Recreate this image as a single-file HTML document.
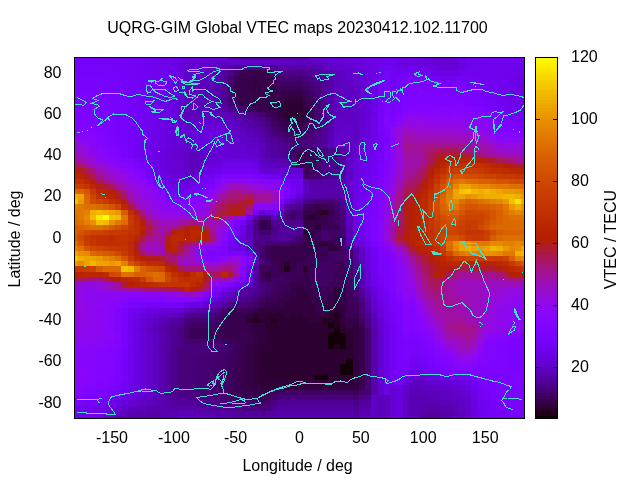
<!DOCTYPE html>
<html lang="en"><head><meta charset="utf-8"><title>UQRG-GIM Global VTEC maps</title>
<style>
html,body{margin:0;padding:0;background:#fff;overflow:hidden}
svg{display:block;position:absolute;left:0;top:0}
text{font-family:"Liberation Sans",Arial,Helvetica,sans-serif;font-size:16px;fill:#000}
.hm rect{shape-rendering:crispEdges}
.cb rect{shape-rendering:crispEdges}
.coast{fill:none;stroke:#40e0d0;stroke-width:1;shape-rendering:crispEdges;stroke-linejoin:miter}
.fr{fill:none;stroke:#000;stroke-width:1;shape-rendering:crispEdges}
</style></head><body>
<svg width="640" height="480" viewBox="0 0 640 480">
<rect width="640" height="480" fill="#fff"/>
<g class="hm">
<rect x="75" y="58" width="40" height="2" fill="#7502f7"/><rect x="115" y="58" width="31" height="2" fill="#7302f3"/><rect x="146" y="58" width="25" height="2" fill="#6e02ea"/><rect x="171" y="58" width="7" height="2" fill="#6b01e3"/><rect x="178" y="58" width="6" height="2" fill="#6901df"/><rect x="184" y="58" width="19" height="2" fill="#6a01e1"/><rect x="203" y="58" width="18" height="2" fill="#6701da"/><rect x="221" y="58" width="7" height="2" fill="#6801de"/><rect x="228" y="58" width="6" height="2" fill="#5c01ba"/><rect x="234" y="58" width="12" height="2" fill="#5700aa"/><rect x="246" y="58" width="32" height="2" fill="#54009f"/><rect x="278" y="58" width="31" height="2" fill="#5700aa"/><rect x="309" y="58" width="19" height="2" fill="#6301cf"/><rect x="328" y="58" width="18" height="2" fill="#6601d6"/><rect x="346" y="58" width="19" height="2" fill="#6801dd"/><rect x="365" y="58" width="25" height="2" fill="#6e02ea"/><rect x="390" y="58" width="6" height="2" fill="#6f02ed"/><rect x="396" y="58" width="7" height="2" fill="#6b01e4"/><rect x="403" y="58" width="6" height="2" fill="#6a01e1"/><rect x="409" y="58" width="6" height="2" fill="#6d02e7"/><rect x="415" y="58" width="13" height="2" fill="#6a01e1"/><rect x="428" y="58" width="25" height="2" fill="#6501d3"/><rect x="453" y="58" width="6" height="2" fill="#6701db"/><rect x="459" y="58" width="6" height="2" fill="#6a01e2"/><rect x="465" y="58" width="19" height="2" fill="#6e02ea"/><rect x="484" y="58" width="40" height="2" fill="#7002ef"/>
<rect x="75" y="60" width="3" height="5" fill="#7502f7"/><rect x="78" y="60" width="25" height="5" fill="#7502f8"/><rect x="103" y="60" width="12" height="5" fill="#7502f7"/><rect x="115" y="60" width="6" height="5" fill="#7402f6"/><rect x="121" y="60" width="7" height="5" fill="#7402f5"/><rect x="128" y="60" width="6" height="5" fill="#7302f4"/><rect x="134" y="60" width="6" height="5" fill="#7202f3"/><rect x="140" y="60" width="6" height="5" fill="#7102f1"/><rect x="146" y="60" width="7" height="5" fill="#7002ef"/><rect x="153" y="60" width="6" height="5" fill="#6f02ed"/><rect x="159" y="60" width="6" height="5" fill="#6e02ea"/><rect x="165" y="60" width="6" height="5" fill="#6d02e8"/><rect x="171" y="60" width="7" height="5" fill="#6c01e6"/><rect x="178" y="60" width="6" height="5" fill="#6801dd"/><rect x="184" y="60" width="12" height="5" fill="#6501d5"/><rect x="196" y="60" width="7" height="5" fill="#6401d2"/><rect x="203" y="60" width="6" height="5" fill="#6401d0"/><rect x="209" y="60" width="6" height="5" fill="#6301cf"/><rect x="215" y="60" width="6" height="5" fill="#6101c8"/><rect x="221" y="60" width="7" height="5" fill="#6001c6"/><rect x="228" y="60" width="6" height="5" fill="#6201cc"/><rect x="234" y="60" width="6" height="5" fill="#6301cf"/><rect x="240" y="60" width="6" height="5" fill="#6301ce"/><rect x="246" y="60" width="7" height="5" fill="#6201cc"/><rect x="253" y="60" width="6" height="5" fill="#6101ca"/><rect x="259" y="60" width="6" height="5" fill="#6101c9"/><rect x="265" y="60" width="6" height="5" fill="#6001c7"/><rect x="271" y="60" width="7" height="5" fill="#6001c5"/><rect x="278" y="60" width="6" height="5" fill="#5f01c4"/><rect x="284" y="60" width="6" height="5" fill="#5f01c2"/><rect x="290" y="60" width="6" height="5" fill="#5e01c0"/><rect x="296" y="60" width="7" height="5" fill="#5d01be"/><rect x="303" y="60" width="18" height="5" fill="#5e01c1"/><rect x="321" y="60" width="7" height="5" fill="#6101ca"/><rect x="328" y="60" width="6" height="5" fill="#6301ce"/><rect x="334" y="60" width="6" height="5" fill="#6401d3"/><rect x="340" y="60" width="6" height="5" fill="#6501d6"/><rect x="346" y="60" width="7" height="5" fill="#6601d8"/><rect x="353" y="60" width="6" height="5" fill="#6701db"/><rect x="359" y="60" width="6" height="5" fill="#6901df"/><rect x="365" y="60" width="6" height="5" fill="#6b01e4"/><rect x="371" y="60" width="13" height="5" fill="#6d02e8"/><rect x="384" y="60" width="12" height="5" fill="#6f02ee"/><rect x="396" y="60" width="7" height="5" fill="#6b01e3"/><rect x="403" y="60" width="6" height="5" fill="#6901e0"/><rect x="409" y="60" width="6" height="5" fill="#6b01e3"/><rect x="415" y="60" width="6" height="5" fill="#6901df"/><rect x="421" y="60" width="7" height="5" fill="#6801db"/><rect x="428" y="60" width="6" height="5" fill="#6601d8"/><rect x="434" y="60" width="6" height="5" fill="#6501d5"/><rect x="440" y="60" width="13" height="5" fill="#6401d3"/><rect x="453" y="60" width="6" height="5" fill="#6501d5"/><rect x="459" y="60" width="6" height="5" fill="#6901e0"/><rect x="465" y="60" width="6" height="5" fill="#6e02eb"/><rect x="471" y="60" width="7" height="5" fill="#6f02ec"/><rect x="478" y="60" width="6" height="5" fill="#6f02ed"/><rect x="484" y="60" width="6" height="5" fill="#7002ee"/><rect x="490" y="60" width="25" height="5" fill="#7002ef"/><rect x="515" y="60" width="6" height="5" fill="#7002ee"/><rect x="521" y="60" width="3" height="5" fill="#7002ef"/>
<rect x="75" y="65" width="3" height="5" fill="#7502f7"/><rect x="78" y="65" width="31" height="5" fill="#7602f8"/><rect x="109" y="65" width="12" height="5" fill="#7502f7"/><rect x="121" y="65" width="7" height="5" fill="#7402f6"/><rect x="128" y="65" width="6" height="5" fill="#7402f5"/><rect x="134" y="65" width="6" height="5" fill="#7302f4"/><rect x="140" y="65" width="6" height="5" fill="#7202f2"/><rect x="146" y="65" width="7" height="5" fill="#7102f0"/><rect x="153" y="65" width="6" height="5" fill="#7002ee"/><rect x="159" y="65" width="6" height="5" fill="#6e02ec"/><rect x="165" y="65" width="6" height="5" fill="#6e02ea"/><rect x="171" y="65" width="7" height="5" fill="#6c01e7"/><rect x="178" y="65" width="6" height="5" fill="#6801dc"/><rect x="184" y="65" width="6" height="5" fill="#6301d0"/><rect x="190" y="65" width="6" height="5" fill="#6301ce"/><rect x="196" y="65" width="7" height="5" fill="#6101ca"/><rect x="203" y="65" width="6" height="5" fill="#6001c6"/><rect x="209" y="65" width="6" height="5" fill="#5f01c3"/><rect x="215" y="65" width="6" height="5" fill="#5d01bc"/><rect x="221" y="65" width="7" height="5" fill="#5900b1"/><rect x="228" y="65" width="6" height="5" fill="#5500a5"/><rect x="234" y="65" width="12" height="5" fill="#4f0092"/><rect x="246" y="65" width="19" height="5" fill="#4c0086"/><rect x="265" y="65" width="6" height="5" fill="#4d008a"/><rect x="271" y="65" width="7" height="5" fill="#510097"/><rect x="278" y="65" width="37" height="5" fill="#5700aa"/><rect x="315" y="65" width="6" height="5" fill="#5a00b4"/><rect x="321" y="65" width="7" height="5" fill="#5d01bd"/><rect x="328" y="65" width="6" height="5" fill="#6001c6"/><rect x="334" y="65" width="6" height="5" fill="#6301cf"/><rect x="340" y="65" width="6" height="5" fill="#6401d1"/><rect x="346" y="65" width="7" height="5" fill="#6501d4"/><rect x="353" y="65" width="6" height="5" fill="#6601d7"/><rect x="359" y="65" width="6" height="5" fill="#6801dc"/><rect x="365" y="65" width="6" height="5" fill="#6901e0"/><rect x="371" y="65" width="7" height="5" fill="#6b01e4"/><rect x="378" y="65" width="6" height="5" fill="#6f02ec"/><rect x="384" y="65" width="6" height="5" fill="#7302f4"/><rect x="390" y="65" width="6" height="5" fill="#7102f0"/><rect x="396" y="65" width="13" height="5" fill="#6d02e9"/><rect x="409" y="65" width="6" height="5" fill="#6f02ed"/><rect x="415" y="65" width="6" height="5" fill="#6d02e8"/><rect x="421" y="65" width="7" height="5" fill="#6b01e4"/><rect x="428" y="65" width="6" height="5" fill="#6901e0"/><rect x="434" y="65" width="6" height="5" fill="#6801dc"/><rect x="440" y="65" width="19" height="5" fill="#6701da"/><rect x="459" y="65" width="6" height="5" fill="#6b01e3"/><rect x="465" y="65" width="6" height="5" fill="#6f02ed"/><rect x="471" y="65" width="38" height="5" fill="#7002ef"/><rect x="509" y="65" width="6" height="5" fill="#6f02ed"/><rect x="515" y="65" width="6" height="5" fill="#6f02ec"/><rect x="521" y="65" width="3" height="5" fill="#6e02ea"/>
<rect x="75" y="70" width="3" height="6" fill="#7703fa"/><rect x="78" y="70" width="31" height="6" fill="#7603f9"/><rect x="109" y="70" width="6" height="6" fill="#7602f8"/><rect x="115" y="70" width="6" height="6" fill="#7502f8"/><rect x="121" y="70" width="7" height="6" fill="#7502f7"/><rect x="128" y="70" width="6" height="6" fill="#7402f6"/><rect x="134" y="70" width="6" height="6" fill="#7302f5"/><rect x="140" y="70" width="6" height="6" fill="#7202f3"/><rect x="146" y="70" width="7" height="6" fill="#7102f1"/><rect x="153" y="70" width="6" height="6" fill="#7002ef"/><rect x="159" y="70" width="6" height="6" fill="#6f02ed"/><rect x="165" y="70" width="6" height="6" fill="#6e02eb"/><rect x="171" y="70" width="7" height="6" fill="#6d02e8"/><rect x="178" y="70" width="6" height="6" fill="#6801dd"/><rect x="184" y="70" width="6" height="6" fill="#6301d0"/><rect x="190" y="70" width="6" height="6" fill="#6101c9"/><rect x="196" y="70" width="7" height="6" fill="#6001c6"/><rect x="203" y="70" width="6" height="6" fill="#5e01c1"/><rect x="209" y="70" width="6" height="6" fill="#5d01bd"/><rect x="215" y="70" width="6" height="6" fill="#5a01b5"/><rect x="221" y="70" width="7" height="6" fill="#5400a1"/><rect x="228" y="70" width="6" height="6" fill="#4b0085"/><rect x="234" y="70" width="6" height="6" fill="#43006c"/><rect x="240" y="70" width="6" height="6" fill="#3b0053"/><rect x="246" y="70" width="19" height="6" fill="#37004b"/><rect x="265" y="70" width="6" height="6" fill="#39004e"/><rect x="271" y="70" width="7" height="6" fill="#470078"/><rect x="278" y="70" width="25" height="6" fill="#4d0089"/><rect x="303" y="70" width="12" height="6" fill="#500094"/><rect x="315" y="70" width="6" height="6" fill="#54009f"/><rect x="321" y="70" width="7" height="6" fill="#5700aa"/><rect x="328" y="70" width="6" height="6" fill="#5a00b4"/><rect x="334" y="70" width="6" height="6" fill="#5d01bd"/><rect x="340" y="70" width="6" height="6" fill="#6001c6"/><rect x="346" y="70" width="7" height="6" fill="#6201cd"/><rect x="353" y="70" width="6" height="6" fill="#6401d3"/><rect x="359" y="70" width="6" height="6" fill="#6701db"/><rect x="365" y="70" width="6" height="6" fill="#6901df"/><rect x="371" y="70" width="7" height="6" fill="#6b01e4"/><rect x="378" y="70" width="6" height="6" fill="#7202f2"/><rect x="384" y="70" width="6" height="6" fill="#7603f9"/><rect x="390" y="70" width="6" height="6" fill="#7202f2"/><rect x="396" y="70" width="13" height="6" fill="#7102f1"/><rect x="409" y="70" width="6" height="6" fill="#7202f3"/><rect x="415" y="70" width="6" height="6" fill="#7102f1"/><rect x="421" y="70" width="7" height="6" fill="#6f02ee"/><rect x="428" y="70" width="6" height="6" fill="#6e02ea"/><rect x="434" y="70" width="6" height="6" fill="#6c01e7"/><rect x="440" y="70" width="19" height="6" fill="#6c01e5"/><rect x="459" y="70" width="6" height="6" fill="#6e02ec"/><rect x="465" y="70" width="6" height="6" fill="#7102f1"/><rect x="471" y="70" width="7" height="6" fill="#7102f0"/><rect x="478" y="70" width="25" height="6" fill="#7002ef"/><rect x="503" y="70" width="6" height="6" fill="#6f02ec"/><rect x="509" y="70" width="6" height="6" fill="#6e02eb"/><rect x="515" y="70" width="6" height="6" fill="#6d02e9"/><rect x="521" y="70" width="3" height="6" fill="#6e02ea"/>
<rect x="75" y="76" width="34" height="5" fill="#7703fa"/><rect x="109" y="76" width="6" height="5" fill="#7603f9"/><rect x="115" y="76" width="6" height="5" fill="#7602f8"/><rect x="121" y="76" width="7" height="5" fill="#7502f8"/><rect x="128" y="76" width="6" height="5" fill="#7502f7"/><rect x="134" y="76" width="6" height="5" fill="#7402f6"/><rect x="140" y="76" width="6" height="5" fill="#7302f4"/><rect x="146" y="76" width="7" height="5" fill="#7202f2"/><rect x="153" y="76" width="6" height="5" fill="#7102f0"/><rect x="159" y="76" width="6" height="5" fill="#7002ee"/><rect x="165" y="76" width="6" height="5" fill="#6f02ec"/><rect x="171" y="76" width="7" height="5" fill="#6d02e8"/><rect x="178" y="76" width="6" height="5" fill="#6801dd"/><rect x="184" y="76" width="6" height="5" fill="#6201cd"/><rect x="190" y="76" width="6" height="5" fill="#6001c5"/><rect x="196" y="76" width="7" height="5" fill="#5e01c1"/><rect x="203" y="76" width="6" height="5" fill="#5d01bd"/><rect x="209" y="76" width="6" height="5" fill="#5c01b9"/><rect x="215" y="76" width="6" height="5" fill="#5900b0"/><rect x="221" y="76" width="7" height="5" fill="#510097"/><rect x="228" y="76" width="6" height="5" fill="#450073"/><rect x="234" y="76" width="6" height="5" fill="#3c0058"/><rect x="240" y="76" width="31" height="5" fill="#37004b"/><rect x="271" y="76" width="7" height="5" fill="#3e005c"/><rect x="278" y="76" width="25" height="5" fill="#450071"/><rect x="303" y="76" width="6" height="5" fill="#49007d"/><rect x="309" y="76" width="6" height="5" fill="#4d0089"/><rect x="315" y="76" width="6" height="5" fill="#500094"/><rect x="321" y="76" width="7" height="5" fill="#54009f"/><rect x="328" y="76" width="6" height="5" fill="#5700aa"/><rect x="334" y="76" width="6" height="5" fill="#5d01bd"/><rect x="340" y="76" width="6" height="5" fill="#5f01c3"/><rect x="346" y="76" width="7" height="5" fill="#6101c9"/><rect x="353" y="76" width="6" height="5" fill="#6301ce"/><rect x="359" y="76" width="6" height="5" fill="#6601d8"/><rect x="365" y="76" width="6" height="5" fill="#6901df"/><rect x="371" y="76" width="7" height="5" fill="#6b01e4"/><rect x="378" y="76" width="6" height="5" fill="#7202f3"/><rect x="384" y="76" width="6" height="5" fill="#7803fb"/><rect x="390" y="76" width="6" height="5" fill="#7302f3"/><rect x="396" y="76" width="7" height="5" fill="#7402f6"/><rect x="403" y="76" width="6" height="5" fill="#7703fa"/><rect x="409" y="76" width="6" height="5" fill="#7803fb"/><rect x="415" y="76" width="6" height="5" fill="#7703fa"/><rect x="421" y="76" width="7" height="5" fill="#7602f8"/><rect x="428" y="76" width="6" height="5" fill="#7502f7"/><rect x="434" y="76" width="6" height="5" fill="#7402f5"/><rect x="440" y="76" width="13" height="5" fill="#7302f4"/><rect x="453" y="76" width="6" height="5" fill="#7202f3"/><rect x="459" y="76" width="6" height="5" fill="#7302f4"/><rect x="465" y="76" width="6" height="5" fill="#7402f5"/><rect x="471" y="76" width="7" height="5" fill="#7302f4"/><rect x="478" y="76" width="6" height="5" fill="#7202f2"/><rect x="484" y="76" width="6" height="5" fill="#7102f0"/><rect x="490" y="76" width="13" height="5" fill="#7002ef"/><rect x="503" y="76" width="6" height="5" fill="#6f02ec"/><rect x="509" y="76" width="6" height="5" fill="#6d02e9"/><rect x="515" y="76" width="6" height="5" fill="#6c01e6"/><rect x="521" y="76" width="3" height="5" fill="#6b01e4"/>
<rect x="75" y="81" width="3" height="5" fill="#7703fa"/><rect x="78" y="81" width="25" height="5" fill="#7803fa"/><rect x="103" y="81" width="12" height="5" fill="#7703fa"/><rect x="115" y="81" width="6" height="5" fill="#7603f9"/><rect x="121" y="81" width="7" height="5" fill="#7602f8"/><rect x="128" y="81" width="6" height="5" fill="#7502f8"/><rect x="134" y="81" width="6" height="5" fill="#7402f6"/><rect x="140" y="81" width="6" height="5" fill="#7302f4"/><rect x="146" y="81" width="7" height="5" fill="#7202f2"/><rect x="153" y="81" width="6" height="5" fill="#7102f0"/><rect x="159" y="81" width="6" height="5" fill="#7002ee"/><rect x="165" y="81" width="6" height="5" fill="#6e02ea"/><rect x="171" y="81" width="7" height="5" fill="#6c01e6"/><rect x="178" y="81" width="6" height="5" fill="#6701d9"/><rect x="184" y="81" width="6" height="5" fill="#6101c8"/><rect x="190" y="81" width="6" height="5" fill="#5f01c2"/><rect x="196" y="81" width="7" height="5" fill="#5e01bf"/><rect x="203" y="81" width="6" height="5" fill="#5c01bb"/><rect x="209" y="81" width="6" height="5" fill="#5b01b6"/><rect x="215" y="81" width="6" height="5" fill="#5800ad"/><rect x="221" y="81" width="7" height="5" fill="#500095"/><rect x="228" y="81" width="6" height="5" fill="#450073"/><rect x="234" y="81" width="19" height="5" fill="#37004b"/><rect x="253" y="81" width="6" height="5" fill="#32003d"/><rect x="259" y="81" width="12" height="5" fill="#37004b"/><rect x="271" y="81" width="7" height="5" fill="#39004f"/><rect x="278" y="81" width="25" height="5" fill="#410064"/><rect x="303" y="81" width="6" height="5" fill="#450071"/><rect x="309" y="81" width="6" height="5" fill="#49007d"/><rect x="315" y="81" width="6" height="5" fill="#4d0089"/><rect x="321" y="81" width="7" height="5" fill="#500094"/><rect x="328" y="81" width="6" height="5" fill="#5700aa"/><rect x="334" y="81" width="6" height="5" fill="#5d01bd"/><rect x="340" y="81" width="6" height="5" fill="#5e01c0"/><rect x="346" y="81" width="7" height="5" fill="#5f01c4"/><rect x="353" y="81" width="6" height="5" fill="#6101ca"/><rect x="359" y="81" width="6" height="5" fill="#6501d4"/><rect x="365" y="81" width="6" height="5" fill="#6801de"/><rect x="371" y="81" width="7" height="5" fill="#6b01e4"/><rect x="378" y="81" width="6" height="5" fill="#7202f3"/><rect x="384" y="81" width="6" height="5" fill="#7a03fd"/><rect x="390" y="81" width="6" height="5" fill="#7302f4"/><rect x="396" y="81" width="7" height="5" fill="#7602f8"/><rect x="403" y="81" width="6" height="5" fill="#7a03fd"/><rect x="409" y="81" width="6" height="5" fill="#7b03fe"/><rect x="415" y="81" width="6" height="5" fill="#7c03fe"/><rect x="421" y="81" width="7" height="5" fill="#7b03fd"/><rect x="428" y="81" width="6" height="5" fill="#7a03fc"/><rect x="434" y="81" width="6" height="5" fill="#7903fc"/><rect x="440" y="81" width="13" height="5" fill="#7803fb"/><rect x="453" y="81" width="6" height="5" fill="#7703fa"/><rect x="459" y="81" width="6" height="5" fill="#7703f9"/><rect x="465" y="81" width="6" height="5" fill="#7603f9"/><rect x="471" y="81" width="7" height="5" fill="#7502f6"/><rect x="478" y="81" width="6" height="5" fill="#7302f4"/><rect x="484" y="81" width="6" height="5" fill="#7202f3"/><rect x="490" y="81" width="6" height="5" fill="#7102f1"/><rect x="496" y="81" width="7" height="5" fill="#7002ef"/><rect x="503" y="81" width="6" height="5" fill="#6f02ec"/><rect x="509" y="81" width="6" height="5" fill="#6d02e9"/><rect x="515" y="81" width="6" height="5" fill="#6c01e6"/><rect x="521" y="81" width="3" height="5" fill="#6b01e4"/>
<rect x="75" y="86" width="3" height="5" fill="#7703fa"/><rect x="78" y="86" width="31" height="5" fill="#7803fb"/><rect x="109" y="86" width="12" height="5" fill="#7703fa"/><rect x="121" y="86" width="7" height="5" fill="#7603f9"/><rect x="128" y="86" width="6" height="5" fill="#7502f8"/><rect x="134" y="86" width="6" height="5" fill="#7402f6"/><rect x="140" y="86" width="6" height="5" fill="#7202f3"/><rect x="146" y="86" width="7" height="5" fill="#7102f1"/><rect x="153" y="86" width="6" height="5" fill="#7002ef"/><rect x="159" y="86" width="6" height="5" fill="#6f02ed"/><rect x="165" y="86" width="6" height="5" fill="#6d02e9"/><rect x="171" y="86" width="7" height="5" fill="#6a01e2"/><rect x="178" y="86" width="6" height="5" fill="#6401d3"/><rect x="184" y="86" width="6" height="5" fill="#5f01c3"/><rect x="190" y="86" width="6" height="5" fill="#5d01be"/><rect x="196" y="86" width="7" height="5" fill="#5d01bc"/><rect x="203" y="86" width="6" height="5" fill="#5c01ba"/><rect x="209" y="86" width="6" height="5" fill="#5b01b6"/><rect x="215" y="86" width="6" height="5" fill="#5800ad"/><rect x="221" y="86" width="7" height="5" fill="#500095"/><rect x="228" y="86" width="6" height="5" fill="#450073"/><rect x="234" y="86" width="19" height="5" fill="#37004b"/><rect x="253" y="86" width="6" height="5" fill="#32003d"/><rect x="259" y="86" width="19" height="5" fill="#37004b"/><rect x="278" y="86" width="25" height="5" fill="#3c0058"/><rect x="303" y="86" width="6" height="5" fill="#410064"/><rect x="309" y="86" width="6" height="5" fill="#450071"/><rect x="315" y="86" width="6" height="5" fill="#49007d"/><rect x="321" y="86" width="7" height="5" fill="#500094"/><rect x="328" y="86" width="6" height="5" fill="#5700aa"/><rect x="334" y="86" width="6" height="5" fill="#5d01bd"/><rect x="340" y="86" width="6" height="5" fill="#5e01c0"/><rect x="346" y="86" width="7" height="5" fill="#5f01c3"/><rect x="353" y="86" width="6" height="5" fill="#6001c6"/><rect x="359" y="86" width="6" height="5" fill="#6401d1"/><rect x="365" y="86" width="6" height="5" fill="#6701db"/><rect x="371" y="86" width="7" height="5" fill="#6b01e3"/><rect x="378" y="86" width="6" height="5" fill="#7302f5"/><rect x="384" y="86" width="6" height="5" fill="#7b03fd"/><rect x="390" y="86" width="6" height="5" fill="#7302f4"/><rect x="396" y="86" width="7" height="5" fill="#7703f9"/><rect x="403" y="86" width="12" height="5" fill="#7b03fd"/><rect x="415" y="86" width="6" height="5" fill="#7d04fe"/><rect x="421" y="86" width="13" height="5" fill="#7c03fe"/><rect x="434" y="86" width="6" height="5" fill="#7b03fe"/><rect x="440" y="86" width="6" height="5" fill="#7b03fd"/><rect x="446" y="86" width="7" height="5" fill="#7a03fd"/><rect x="453" y="86" width="6" height="5" fill="#7a03fc"/><rect x="459" y="86" width="6" height="5" fill="#7903fc"/><rect x="465" y="86" width="6" height="5" fill="#7903fb"/><rect x="471" y="86" width="7" height="5" fill="#7703fa"/><rect x="478" y="86" width="6" height="5" fill="#7502f7"/><rect x="484" y="86" width="6" height="5" fill="#7302f4"/><rect x="490" y="86" width="6" height="5" fill="#7102f1"/><rect x="496" y="86" width="7" height="5" fill="#7002ef"/><rect x="503" y="86" width="6" height="5" fill="#6f02ec"/><rect x="509" y="86" width="6" height="5" fill="#6d02e9"/><rect x="515" y="86" width="6" height="5" fill="#6c01e6"/><rect x="521" y="86" width="3" height="5" fill="#6b01e4"/>
<rect x="75" y="91" width="3" height="5" fill="#7a03fc"/><rect x="78" y="91" width="25" height="5" fill="#7903fc"/><rect x="103" y="91" width="12" height="5" fill="#7803fb"/><rect x="115" y="91" width="6" height="5" fill="#7703fa"/><rect x="121" y="91" width="7" height="5" fill="#7603f9"/><rect x="128" y="91" width="6" height="5" fill="#7502f8"/><rect x="134" y="91" width="6" height="5" fill="#7402f6"/><rect x="140" y="91" width="6" height="5" fill="#7202f3"/><rect x="146" y="91" width="7" height="5" fill="#7102f0"/><rect x="153" y="91" width="6" height="5" fill="#7002ee"/><rect x="159" y="91" width="6" height="5" fill="#6f02ec"/><rect x="165" y="91" width="6" height="5" fill="#6c02e7"/><rect x="171" y="91" width="7" height="5" fill="#6a01e1"/><rect x="178" y="91" width="6" height="5" fill="#6401d1"/><rect x="184" y="91" width="6" height="5" fill="#5e01bf"/><rect x="190" y="91" width="6" height="5" fill="#5c01bc"/><rect x="196" y="91" width="7" height="5" fill="#5c01b9"/><rect x="203" y="91" width="6" height="5" fill="#5b01b7"/><rect x="209" y="91" width="6" height="5" fill="#5a01b5"/><rect x="215" y="91" width="6" height="5" fill="#5800ad"/><rect x="221" y="91" width="7" height="5" fill="#500095"/><rect x="228" y="91" width="6" height="5" fill="#450073"/><rect x="234" y="91" width="69" height="5" fill="#37004b"/><rect x="303" y="91" width="6" height="5" fill="#3c0058"/><rect x="309" y="91" width="6" height="5" fill="#410064"/><rect x="315" y="91" width="6" height="5" fill="#49007d"/><rect x="321" y="91" width="7" height="5" fill="#500094"/><rect x="328" y="91" width="6" height="5" fill="#5700aa"/><rect x="334" y="91" width="6" height="5" fill="#5d01bd"/><rect x="340" y="91" width="6" height="5" fill="#5e01c0"/><rect x="346" y="91" width="7" height="5" fill="#5f01c3"/><rect x="353" y="91" width="6" height="5" fill="#6001c6"/><rect x="359" y="91" width="6" height="5" fill="#6401d1"/><rect x="365" y="91" width="6" height="5" fill="#6701db"/><rect x="371" y="91" width="7" height="5" fill="#6b01e3"/><rect x="378" y="91" width="6" height="5" fill="#7402f5"/><rect x="384" y="91" width="6" height="5" fill="#7c03fe"/><rect x="390" y="91" width="6" height="5" fill="#7402f5"/><rect x="396" y="91" width="7" height="5" fill="#7803fb"/><rect x="403" y="91" width="6" height="5" fill="#7c03fe"/><rect x="409" y="91" width="6" height="5" fill="#7f04ff"/><rect x="415" y="91" width="13" height="5" fill="#7e04ff"/><rect x="428" y="91" width="6" height="5" fill="#7d04ff"/><rect x="434" y="91" width="6" height="5" fill="#7d03fe"/><rect x="440" y="91" width="13" height="5" fill="#7c03fe"/><rect x="453" y="91" width="6" height="5" fill="#7b03fe"/><rect x="459" y="91" width="6" height="5" fill="#7b03fd"/><rect x="465" y="91" width="6" height="5" fill="#7a03fd"/><rect x="471" y="91" width="7" height="5" fill="#7903fc"/><rect x="478" y="91" width="6" height="5" fill="#7703f9"/><rect x="484" y="91" width="6" height="5" fill="#7502f7"/><rect x="490" y="91" width="6" height="5" fill="#7202f3"/><rect x="496" y="91" width="7" height="5" fill="#7002ef"/><rect x="503" y="91" width="6" height="5" fill="#6f02ec"/><rect x="509" y="91" width="6" height="5" fill="#6d02e9"/><rect x="515" y="91" width="6" height="5" fill="#6c01e6"/><rect x="521" y="91" width="3" height="5" fill="#6b01e4"/>
<rect x="75" y="96" width="3" height="5" fill="#7a03fc"/><rect x="78" y="96" width="31" height="5" fill="#7903fc"/><rect x="109" y="96" width="6" height="5" fill="#7803fb"/><rect x="115" y="96" width="6" height="5" fill="#7703fa"/><rect x="121" y="96" width="7" height="5" fill="#7603f9"/><rect x="128" y="96" width="6" height="5" fill="#7502f8"/><rect x="134" y="96" width="6" height="5" fill="#7402f6"/><rect x="140" y="96" width="6" height="5" fill="#7202f3"/><rect x="146" y="96" width="7" height="5" fill="#7102f0"/><rect x="153" y="96" width="6" height="5" fill="#6f02ed"/><rect x="159" y="96" width="6" height="5" fill="#6e02eb"/><rect x="165" y="96" width="6" height="5" fill="#6c01e6"/><rect x="171" y="96" width="7" height="5" fill="#6901e0"/><rect x="178" y="96" width="6" height="5" fill="#6301d0"/><rect x="184" y="96" width="6" height="5" fill="#5d01be"/><rect x="190" y="96" width="6" height="5" fill="#5c01bc"/><rect x="196" y="96" width="7" height="5" fill="#5c01b9"/><rect x="203" y="96" width="6" height="5" fill="#5b01b7"/><rect x="209" y="96" width="6" height="5" fill="#5a01b5"/><rect x="215" y="96" width="6" height="5" fill="#5800ad"/><rect x="221" y="96" width="7" height="5" fill="#500095"/><rect x="228" y="96" width="6" height="5" fill="#450073"/><rect x="234" y="96" width="6" height="5" fill="#3c0058"/><rect x="240" y="96" width="44" height="5" fill="#37004b"/><rect x="284" y="96" width="19" height="5" fill="#32003d"/><rect x="303" y="96" width="6" height="5" fill="#37004b"/><rect x="309" y="96" width="6" height="5" fill="#410064"/><rect x="315" y="96" width="6" height="5" fill="#49007d"/><rect x="321" y="96" width="7" height="5" fill="#500094"/><rect x="328" y="96" width="6" height="5" fill="#5700aa"/><rect x="334" y="96" width="6" height="5" fill="#5d01bd"/><rect x="340" y="96" width="6" height="5" fill="#5e01c0"/><rect x="346" y="96" width="7" height="5" fill="#5f01c3"/><rect x="353" y="96" width="6" height="5" fill="#6001c6"/><rect x="359" y="96" width="6" height="5" fill="#6401d1"/><rect x="365" y="96" width="6" height="5" fill="#6701db"/><rect x="371" y="96" width="7" height="5" fill="#6b01e3"/><rect x="378" y="96" width="6" height="5" fill="#7402f5"/><rect x="384" y="96" width="6" height="5" fill="#7c03fe"/><rect x="390" y="96" width="6" height="5" fill="#7402f6"/><rect x="396" y="96" width="7" height="5" fill="#7803fb"/><rect x="403" y="96" width="6" height="5" fill="#7d04ff"/><rect x="409" y="96" width="6" height="5" fill="#8004ff"/><rect x="415" y="96" width="13" height="5" fill="#7f04ff"/><rect x="428" y="96" width="12" height="5" fill="#7e04ff"/><rect x="440" y="96" width="6" height="5" fill="#7d04ff"/><rect x="446" y="96" width="7" height="5" fill="#7d04fe"/><rect x="453" y="96" width="12" height="5" fill="#7c03fe"/><rect x="465" y="96" width="6" height="5" fill="#7b03fe"/><rect x="471" y="96" width="7" height="5" fill="#7a03fd"/><rect x="478" y="96" width="6" height="5" fill="#7803fa"/><rect x="484" y="96" width="6" height="5" fill="#7502f7"/><rect x="490" y="96" width="6" height="5" fill="#7202f3"/><rect x="496" y="96" width="7" height="5" fill="#7002ef"/><rect x="503" y="96" width="6" height="5" fill="#6f02ec"/><rect x="509" y="96" width="6" height="5" fill="#6d02e9"/><rect x="515" y="96" width="6" height="5" fill="#6c01e6"/><rect x="521" y="96" width="3" height="5" fill="#6b01e4"/>
<rect x="75" y="101" width="28" height="5" fill="#7a03fc"/><rect x="103" y="101" width="6" height="5" fill="#7903fc"/><rect x="109" y="101" width="6" height="5" fill="#7803fb"/><rect x="115" y="101" width="6" height="5" fill="#7703fa"/><rect x="121" y="101" width="7" height="5" fill="#7603f9"/><rect x="128" y="101" width="6" height="5" fill="#7502f8"/><rect x="134" y="101" width="6" height="5" fill="#7402f6"/><rect x="140" y="101" width="6" height="5" fill="#7202f3"/><rect x="146" y="101" width="7" height="5" fill="#7102f0"/><rect x="153" y="101" width="6" height="5" fill="#6f02ed"/><rect x="159" y="101" width="6" height="5" fill="#6d02ea"/><rect x="165" y="101" width="6" height="5" fill="#6b01e5"/><rect x="171" y="101" width="7" height="5" fill="#6901de"/><rect x="178" y="101" width="6" height="5" fill="#6301ce"/><rect x="184" y="101" width="6" height="5" fill="#5d01be"/><rect x="190" y="101" width="6" height="5" fill="#5c01bc"/><rect x="196" y="101" width="7" height="5" fill="#5c01b9"/><rect x="203" y="101" width="6" height="5" fill="#5b01b7"/><rect x="209" y="101" width="6" height="5" fill="#5b01b6"/><rect x="215" y="101" width="6" height="5" fill="#5900b0"/><rect x="221" y="101" width="7" height="5" fill="#510097"/><rect x="228" y="101" width="6" height="5" fill="#450073"/><rect x="234" y="101" width="6" height="5" fill="#3c0058"/><rect x="240" y="101" width="38" height="5" fill="#37004b"/><rect x="278" y="101" width="6" height="5" fill="#32003d"/><rect x="284" y="101" width="19" height="5" fill="#2c0030"/><rect x="303" y="101" width="6" height="5" fill="#37004b"/><rect x="309" y="101" width="6" height="5" fill="#3c0058"/><rect x="315" y="101" width="6" height="5" fill="#450071"/><rect x="321" y="101" width="7" height="5" fill="#4d0089"/><rect x="328" y="101" width="6" height="5" fill="#5700aa"/><rect x="334" y="101" width="6" height="5" fill="#5d01bd"/><rect x="340" y="101" width="6" height="5" fill="#5e01c0"/><rect x="346" y="101" width="7" height="5" fill="#5f01c3"/><rect x="353" y="101" width="6" height="5" fill="#6001c6"/><rect x="359" y="101" width="6" height="5" fill="#6401d1"/><rect x="365" y="101" width="6" height="5" fill="#6701db"/><rect x="371" y="101" width="7" height="5" fill="#6b01e3"/><rect x="378" y="101" width="6" height="5" fill="#7402f5"/><rect x="384" y="101" width="6" height="5" fill="#7c03fe"/><rect x="390" y="101" width="6" height="5" fill="#7502f7"/><rect x="396" y="101" width="7" height="5" fill="#7903fc"/><rect x="403" y="101" width="18" height="5" fill="#7e04ff"/><rect x="421" y="101" width="7" height="5" fill="#7d04ff"/><rect x="428" y="101" width="31" height="5" fill="#7e04ff"/><rect x="459" y="101" width="6" height="5" fill="#7d04ff"/><rect x="465" y="101" width="6" height="5" fill="#7d03fe"/><rect x="471" y="101" width="7" height="5" fill="#7b03fd"/><rect x="478" y="101" width="6" height="5" fill="#7903fc"/><rect x="484" y="101" width="6" height="5" fill="#7603f9"/><rect x="490" y="101" width="6" height="5" fill="#7402f5"/><rect x="496" y="101" width="7" height="5" fill="#7102f1"/><rect x="503" y="101" width="6" height="5" fill="#7002ee"/><rect x="509" y="101" width="6" height="5" fill="#6e02ec"/><rect x="515" y="101" width="6" height="5" fill="#6d02e9"/><rect x="521" y="101" width="3" height="5" fill="#6b01e4"/>
<rect x="75" y="106" width="3" height="6" fill="#7a03fc"/><rect x="78" y="106" width="18" height="6" fill="#7b03fe"/><rect x="96" y="106" width="7" height="6" fill="#7b03fd"/><rect x="103" y="106" width="6" height="6" fill="#7a03fd"/><rect x="109" y="106" width="6" height="6" fill="#7903fc"/><rect x="115" y="106" width="6" height="6" fill="#7803fb"/><rect x="121" y="106" width="7" height="6" fill="#7703fa"/><rect x="128" y="106" width="6" height="6" fill="#7502f8"/><rect x="134" y="106" width="6" height="6" fill="#7402f6"/><rect x="140" y="106" width="6" height="6" fill="#7202f3"/><rect x="146" y="106" width="7" height="6" fill="#7102f0"/><rect x="153" y="106" width="6" height="6" fill="#6f02ed"/><rect x="159" y="106" width="6" height="6" fill="#6d02e8"/><rect x="165" y="106" width="6" height="6" fill="#6b01e5"/><rect x="171" y="106" width="7" height="6" fill="#6901df"/><rect x="178" y="106" width="6" height="6" fill="#6401d1"/><rect x="184" y="106" width="6" height="6" fill="#5d01be"/><rect x="190" y="106" width="6" height="6" fill="#5c01bc"/><rect x="196" y="106" width="19" height="6" fill="#5c01bb"/><rect x="215" y="106" width="6" height="6" fill="#5a01b5"/><rect x="221" y="106" width="7" height="6" fill="#5500a5"/><rect x="228" y="106" width="6" height="6" fill="#4f0092"/><rect x="234" y="106" width="6" height="6" fill="#48007c"/><rect x="240" y="106" width="6" height="6" fill="#440070"/><rect x="246" y="106" width="7" height="6" fill="#400063"/><rect x="253" y="106" width="6" height="6" fill="#3c0056"/><rect x="259" y="106" width="19" height="6" fill="#37004b"/><rect x="278" y="106" width="6" height="6" fill="#32003d"/><rect x="284" y="106" width="19" height="6" fill="#2c0030"/><rect x="303" y="106" width="6" height="6" fill="#32003d"/><rect x="309" y="106" width="6" height="6" fill="#3c0058"/><rect x="315" y="106" width="6" height="6" fill="#450071"/><rect x="321" y="106" width="7" height="6" fill="#4d0089"/><rect x="328" y="106" width="6" height="6" fill="#5700aa"/><rect x="334" y="106" width="6" height="6" fill="#5d01bd"/><rect x="340" y="106" width="6" height="6" fill="#5e01c0"/><rect x="346" y="106" width="7" height="6" fill="#5f01c3"/><rect x="353" y="106" width="6" height="6" fill="#6001c6"/><rect x="359" y="106" width="6" height="6" fill="#6401d1"/><rect x="365" y="106" width="6" height="6" fill="#6701db"/><rect x="371" y="106" width="7" height="6" fill="#6b01e4"/><rect x="378" y="106" width="6" height="6" fill="#7502f7"/><rect x="384" y="106" width="6" height="6" fill="#7d04ff"/><rect x="390" y="106" width="6" height="6" fill="#7703fa"/><rect x="396" y="106" width="7" height="6" fill="#7c03fe"/><rect x="403" y="106" width="6" height="6" fill="#8204ff"/><rect x="409" y="106" width="6" height="6" fill="#8205fe"/><rect x="415" y="106" width="6" height="6" fill="#8204ff"/><rect x="421" y="106" width="7" height="6" fill="#8104ff"/><rect x="428" y="106" width="6" height="6" fill="#8204ff"/><rect x="434" y="106" width="6" height="6" fill="#8205fe"/><rect x="440" y="106" width="6" height="6" fill="#8305fe"/><rect x="446" y="106" width="7" height="6" fill="#8205fe"/><rect x="453" y="106" width="6" height="6" fill="#8204ff"/><rect x="459" y="106" width="12" height="6" fill="#8104ff"/><rect x="471" y="106" width="7" height="6" fill="#7f04ff"/><rect x="478" y="106" width="6" height="6" fill="#7d04ff"/><rect x="484" y="106" width="6" height="6" fill="#7b03fd"/><rect x="490" y="106" width="6" height="6" fill="#7703fa"/><rect x="496" y="106" width="7" height="6" fill="#7402f5"/><rect x="503" y="106" width="6" height="6" fill="#7202f3"/><rect x="509" y="106" width="6" height="6" fill="#7102f1"/><rect x="515" y="106" width="6" height="6" fill="#7002ee"/><rect x="521" y="106" width="3" height="6" fill="#7002ef"/>
<rect x="75" y="112" width="3" height="5" fill="#7a03fc"/><rect x="78" y="112" width="12" height="5" fill="#7d03fe"/><rect x="90" y="112" width="6" height="5" fill="#7c03fe"/><rect x="96" y="112" width="7" height="5" fill="#7b03fe"/><rect x="103" y="112" width="6" height="5" fill="#7a03fd"/><rect x="109" y="112" width="6" height="5" fill="#7903fc"/><rect x="115" y="112" width="6" height="5" fill="#7803fb"/><rect x="121" y="112" width="7" height="5" fill="#7703fa"/><rect x="128" y="112" width="6" height="5" fill="#7502f8"/><rect x="134" y="112" width="6" height="5" fill="#7402f6"/><rect x="140" y="112" width="6" height="5" fill="#7202f3"/><rect x="146" y="112" width="7" height="5" fill="#7102f0"/><rect x="153" y="112" width="6" height="5" fill="#6f02ec"/><rect x="159" y="112" width="6" height="5" fill="#6c02e7"/><rect x="165" y="112" width="6" height="5" fill="#6b01e3"/><rect x="171" y="112" width="7" height="5" fill="#6901de"/><rect x="178" y="112" width="6" height="5" fill="#6301cf"/><rect x="184" y="112" width="6" height="5" fill="#5d01be"/><rect x="190" y="112" width="19" height="5" fill="#5d01bd"/><rect x="209" y="112" width="6" height="5" fill="#5d01be"/><rect x="215" y="112" width="6" height="5" fill="#5c01bb"/><rect x="221" y="112" width="7" height="5" fill="#5b01b6"/><rect x="228" y="112" width="6" height="5" fill="#5900b0"/><rect x="234" y="112" width="6" height="5" fill="#5400a0"/><rect x="240" y="112" width="6" height="5" fill="#500095"/><rect x="246" y="112" width="7" height="5" fill="#4d0089"/><rect x="253" y="112" width="6" height="5" fill="#49007e"/><rect x="259" y="112" width="6" height="5" fill="#450072"/><rect x="265" y="112" width="6" height="5" fill="#3d005a"/><rect x="271" y="112" width="7" height="5" fill="#3b0053"/><rect x="278" y="112" width="6" height="5" fill="#32003d"/><rect x="284" y="112" width="19" height="5" fill="#2c0030"/><rect x="303" y="112" width="6" height="5" fill="#32003d"/><rect x="309" y="112" width="6" height="5" fill="#3c0058"/><rect x="315" y="112" width="6" height="5" fill="#450071"/><rect x="321" y="112" width="7" height="5" fill="#4d0089"/><rect x="328" y="112" width="6" height="5" fill="#5700aa"/><rect x="334" y="112" width="6" height="5" fill="#5d01bd"/><rect x="340" y="112" width="6" height="5" fill="#5e01c0"/><rect x="346" y="112" width="7" height="5" fill="#5f01c3"/><rect x="353" y="112" width="6" height="5" fill="#6001c6"/><rect x="359" y="112" width="6" height="5" fill="#6401d1"/><rect x="365" y="112" width="6" height="5" fill="#6701db"/><rect x="371" y="112" width="7" height="5" fill="#6c01e6"/><rect x="378" y="112" width="6" height="5" fill="#7602f8"/><rect x="384" y="112" width="6" height="5" fill="#7e04ff"/><rect x="390" y="112" width="6" height="5" fill="#7903fc"/><rect x="396" y="112" width="7" height="5" fill="#8004ff"/><rect x="403" y="112" width="6" height="5" fill="#8605fb"/><rect x="409" y="112" width="6" height="5" fill="#8a06f6"/><rect x="415" y="112" width="6" height="5" fill="#8906f7"/><rect x="421" y="112" width="13" height="5" fill="#8906f8"/><rect x="434" y="112" width="6" height="5" fill="#8806f9"/><rect x="440" y="112" width="6" height="5" fill="#8806fa"/><rect x="446" y="112" width="7" height="5" fill="#8706fa"/><rect x="453" y="112" width="6" height="5" fill="#8706fb"/><rect x="459" y="112" width="6" height="5" fill="#8605fb"/><rect x="465" y="112" width="6" height="5" fill="#8605fc"/><rect x="471" y="112" width="7" height="5" fill="#8405fd"/><rect x="478" y="112" width="6" height="5" fill="#8205fe"/><rect x="484" y="112" width="6" height="5" fill="#8004ff"/><rect x="490" y="112" width="6" height="5" fill="#7b03fd"/><rect x="496" y="112" width="7" height="5" fill="#7603f9"/><rect x="503" y="112" width="6" height="5" fill="#7502f7"/><rect x="509" y="112" width="6" height="5" fill="#7302f5"/><rect x="515" y="112" width="6" height="5" fill="#7202f3"/><rect x="521" y="112" width="3" height="5" fill="#7002ef"/>
<rect x="75" y="117" width="3" height="5" fill="#8004ff"/><rect x="78" y="117" width="12" height="5" fill="#7e04ff"/><rect x="90" y="117" width="6" height="5" fill="#7d04fe"/><rect x="96" y="117" width="7" height="5" fill="#7c03fe"/><rect x="103" y="117" width="6" height="5" fill="#7b03fd"/><rect x="109" y="117" width="6" height="5" fill="#7a03fd"/><rect x="115" y="117" width="6" height="5" fill="#7803fb"/><rect x="121" y="117" width="7" height="5" fill="#7703fa"/><rect x="128" y="117" width="6" height="5" fill="#7502f8"/><rect x="134" y="117" width="6" height="5" fill="#7402f6"/><rect x="140" y="117" width="6" height="5" fill="#7202f3"/><rect x="146" y="117" width="7" height="5" fill="#7002ef"/><rect x="153" y="117" width="6" height="5" fill="#6e02eb"/><rect x="159" y="117" width="6" height="5" fill="#6c01e6"/><rect x="165" y="117" width="6" height="5" fill="#6a01e2"/><rect x="171" y="117" width="7" height="5" fill="#6801dd"/><rect x="178" y="117" width="6" height="5" fill="#6301d0"/><rect x="184" y="117" width="6" height="5" fill="#5e01c2"/><rect x="190" y="117" width="6" height="5" fill="#5f01c5"/><rect x="196" y="117" width="7" height="5" fill="#6001c6"/><rect x="203" y="117" width="6" height="5" fill="#6101c8"/><rect x="209" y="117" width="6" height="5" fill="#6101ca"/><rect x="215" y="117" width="6" height="5" fill="#6001c7"/><rect x="221" y="117" width="7" height="5" fill="#5f01c4"/><rect x="228" y="117" width="6" height="5" fill="#5f01c2"/><rect x="234" y="117" width="6" height="5" fill="#5a00b4"/><rect x="240" y="117" width="6" height="5" fill="#5700aa"/><rect x="246" y="117" width="7" height="5" fill="#54009f"/><rect x="253" y="117" width="6" height="5" fill="#500094"/><rect x="259" y="117" width="6" height="5" fill="#4d0089"/><rect x="265" y="117" width="6" height="5" fill="#450071"/><rect x="271" y="117" width="7" height="5" fill="#3c0058"/><rect x="278" y="117" width="6" height="5" fill="#37004b"/><rect x="284" y="117" width="6" height="5" fill="#32003d"/><rect x="290" y="117" width="6" height="5" fill="#2c0030"/><rect x="296" y="117" width="7" height="5" fill="#32003d"/><rect x="303" y="117" width="6" height="5" fill="#37004b"/><rect x="309" y="117" width="6" height="5" fill="#3c0058"/><rect x="315" y="117" width="6" height="5" fill="#450071"/><rect x="321" y="117" width="7" height="5" fill="#4d0089"/><rect x="328" y="117" width="6" height="5" fill="#5700aa"/><rect x="334" y="117" width="6" height="5" fill="#6001c6"/><rect x="340" y="117" width="13" height="5" fill="#5f01c3"/><rect x="353" y="117" width="6" height="5" fill="#6001c6"/><rect x="359" y="117" width="6" height="5" fill="#6401d1"/><rect x="365" y="117" width="6" height="5" fill="#6801dd"/><rect x="371" y="117" width="7" height="5" fill="#6c02e7"/><rect x="378" y="117" width="6" height="5" fill="#7603f9"/><rect x="384" y="117" width="6" height="5" fill="#8004ff"/><rect x="390" y="117" width="6" height="5" fill="#7e04ff"/><rect x="396" y="117" width="7" height="5" fill="#8605fc"/><rect x="403" y="117" width="6" height="5" fill="#8e08ec"/><rect x="409" y="117" width="6" height="5" fill="#9109e5"/><rect x="415" y="117" width="6" height="5" fill="#8f08eb"/><rect x="421" y="117" width="7" height="5" fill="#8e08ed"/><rect x="428" y="117" width="6" height="5" fill="#8e08ee"/><rect x="434" y="117" width="6" height="5" fill="#8d07ef"/><rect x="440" y="117" width="6" height="5" fill="#8d07f0"/><rect x="446" y="117" width="7" height="5" fill="#8c07f1"/><rect x="453" y="117" width="6" height="5" fill="#8c07f2"/><rect x="459" y="117" width="6" height="5" fill="#8c07f3"/><rect x="465" y="117" width="6" height="5" fill="#8b07f4"/><rect x="471" y="117" width="7" height="5" fill="#8a06f6"/><rect x="478" y="117" width="6" height="5" fill="#8806f9"/><rect x="484" y="117" width="6" height="5" fill="#8505fd"/><rect x="490" y="117" width="6" height="5" fill="#7f04ff"/><rect x="496" y="117" width="7" height="5" fill="#7903fc"/><rect x="503" y="117" width="6" height="5" fill="#7703fa"/><rect x="509" y="117" width="6" height="5" fill="#7602f8"/><rect x="515" y="117" width="6" height="5" fill="#7402f6"/><rect x="521" y="117" width="3" height="5" fill="#7502f7"/>
<rect x="75" y="122" width="3" height="5" fill="#8004ff"/><rect x="78" y="122" width="6" height="5" fill="#7f04ff"/><rect x="84" y="122" width="6" height="5" fill="#7e04ff"/><rect x="90" y="122" width="6" height="5" fill="#7d04ff"/><rect x="96" y="122" width="7" height="5" fill="#7c03fe"/><rect x="103" y="122" width="6" height="5" fill="#7b03fe"/><rect x="109" y="122" width="6" height="5" fill="#7a03fd"/><rect x="115" y="122" width="6" height="5" fill="#7803fb"/><rect x="121" y="122" width="7" height="5" fill="#7703fa"/><rect x="128" y="122" width="6" height="5" fill="#7502f8"/><rect x="134" y="122" width="6" height="5" fill="#7402f5"/><rect x="140" y="122" width="6" height="5" fill="#7202f2"/><rect x="146" y="122" width="7" height="5" fill="#7002ee"/><rect x="153" y="122" width="6" height="5" fill="#6d02e9"/><rect x="159" y="122" width="6" height="5" fill="#6b01e4"/><rect x="165" y="122" width="6" height="5" fill="#6901e0"/><rect x="171" y="122" width="7" height="5" fill="#6701da"/><rect x="178" y="122" width="6" height="5" fill="#6401d0"/><rect x="184" y="122" width="6" height="5" fill="#6201cb"/><rect x="190" y="122" width="6" height="5" fill="#6401d1"/><rect x="196" y="122" width="7" height="5" fill="#6401d3"/><rect x="203" y="122" width="6" height="5" fill="#6501d5"/><rect x="209" y="122" width="6" height="5" fill="#6601d7"/><rect x="215" y="122" width="6" height="5" fill="#6501d4"/><rect x="221" y="122" width="7" height="5" fill="#6301d0"/><rect x="228" y="122" width="6" height="5" fill="#6201cd"/><rect x="234" y="122" width="6" height="5" fill="#6001c6"/><rect x="240" y="122" width="6" height="5" fill="#5a00b4"/><rect x="246" y="122" width="7" height="5" fill="#5700aa"/><rect x="253" y="122" width="6" height="5" fill="#54009f"/><rect x="259" y="122" width="6" height="5" fill="#500094"/><rect x="265" y="122" width="6" height="5" fill="#49007d"/><rect x="271" y="122" width="7" height="5" fill="#410064"/><rect x="278" y="122" width="6" height="5" fill="#3c0058"/><rect x="284" y="122" width="19" height="5" fill="#37004b"/><rect x="303" y="122" width="6" height="5" fill="#3c0058"/><rect x="309" y="122" width="6" height="5" fill="#410064"/><rect x="315" y="122" width="6" height="5" fill="#450071"/><rect x="321" y="122" width="7" height="5" fill="#4d0089"/><rect x="328" y="122" width="6" height="5" fill="#5700aa"/><rect x="334" y="122" width="25" height="5" fill="#6001c6"/><rect x="359" y="122" width="6" height="5" fill="#6401d3"/><rect x="365" y="122" width="6" height="5" fill="#6901df"/><rect x="371" y="122" width="7" height="5" fill="#6d02e9"/><rect x="378" y="122" width="6" height="5" fill="#7703f9"/><rect x="384" y="122" width="6" height="5" fill="#8104ff"/><rect x="390" y="122" width="6" height="5" fill="#8204fe"/><rect x="396" y="122" width="7" height="5" fill="#8b07f3"/><rect x="403" y="122" width="6" height="5" fill="#950ad7"/><rect x="409" y="122" width="6" height="5" fill="#9008e9"/><rect x="415" y="122" width="6" height="5" fill="#9209e1"/><rect x="421" y="122" width="7" height="5" fill="#9109e4"/><rect x="428" y="122" width="6" height="5" fill="#9108e6"/><rect x="434" y="122" width="6" height="5" fill="#9008e6"/><rect x="440" y="122" width="6" height="5" fill="#9008e7"/><rect x="446" y="122" width="7" height="5" fill="#9008e9"/><rect x="453" y="122" width="6" height="5" fill="#8f08ea"/><rect x="459" y="122" width="6" height="5" fill="#8f08eb"/><rect x="465" y="122" width="6" height="5" fill="#8e08ec"/><rect x="471" y="122" width="7" height="5" fill="#8d07f0"/><rect x="478" y="122" width="6" height="5" fill="#8b07f4"/><rect x="484" y="122" width="6" height="5" fill="#8806f9"/><rect x="490" y="122" width="6" height="5" fill="#8204ff"/><rect x="496" y="122" width="7" height="5" fill="#7c03fe"/><rect x="503" y="122" width="6" height="5" fill="#7a03fd"/><rect x="509" y="122" width="6" height="5" fill="#7903fc"/><rect x="515" y="122" width="6" height="5" fill="#7703fa"/><rect x="521" y="122" width="3" height="5" fill="#7502f7"/>
<rect x="75" y="127" width="3" height="5" fill="#8004ff"/><rect x="78" y="127" width="6" height="5" fill="#8204ff"/><rect x="84" y="127" width="6" height="5" fill="#8104ff"/><rect x="90" y="127" width="6" height="5" fill="#8004ff"/><rect x="96" y="127" width="7" height="5" fill="#7f04ff"/><rect x="103" y="127" width="6" height="5" fill="#7c03fe"/><rect x="109" y="127" width="6" height="5" fill="#7a03fd"/><rect x="115" y="127" width="6" height="5" fill="#7803fb"/><rect x="121" y="127" width="7" height="5" fill="#7703fa"/><rect x="128" y="127" width="6" height="5" fill="#7502f8"/><rect x="134" y="127" width="6" height="5" fill="#7302f5"/><rect x="140" y="127" width="6" height="5" fill="#7102f1"/><rect x="146" y="127" width="7" height="5" fill="#6f02ed"/><rect x="153" y="127" width="6" height="5" fill="#6d02e9"/><rect x="159" y="127" width="6" height="5" fill="#6b01e4"/><rect x="165" y="127" width="6" height="5" fill="#6901de"/><rect x="171" y="127" width="7" height="5" fill="#6701d9"/><rect x="178" y="127" width="12" height="5" fill="#6401d3"/><rect x="190" y="127" width="6" height="5" fill="#6701d9"/><rect x="196" y="127" width="7" height="5" fill="#6801dc"/><rect x="203" y="127" width="6" height="5" fill="#6901df"/><rect x="209" y="127" width="6" height="5" fill="#6a01e1"/><rect x="215" y="127" width="6" height="5" fill="#6901df"/><rect x="221" y="127" width="7" height="5" fill="#6601d7"/><rect x="228" y="127" width="6" height="5" fill="#6301cf"/><rect x="234" y="127" width="6" height="5" fill="#6001c6"/><rect x="240" y="127" width="6" height="5" fill="#5d01bd"/><rect x="246" y="127" width="7" height="5" fill="#5a00b4"/><rect x="253" y="127" width="6" height="5" fill="#5700aa"/><rect x="259" y="127" width="6" height="5" fill="#54009f"/><rect x="265" y="127" width="6" height="5" fill="#4d0089"/><rect x="271" y="127" width="7" height="5" fill="#450071"/><rect x="278" y="127" width="6" height="5" fill="#410064"/><rect x="284" y="127" width="19" height="5" fill="#3c0058"/><rect x="303" y="127" width="6" height="5" fill="#410064"/><rect x="309" y="127" width="6" height="5" fill="#450071"/><rect x="315" y="127" width="6" height="5" fill="#49007d"/><rect x="321" y="127" width="7" height="5" fill="#500094"/><rect x="328" y="127" width="6" height="5" fill="#5700aa"/><rect x="334" y="127" width="6" height="5" fill="#6001c6"/><rect x="340" y="127" width="13" height="5" fill="#6101c9"/><rect x="353" y="127" width="6" height="5" fill="#6001c6"/><rect x="359" y="127" width="6" height="5" fill="#6401d3"/><rect x="365" y="127" width="6" height="5" fill="#6901df"/><rect x="371" y="127" width="7" height="5" fill="#6d02e9"/><rect x="378" y="127" width="6" height="5" fill="#7703fa"/><rect x="384" y="127" width="6" height="5" fill="#7f04ff"/><rect x="390" y="127" width="6" height="5" fill="#8c07f2"/><rect x="396" y="127" width="7" height="5" fill="#9209e1"/><rect x="403" y="127" width="6" height="5" fill="#990cc5"/><rect x="409" y="127" width="6" height="5" fill="#960ad4"/><rect x="415" y="127" width="6" height="5" fill="#950ad8"/><rect x="421" y="127" width="19" height="5" fill="#940adb"/><rect x="440" y="127" width="6" height="5" fill="#930adc"/><rect x="446" y="127" width="7" height="5" fill="#9309de"/><rect x="453" y="127" width="6" height="5" fill="#9209e0"/><rect x="459" y="127" width="6" height="5" fill="#9209e2"/><rect x="465" y="127" width="6" height="5" fill="#9109e4"/><rect x="471" y="127" width="7" height="5" fill="#9008e8"/><rect x="478" y="127" width="6" height="5" fill="#8e08ed"/><rect x="484" y="127" width="6" height="5" fill="#8b07f4"/><rect x="490" y="127" width="6" height="5" fill="#8505fc"/><rect x="496" y="127" width="7" height="5" fill="#7f04ff"/><rect x="503" y="127" width="6" height="5" fill="#7d04ff"/><rect x="509" y="127" width="6" height="5" fill="#7c03fe"/><rect x="515" y="127" width="6" height="5" fill="#7b03fd"/><rect x="521" y="127" width="3" height="5" fill="#7c03fe"/>
<rect x="75" y="132" width="3" height="5" fill="#8004ff"/><rect x="78" y="132" width="6" height="5" fill="#8605fc"/><rect x="84" y="132" width="6" height="5" fill="#8505fd"/><rect x="90" y="132" width="6" height="5" fill="#8405fd"/><rect x="96" y="132" width="7" height="5" fill="#8204ff"/><rect x="103" y="132" width="6" height="5" fill="#7d04ff"/><rect x="109" y="132" width="6" height="5" fill="#7b03fd"/><rect x="115" y="132" width="6" height="5" fill="#7803fb"/><rect x="121" y="132" width="7" height="5" fill="#7703fa"/><rect x="128" y="132" width="6" height="5" fill="#7502f8"/><rect x="134" y="132" width="6" height="5" fill="#7302f5"/><rect x="140" y="132" width="6" height="5" fill="#7102f1"/><rect x="146" y="132" width="7" height="5" fill="#6f02ed"/><rect x="153" y="132" width="6" height="5" fill="#6d02e9"/><rect x="159" y="132" width="6" height="5" fill="#6b01e4"/><rect x="165" y="132" width="6" height="5" fill="#6901de"/><rect x="171" y="132" width="7" height="5" fill="#6701d9"/><rect x="178" y="132" width="12" height="5" fill="#6401d3"/><rect x="190" y="132" width="6" height="5" fill="#6601d9"/><rect x="196" y="132" width="7" height="5" fill="#6801dc"/><rect x="203" y="132" width="6" height="5" fill="#6901df"/><rect x="209" y="132" width="6" height="5" fill="#6a01e2"/><rect x="215" y="132" width="6" height="5" fill="#6a01e1"/><rect x="221" y="132" width="7" height="5" fill="#6601d8"/><rect x="228" y="132" width="12" height="5" fill="#6301cf"/><rect x="240" y="132" width="6" height="5" fill="#6001c6"/><rect x="246" y="132" width="7" height="5" fill="#5d01bd"/><rect x="253" y="132" width="6" height="5" fill="#5a00b4"/><rect x="259" y="132" width="6" height="5" fill="#5700aa"/><rect x="265" y="132" width="6" height="5" fill="#500094"/><rect x="271" y="132" width="7" height="5" fill="#49007d"/><rect x="278" y="132" width="6" height="5" fill="#450071"/><rect x="284" y="132" width="19" height="5" fill="#410064"/><rect x="303" y="132" width="6" height="5" fill="#450071"/><rect x="309" y="132" width="6" height="5" fill="#49007d"/><rect x="315" y="132" width="6" height="5" fill="#4d0089"/><rect x="321" y="132" width="7" height="5" fill="#500094"/><rect x="328" y="132" width="6" height="5" fill="#5a00b4"/><rect x="334" y="132" width="6" height="5" fill="#6301cf"/><rect x="340" y="132" width="6" height="5" fill="#6201cc"/><rect x="346" y="132" width="7" height="5" fill="#6101c9"/><rect x="353" y="132" width="6" height="5" fill="#6001c6"/><rect x="359" y="132" width="6" height="5" fill="#6401d3"/><rect x="365" y="132" width="6" height="5" fill="#6901df"/><rect x="371" y="132" width="7" height="5" fill="#6d02e9"/><rect x="378" y="132" width="6" height="5" fill="#7502f7"/><rect x="384" y="132" width="6" height="5" fill="#7d04ff"/><rect x="390" y="132" width="6" height="5" fill="#8906f8"/><rect x="396" y="132" width="7" height="5" fill="#950ad5"/><rect x="403" y="132" width="6" height="5" fill="#9c0db6"/><rect x="409" y="132" width="6" height="5" fill="#9b0dbb"/><rect x="415" y="132" width="6" height="5" fill="#990cc5"/><rect x="421" y="132" width="25" height="5" fill="#980cc8"/><rect x="446" y="132" width="7" height="5" fill="#980bcb"/><rect x="453" y="132" width="6" height="5" fill="#970bce"/><rect x="459" y="132" width="6" height="5" fill="#960bd0"/><rect x="465" y="132" width="6" height="5" fill="#960bd3"/><rect x="471" y="132" width="7" height="5" fill="#940ad8"/><rect x="478" y="132" width="6" height="5" fill="#9309de"/><rect x="484" y="132" width="6" height="5" fill="#9008e8"/><rect x="490" y="132" width="6" height="5" fill="#8a06f6"/><rect x="496" y="132" width="7" height="5" fill="#8505fd"/><rect x="503" y="132" width="6" height="5" fill="#8305fe"/><rect x="509" y="132" width="6" height="5" fill="#8205fe"/><rect x="515" y="132" width="6" height="5" fill="#8104ff"/><rect x="521" y="132" width="3" height="5" fill="#7c03fe"/>
<rect x="75" y="137" width="3" height="6" fill="#960bd0"/><rect x="78" y="137" width="6" height="6" fill="#8b07f4"/><rect x="84" y="137" width="6" height="6" fill="#8906f8"/><rect x="90" y="137" width="6" height="6" fill="#8806f9"/><rect x="96" y="137" width="7" height="6" fill="#8305fe"/><rect x="103" y="137" width="6" height="6" fill="#7f04ff"/><rect x="109" y="137" width="6" height="6" fill="#7c03fe"/><rect x="115" y="137" width="6" height="6" fill="#7a03fc"/><rect x="121" y="137" width="7" height="6" fill="#7703fa"/><rect x="128" y="137" width="6" height="6" fill="#7502f8"/><rect x="134" y="137" width="6" height="6" fill="#7302f5"/><rect x="140" y="137" width="6" height="6" fill="#7102f1"/><rect x="146" y="137" width="7" height="6" fill="#6f02ed"/><rect x="153" y="137" width="6" height="6" fill="#6d02e9"/><rect x="159" y="137" width="6" height="6" fill="#6b01e4"/><rect x="165" y="137" width="6" height="6" fill="#6901de"/><rect x="171" y="137" width="7" height="6" fill="#6701d9"/><rect x="178" y="137" width="6" height="6" fill="#6401d3"/><rect x="184" y="137" width="6" height="6" fill="#6401d2"/><rect x="190" y="137" width="6" height="6" fill="#6601d7"/><rect x="196" y="137" width="7" height="6" fill="#6801db"/><rect x="203" y="137" width="6" height="6" fill="#6901df"/><rect x="209" y="137" width="6" height="6" fill="#6a01e2"/><rect x="215" y="137" width="6" height="6" fill="#6a01e1"/><rect x="221" y="137" width="7" height="6" fill="#6601d8"/><rect x="228" y="137" width="12" height="6" fill="#6301cf"/><rect x="240" y="137" width="13" height="6" fill="#6001c6"/><rect x="253" y="137" width="6" height="6" fill="#5d01bd"/><rect x="259" y="137" width="6" height="6" fill="#5a00b4"/><rect x="265" y="137" width="6" height="6" fill="#54009f"/><rect x="271" y="137" width="7" height="6" fill="#500094"/><rect x="278" y="137" width="6" height="6" fill="#4d0089"/><rect x="284" y="137" width="6" height="6" fill="#49007d"/><rect x="290" y="137" width="13" height="6" fill="#450071"/><rect x="303" y="137" width="12" height="6" fill="#49007d"/><rect x="315" y="137" width="6" height="6" fill="#4d0089"/><rect x="321" y="137" width="7" height="6" fill="#54009f"/><rect x="328" y="137" width="6" height="6" fill="#5a00b4"/><rect x="334" y="137" width="6" height="6" fill="#6301cf"/><rect x="340" y="137" width="6" height="6" fill="#6201cc"/><rect x="346" y="137" width="7" height="6" fill="#6101c9"/><rect x="353" y="137" width="6" height="6" fill="#6001c6"/><rect x="359" y="137" width="6" height="6" fill="#6401d3"/><rect x="365" y="137" width="6" height="6" fill="#6901df"/><rect x="371" y="137" width="7" height="6" fill="#6d02e9"/><rect x="378" y="137" width="6" height="6" fill="#7302f3"/><rect x="384" y="137" width="6" height="6" fill="#7b03fd"/><rect x="390" y="137" width="6" height="6" fill="#8505fc"/><rect x="396" y="137" width="7" height="6" fill="#960ad4"/><rect x="403" y="137" width="6" height="6" fill="#9f0fa2"/><rect x="409" y="137" width="6" height="6" fill="#9e0fa9"/><rect x="415" y="137" width="6" height="6" fill="#9d0eaf"/><rect x="421" y="137" width="32" height="6" fill="#9e0eac"/><rect x="453" y="137" width="6" height="6" fill="#9d0eaf"/><rect x="459" y="137" width="6" height="6" fill="#9d0eb2"/><rect x="465" y="137" width="6" height="6" fill="#9b0dbc"/><rect x="471" y="137" width="7" height="6" fill="#9a0cc1"/><rect x="478" y="137" width="6" height="6" fill="#990cc4"/><rect x="484" y="137" width="6" height="6" fill="#960bd2"/><rect x="490" y="137" width="6" height="6" fill="#9109e4"/><rect x="496" y="137" width="7" height="6" fill="#8c07f1"/><rect x="503" y="137" width="6" height="6" fill="#8c07f3"/><rect x="509" y="137" width="6" height="6" fill="#8b07f5"/><rect x="515" y="137" width="6" height="6" fill="#8a06f6"/><rect x="521" y="137" width="3" height="6" fill="#9309df"/>
<rect x="75" y="143" width="3" height="5" fill="#960bd0"/><rect x="78" y="143" width="6" height="5" fill="#9109e5"/><rect x="84" y="143" width="6" height="5" fill="#8d07f0"/><rect x="90" y="143" width="6" height="5" fill="#8a06f6"/><rect x="96" y="143" width="7" height="5" fill="#8505fd"/><rect x="103" y="143" width="6" height="5" fill="#8104ff"/><rect x="109" y="143" width="6" height="5" fill="#7e04ff"/><rect x="115" y="143" width="6" height="5" fill="#7b03fe"/><rect x="121" y="143" width="7" height="5" fill="#7903fc"/><rect x="128" y="143" width="6" height="5" fill="#7602f8"/><rect x="134" y="143" width="6" height="5" fill="#7302f5"/><rect x="140" y="143" width="6" height="5" fill="#7102f1"/><rect x="146" y="143" width="7" height="5" fill="#6f02ed"/><rect x="153" y="143" width="6" height="5" fill="#6d02e9"/><rect x="159" y="143" width="6" height="5" fill="#6b01e4"/><rect x="165" y="143" width="6" height="5" fill="#6901de"/><rect x="171" y="143" width="7" height="5" fill="#6701d9"/><rect x="178" y="143" width="6" height="5" fill="#6401d3"/><rect x="184" y="143" width="6" height="5" fill="#6301cf"/><rect x="190" y="143" width="6" height="5" fill="#6501d4"/><rect x="196" y="143" width="7" height="5" fill="#6701db"/><rect x="203" y="143" width="6" height="5" fill="#6901de"/><rect x="209" y="143" width="6" height="5" fill="#6a01e2"/><rect x="215" y="143" width="6" height="5" fill="#6a01e1"/><rect x="221" y="143" width="7" height="5" fill="#6601d8"/><rect x="228" y="143" width="18" height="5" fill="#6301cf"/><rect x="246" y="143" width="13" height="5" fill="#6001c6"/><rect x="259" y="143" width="6" height="5" fill="#5d01bd"/><rect x="265" y="143" width="6" height="5" fill="#5700aa"/><rect x="271" y="143" width="7" height="5" fill="#54009f"/><rect x="278" y="143" width="6" height="5" fill="#500094"/><rect x="284" y="143" width="6" height="5" fill="#4d0089"/><rect x="290" y="143" width="19" height="5" fill="#49007d"/><rect x="309" y="143" width="6" height="5" fill="#4d0089"/><rect x="315" y="143" width="6" height="5" fill="#500094"/><rect x="321" y="143" width="7" height="5" fill="#54009f"/><rect x="328" y="143" width="6" height="5" fill="#5d01bd"/><rect x="334" y="143" width="6" height="5" fill="#6601d6"/><rect x="340" y="143" width="6" height="5" fill="#6001c6"/><rect x="346" y="143" width="7" height="5" fill="#5f01c3"/><rect x="353" y="143" width="6" height="5" fill="#6301ce"/><rect x="359" y="143" width="6" height="5" fill="#6701da"/><rect x="365" y="143" width="6" height="5" fill="#6b01e4"/><rect x="371" y="143" width="7" height="5" fill="#6e02eb"/><rect x="378" y="143" width="6" height="5" fill="#7402f5"/><rect x="384" y="143" width="6" height="5" fill="#7c03fe"/><rect x="390" y="143" width="6" height="5" fill="#8605fb"/><rect x="396" y="143" width="7" height="5" fill="#950ad4"/><rect x="403" y="143" width="6" height="5" fill="#a2118f"/><rect x="409" y="143" width="6" height="5" fill="#a11098"/><rect x="415" y="143" width="6" height="5" fill="#a00fa0"/><rect x="421" y="143" width="44" height="5" fill="#a2118e"/><rect x="465" y="143" width="13" height="5" fill="#9f0fa4"/><rect x="478" y="143" width="6" height="5" fill="#9d0eae"/><rect x="484" y="143" width="6" height="5" fill="#9c0db6"/><rect x="490" y="143" width="6" height="5" fill="#990cc7"/><rect x="496" y="143" width="7" height="5" fill="#9309dd"/><rect x="503" y="143" width="21" height="5" fill="#9309df"/>
<rect x="75" y="148" width="9" height="5" fill="#960bd0"/><rect x="84" y="148" width="6" height="5" fill="#9109e5"/><rect x="90" y="148" width="6" height="5" fill="#8b07f4"/><rect x="96" y="148" width="7" height="5" fill="#8706fb"/><rect x="103" y="148" width="6" height="5" fill="#8205fe"/><rect x="109" y="148" width="6" height="5" fill="#8004ff"/><rect x="115" y="148" width="6" height="5" fill="#7e04ff"/><rect x="121" y="148" width="7" height="5" fill="#7a03fd"/><rect x="128" y="148" width="6" height="5" fill="#7502f7"/><rect x="134" y="148" width="6" height="5" fill="#7202f3"/><rect x="140" y="148" width="6" height="5" fill="#7102f0"/><rect x="146" y="148" width="7" height="5" fill="#6f02ec"/><rect x="153" y="148" width="6" height="5" fill="#6d02e7"/><rect x="159" y="148" width="6" height="5" fill="#6a01e2"/><rect x="165" y="148" width="6" height="5" fill="#6701db"/><rect x="171" y="148" width="7" height="5" fill="#6501d5"/><rect x="178" y="148" width="6" height="5" fill="#6401d1"/><rect x="184" y="148" width="6" height="5" fill="#6101c8"/><rect x="190" y="148" width="6" height="5" fill="#6001c7"/><rect x="196" y="148" width="7" height="5" fill="#6201cd"/><rect x="203" y="148" width="6" height="5" fill="#6401d3"/><rect x="209" y="148" width="6" height="5" fill="#6601d7"/><rect x="215" y="148" width="6" height="5" fill="#6701d9"/><rect x="221" y="148" width="7" height="5" fill="#6601d7"/><rect x="228" y="148" width="6" height="5" fill="#6401d2"/><rect x="234" y="148" width="12" height="5" fill="#6401d1"/><rect x="246" y="148" width="7" height="5" fill="#6201cb"/><rect x="253" y="148" width="6" height="5" fill="#6101c9"/><rect x="259" y="148" width="6" height="5" fill="#5c01bb"/><rect x="265" y="148" width="6" height="5" fill="#5700a9"/><rect x="271" y="148" width="7" height="5" fill="#5400a1"/><rect x="278" y="148" width="6" height="5" fill="#510098"/><rect x="284" y="148" width="6" height="5" fill="#4f008f"/><rect x="290" y="148" width="6" height="5" fill="#43006b"/><rect x="296" y="148" width="19" height="5" fill="#3f005f"/><rect x="315" y="148" width="6" height="5" fill="#450070"/><rect x="321" y="148" width="7" height="5" fill="#48007b"/><rect x="328" y="148" width="12" height="5" fill="#4d0089"/><rect x="340" y="148" width="6" height="5" fill="#54009f"/><rect x="346" y="148" width="7" height="5" fill="#5d01bd"/><rect x="353" y="148" width="6" height="5" fill="#6601d6"/><rect x="359" y="148" width="6" height="5" fill="#6901df"/><rect x="365" y="148" width="6" height="5" fill="#6c01e6"/><rect x="371" y="148" width="7" height="5" fill="#6f02ed"/><rect x="378" y="148" width="6" height="5" fill="#7502f7"/><rect x="384" y="148" width="6" height="5" fill="#7d04ff"/><rect x="390" y="148" width="6" height="5" fill="#8706fb"/><rect x="396" y="148" width="7" height="5" fill="#950ad7"/><rect x="403" y="148" width="6" height="5" fill="#a11096"/><rect x="409" y="148" width="6" height="5" fill="#a0109e"/><rect x="415" y="148" width="6" height="5" fill="#a0109c"/><rect x="421" y="148" width="7" height="5" fill="#a3118a"/><rect x="428" y="148" width="6" height="5" fill="#a71472"/><rect x="434" y="148" width="25" height="5" fill="#aa1658"/><rect x="459" y="148" width="6" height="5" fill="#a71472"/><rect x="465" y="148" width="6" height="5" fill="#a3118a"/><rect x="471" y="148" width="7" height="5" fill="#a11095"/><rect x="478" y="148" width="6" height="5" fill="#a00fa0"/><rect x="484" y="148" width="6" height="5" fill="#9f0fa5"/><rect x="490" y="148" width="6" height="5" fill="#9b0dbb"/><rect x="496" y="148" width="7" height="5" fill="#990cc7"/><rect x="503" y="148" width="21" height="5" fill="#960bd0"/>
<rect x="75" y="153" width="9" height="5" fill="#9a0cbf"/><rect x="84" y="153" width="6" height="5" fill="#940ad8"/><rect x="90" y="153" width="6" height="5" fill="#8f08eb"/><rect x="96" y="153" width="7" height="5" fill="#8b07f4"/><rect x="103" y="153" width="6" height="5" fill="#8706fb"/><rect x="109" y="153" width="6" height="5" fill="#8205fe"/><rect x="115" y="153" width="6" height="5" fill="#7e04ff"/><rect x="121" y="153" width="7" height="5" fill="#7a03fd"/><rect x="128" y="153" width="6" height="5" fill="#7603f9"/><rect x="134" y="153" width="6" height="5" fill="#7202f2"/><rect x="140" y="153" width="6" height="5" fill="#7002ee"/><rect x="146" y="153" width="7" height="5" fill="#6e02eb"/><rect x="153" y="153" width="6" height="5" fill="#6c01e6"/><rect x="159" y="153" width="6" height="5" fill="#6a01e0"/><rect x="165" y="153" width="6" height="5" fill="#6701da"/><rect x="171" y="153" width="7" height="5" fill="#6501d5"/><rect x="178" y="153" width="6" height="5" fill="#6401d1"/><rect x="184" y="153" width="6" height="5" fill="#5e01c2"/><rect x="190" y="153" width="6" height="5" fill="#5c01ba"/><rect x="196" y="153" width="7" height="5" fill="#5e01c1"/><rect x="203" y="153" width="6" height="5" fill="#6101ca"/><rect x="209" y="153" width="6" height="5" fill="#6301ce"/><rect x="215" y="153" width="6" height="5" fill="#6401d0"/><rect x="221" y="153" width="7" height="5" fill="#6501d3"/><rect x="228" y="153" width="6" height="5" fill="#6501d4"/><rect x="234" y="153" width="12" height="5" fill="#6501d3"/><rect x="246" y="153" width="7" height="5" fill="#6301cf"/><rect x="253" y="153" width="6" height="5" fill="#6201cb"/><rect x="259" y="153" width="6" height="5" fill="#5b01b8"/><rect x="265" y="153" width="6" height="5" fill="#5600a8"/><rect x="271" y="153" width="7" height="5" fill="#5400a1"/><rect x="278" y="153" width="6" height="5" fill="#52009b"/><rect x="284" y="153" width="6" height="5" fill="#500094"/><rect x="290" y="153" width="6" height="5" fill="#43006b"/><rect x="296" y="153" width="13" height="5" fill="#37004b"/><rect x="309" y="153" width="6" height="5" fill="#3c0058"/><rect x="315" y="153" width="6" height="5" fill="#400062"/><rect x="321" y="153" width="7" height="5" fill="#480079"/><rect x="328" y="153" width="12" height="5" fill="#4d0089"/><rect x="340" y="153" width="6" height="5" fill="#54009f"/><rect x="346" y="153" width="7" height="5" fill="#5d01bd"/><rect x="353" y="153" width="6" height="5" fill="#6601d6"/><rect x="359" y="153" width="6" height="5" fill="#6901df"/><rect x="365" y="153" width="6" height="5" fill="#6d02e8"/><rect x="371" y="153" width="7" height="5" fill="#7002ef"/><rect x="378" y="153" width="6" height="5" fill="#7502f8"/><rect x="384" y="153" width="6" height="5" fill="#7e04ff"/><rect x="390" y="153" width="6" height="5" fill="#8706fa"/><rect x="396" y="153" width="7" height="5" fill="#940ad9"/><rect x="403" y="153" width="6" height="5" fill="#a0109d"/><rect x="409" y="153" width="6" height="5" fill="#9f0fa5"/><rect x="415" y="153" width="6" height="5" fill="#9f0fa3"/><rect x="421" y="153" width="7" height="5" fill="#a41285"/><rect x="428" y="153" width="6" height="5" fill="#a91560"/><rect x="434" y="153" width="6" height="5" fill="#ae1939"/><rect x="440" y="153" width="25" height="5" fill="#b11c1e"/><rect x="465" y="153" width="6" height="5" fill="#ae1939"/><rect x="471" y="153" width="7" height="5" fill="#aa1753"/><rect x="478" y="153" width="6" height="5" fill="#a7146d"/><rect x="484" y="153" width="6" height="5" fill="#a31288"/><rect x="490" y="153" width="6" height="5" fill="#a1109a"/><rect x="496" y="153" width="7" height="5" fill="#9e0eab"/><rect x="503" y="153" width="12" height="5" fill="#9c0db6"/><rect x="515" y="153" width="9" height="5" fill="#9a0cbf"/>
<rect x="75" y="158" width="3" height="5" fill="#a11097"/><rect x="78" y="158" width="6" height="5" fill="#9e0eac"/><rect x="84" y="158" width="6" height="5" fill="#9a0cbf"/><rect x="90" y="158" width="6" height="5" fill="#940ad8"/><rect x="96" y="158" width="7" height="5" fill="#8f08eb"/><rect x="103" y="158" width="6" height="5" fill="#8b07f4"/><rect x="109" y="158" width="6" height="5" fill="#8706fb"/><rect x="115" y="158" width="6" height="5" fill="#8205fe"/><rect x="121" y="158" width="7" height="5" fill="#7f04ff"/><rect x="128" y="158" width="6" height="5" fill="#7c03fe"/><rect x="134" y="158" width="6" height="5" fill="#7703fa"/><rect x="140" y="158" width="6" height="5" fill="#7202f3"/><rect x="146" y="158" width="7" height="5" fill="#6e02eb"/><rect x="153" y="158" width="6" height="5" fill="#6c01e6"/><rect x="159" y="158" width="6" height="5" fill="#6a01e0"/><rect x="165" y="158" width="6" height="5" fill="#6701da"/><rect x="171" y="158" width="7" height="5" fill="#6501d5"/><rect x="178" y="158" width="6" height="5" fill="#6401d3"/><rect x="184" y="158" width="6" height="5" fill="#5f01c4"/><rect x="190" y="158" width="6" height="5" fill="#5d01bc"/><rect x="196" y="158" width="7" height="5" fill="#5f01c2"/><rect x="203" y="158" width="6" height="5" fill="#6501d4"/><rect x="209" y="158" width="6" height="5" fill="#6601d8"/><rect x="215" y="158" width="6" height="5" fill="#6701da"/><rect x="221" y="158" width="7" height="5" fill="#6901e0"/><rect x="228" y="158" width="6" height="5" fill="#6a01e1"/><rect x="234" y="158" width="12" height="5" fill="#6901e0"/><rect x="246" y="158" width="7" height="5" fill="#6801dd"/><rect x="253" y="158" width="6" height="5" fill="#6701d9"/><rect x="259" y="158" width="6" height="5" fill="#5f01c3"/><rect x="265" y="158" width="6" height="5" fill="#5b01b6"/><rect x="271" y="158" width="7" height="5" fill="#5900b2"/><rect x="278" y="158" width="6" height="5" fill="#5800ae"/><rect x="284" y="158" width="6" height="5" fill="#5700aa"/><rect x="290" y="158" width="6" height="5" fill="#4b0083"/><rect x="296" y="158" width="19" height="5" fill="#3c0058"/><rect x="315" y="158" width="6" height="5" fill="#400062"/><rect x="321" y="158" width="7" height="5" fill="#4b0085"/><rect x="328" y="158" width="12" height="5" fill="#4d0089"/><rect x="340" y="158" width="6" height="5" fill="#54009f"/><rect x="346" y="158" width="7" height="5" fill="#6001c6"/><rect x="353" y="158" width="6" height="5" fill="#6801dd"/><rect x="359" y="158" width="6" height="5" fill="#6b01e4"/><rect x="365" y="158" width="6" height="5" fill="#6e02eb"/><rect x="371" y="158" width="7" height="5" fill="#7102f0"/><rect x="378" y="158" width="6" height="5" fill="#7603f9"/><rect x="384" y="158" width="6" height="5" fill="#7f04ff"/><rect x="390" y="158" width="6" height="5" fill="#8806fa"/><rect x="396" y="158" width="7" height="5" fill="#9309de"/><rect x="403" y="158" width="6" height="5" fill="#9d0ead"/><rect x="409" y="158" width="6" height="5" fill="#9e0eab"/><rect x="415" y="158" width="6" height="5" fill="#9e0fa9"/><rect x="421" y="158" width="7" height="5" fill="#a3118c"/><rect x="428" y="158" width="6" height="5" fill="#aa165b"/><rect x="434" y="158" width="6" height="5" fill="#b01c26"/><rect x="440" y="158" width="6" height="5" fill="#b52000"/><rect x="446" y="158" width="32" height="5" fill="#b82400"/><rect x="478" y="158" width="6" height="5" fill="#b52000"/><rect x="484" y="158" width="6" height="5" fill="#b21d18"/><rect x="490" y="158" width="6" height="5" fill="#ae1a33"/><rect x="496" y="158" width="7" height="5" fill="#ab174e"/><rect x="503" y="158" width="6" height="5" fill="#a81568"/><rect x="509" y="158" width="6" height="5" fill="#a51280"/><rect x="515" y="158" width="9" height="5" fill="#a11097"/>
<rect x="75" y="163" width="3" height="5" fill="#ab174e"/><rect x="78" y="163" width="6" height="5" fill="#a81568"/><rect x="84" y="163" width="6" height="5" fill="#a11097"/><rect x="90" y="163" width="6" height="5" fill="#9c0db6"/><rect x="96" y="163" width="7" height="5" fill="#960bd0"/><rect x="103" y="163" width="6" height="5" fill="#9109e5"/><rect x="109" y="163" width="6" height="5" fill="#8d07f0"/><rect x="115" y="163" width="6" height="5" fill="#8906f8"/><rect x="121" y="163" width="7" height="5" fill="#8505fd"/><rect x="128" y="163" width="6" height="5" fill="#8104ff"/><rect x="134" y="163" width="6" height="5" fill="#7d04fe"/><rect x="140" y="163" width="6" height="5" fill="#7803fb"/><rect x="146" y="163" width="7" height="5" fill="#7302f3"/><rect x="153" y="163" width="6" height="5" fill="#6c01e6"/><rect x="159" y="163" width="6" height="5" fill="#6a01e0"/><rect x="165" y="163" width="6" height="5" fill="#6701da"/><rect x="171" y="163" width="7" height="5" fill="#6601d6"/><rect x="178" y="163" width="6" height="5" fill="#6501d5"/><rect x="184" y="163" width="6" height="5" fill="#6001c7"/><rect x="190" y="163" width="6" height="5" fill="#5d01bd"/><rect x="196" y="163" width="7" height="5" fill="#5f01c4"/><rect x="203" y="163" width="6" height="5" fill="#6801dc"/><rect x="209" y="163" width="6" height="5" fill="#6a01e1"/><rect x="215" y="163" width="6" height="5" fill="#6a01e2"/><rect x="221" y="163" width="25" height="5" fill="#6e02eb"/><rect x="246" y="163" width="7" height="5" fill="#6e02ea"/><rect x="253" y="163" width="6" height="5" fill="#6b01e5"/><rect x="259" y="163" width="6" height="5" fill="#6201cd"/><rect x="265" y="163" width="6" height="5" fill="#5f01c3"/><rect x="271" y="163" width="7" height="5" fill="#5e01c1"/><rect x="278" y="163" width="6" height="5" fill="#5e01bf"/><rect x="284" y="163" width="6" height="5" fill="#5d01bd"/><rect x="290" y="163" width="6" height="5" fill="#52009a"/><rect x="296" y="163" width="19" height="5" fill="#3c0058"/><rect x="315" y="163" width="6" height="5" fill="#44006f"/><rect x="321" y="163" width="7" height="5" fill="#4b0085"/><rect x="328" y="163" width="12" height="5" fill="#4d0089"/><rect x="340" y="163" width="6" height="5" fill="#54009f"/><rect x="346" y="163" width="7" height="5" fill="#6001c6"/><rect x="353" y="163" width="6" height="5" fill="#6801dd"/><rect x="359" y="163" width="6" height="5" fill="#6c01e6"/><rect x="365" y="163" width="6" height="5" fill="#6f02ed"/><rect x="371" y="163" width="7" height="5" fill="#7202f2"/><rect x="378" y="163" width="6" height="5" fill="#7703fa"/><rect x="384" y="163" width="6" height="5" fill="#8004ff"/><rect x="390" y="163" width="6" height="5" fill="#8906f8"/><rect x="396" y="163" width="7" height="5" fill="#940ada"/><rect x="403" y="163" width="6" height="5" fill="#9d0ead"/><rect x="409" y="163" width="6" height="5" fill="#9e0eab"/><rect x="415" y="163" width="6" height="5" fill="#a0109e"/><rect x="421" y="163" width="7" height="5" fill="#a61474"/><rect x="428" y="163" width="6" height="5" fill="#ad1941"/><rect x="434" y="163" width="6" height="5" fill="#b52000"/><rect x="440" y="163" width="6" height="5" fill="#bb2700"/><rect x="446" y="163" width="38" height="5" fill="#c12f00"/><rect x="484" y="163" width="6" height="5" fill="#be2b00"/><rect x="490" y="163" width="6" height="5" fill="#bb2700"/><rect x="496" y="163" width="7" height="5" fill="#b82400"/><rect x="503" y="163" width="6" height="5" fill="#b52000"/><rect x="509" y="163" width="6" height="5" fill="#b21d18"/><rect x="515" y="163" width="9" height="5" fill="#ae1a33"/>
<rect x="75" y="168" width="3" height="6" fill="#b52000"/><rect x="78" y="168" width="6" height="6" fill="#b21d18"/><rect x="84" y="168" width="6" height="6" fill="#ab174e"/><rect x="90" y="168" width="6" height="6" fill="#a3118c"/><rect x="96" y="168" width="7" height="6" fill="#9c0db6"/><rect x="103" y="168" width="6" height="6" fill="#960bd0"/><rect x="109" y="168" width="6" height="6" fill="#9309df"/><rect x="115" y="168" width="6" height="6" fill="#8f08eb"/><rect x="121" y="168" width="7" height="6" fill="#8b07f4"/><rect x="128" y="168" width="6" height="6" fill="#8706fb"/><rect x="134" y="168" width="6" height="6" fill="#8305fe"/><rect x="140" y="168" width="6" height="6" fill="#7e04ff"/><rect x="146" y="168" width="7" height="6" fill="#7302f3"/><rect x="153" y="168" width="6" height="6" fill="#6c01e6"/><rect x="159" y="168" width="6" height="6" fill="#6a01e0"/><rect x="165" y="168" width="6" height="6" fill="#6701da"/><rect x="171" y="168" width="13" height="6" fill="#6601d6"/><rect x="184" y="168" width="6" height="6" fill="#6101c9"/><rect x="190" y="168" width="6" height="6" fill="#5d01bd"/><rect x="196" y="168" width="7" height="6" fill="#6001c6"/><rect x="203" y="168" width="6" height="6" fill="#6b01e4"/><rect x="209" y="168" width="12" height="6" fill="#6e02ea"/><rect x="221" y="168" width="32" height="6" fill="#7302f3"/><rect x="253" y="168" width="6" height="6" fill="#7002ef"/><rect x="259" y="168" width="6" height="6" fill="#6601d6"/><rect x="265" y="168" width="38" height="6" fill="#6301cf"/><rect x="303" y="168" width="6" height="6" fill="#3c0058"/><rect x="309" y="168" width="6" height="6" fill="#410064"/><rect x="315" y="168" width="6" height="6" fill="#44006f"/><rect x="321" y="168" width="7" height="6" fill="#4b0085"/><rect x="328" y="168" width="12" height="6" fill="#4d0089"/><rect x="340" y="168" width="6" height="6" fill="#54009f"/><rect x="346" y="168" width="7" height="6" fill="#6001c6"/><rect x="353" y="168" width="6" height="6" fill="#6801dd"/><rect x="359" y="168" width="6" height="6" fill="#6c01e6"/><rect x="365" y="168" width="6" height="6" fill="#6f02ed"/><rect x="371" y="168" width="7" height="6" fill="#7202f3"/><rect x="378" y="168" width="6" height="6" fill="#7903fc"/><rect x="384" y="168" width="6" height="6" fill="#8204ff"/><rect x="390" y="168" width="6" height="6" fill="#8a07f5"/><rect x="396" y="168" width="7" height="6" fill="#950ad6"/><rect x="403" y="168" width="6" height="6" fill="#9f0fa3"/><rect x="409" y="168" width="6" height="6" fill="#a00fa0"/><rect x="415" y="168" width="6" height="6" fill="#a31288"/><rect x="421" y="168" width="7" height="6" fill="#aa165b"/><rect x="428" y="168" width="6" height="6" fill="#b21d18"/><rect x="434" y="168" width="6" height="6" fill="#bb2700"/><rect x="440" y="168" width="6" height="6" fill="#c12f00"/><rect x="446" y="168" width="7" height="6" fill="#c63900"/><rect x="453" y="168" width="25" height="6" fill="#c93d00"/><rect x="478" y="168" width="6" height="6" fill="#c63900"/><rect x="484" y="168" width="6" height="6" fill="#c43400"/><rect x="490" y="168" width="13" height="6" fill="#c12f00"/><rect x="503" y="168" width="6" height="6" fill="#be2b00"/><rect x="509" y="168" width="12" height="6" fill="#bb2700"/><rect x="521" y="168" width="3" height="6" fill="#b82400"/>
<rect x="75" y="174" width="9" height="5" fill="#b82400"/><rect x="84" y="174" width="6" height="5" fill="#b21d18"/><rect x="90" y="174" width="6" height="5" fill="#ab174e"/><rect x="96" y="174" width="7" height="5" fill="#a3118c"/><rect x="103" y="174" width="6" height="5" fill="#9c0db6"/><rect x="109" y="174" width="6" height="5" fill="#980cc8"/><rect x="115" y="174" width="6" height="5" fill="#940ad8"/><rect x="121" y="174" width="7" height="5" fill="#9109e5"/><rect x="128" y="174" width="6" height="5" fill="#8d07f0"/><rect x="134" y="174" width="6" height="5" fill="#8906f8"/><rect x="140" y="174" width="6" height="5" fill="#8104ff"/><rect x="146" y="174" width="7" height="5" fill="#7603f9"/><rect x="153" y="174" width="6" height="5" fill="#6d02e8"/><rect x="159" y="174" width="6" height="5" fill="#6b01e4"/><rect x="165" y="174" width="6" height="5" fill="#6901e0"/><rect x="171" y="174" width="7" height="5" fill="#6801dc"/><rect x="178" y="174" width="6" height="5" fill="#6701d9"/><rect x="184" y="174" width="6" height="5" fill="#6201cd"/><rect x="190" y="174" width="6" height="5" fill="#5f01c4"/><rect x="196" y="174" width="7" height="5" fill="#6801dc"/><rect x="203" y="174" width="6" height="5" fill="#7002ee"/><rect x="209" y="174" width="6" height="5" fill="#7202f2"/><rect x="215" y="174" width="6" height="5" fill="#7703fa"/><rect x="221" y="174" width="32" height="5" fill="#7e04ff"/><rect x="253" y="174" width="6" height="5" fill="#7b03fe"/><rect x="259" y="174" width="6" height="5" fill="#7703fa"/><rect x="265" y="174" width="6" height="5" fill="#7402f6"/><rect x="271" y="174" width="7" height="5" fill="#7002ee"/><rect x="278" y="174" width="6" height="5" fill="#6d02e9"/><rect x="284" y="174" width="19" height="5" fill="#6a01e3"/><rect x="303" y="174" width="6" height="5" fill="#400062"/><rect x="309" y="174" width="6" height="5" fill="#44006e"/><rect x="315" y="174" width="6" height="5" fill="#460076"/><rect x="321" y="174" width="7" height="5" fill="#4c0086"/><rect x="328" y="174" width="6" height="5" fill="#4d0089"/><rect x="334" y="174" width="6" height="5" fill="#500094"/><rect x="340" y="174" width="6" height="5" fill="#54009f"/><rect x="346" y="174" width="7" height="5" fill="#6001c6"/><rect x="353" y="174" width="6" height="5" fill="#6801dd"/><rect x="359" y="174" width="6" height="5" fill="#6d02e8"/><rect x="365" y="174" width="6" height="5" fill="#7002f0"/><rect x="371" y="174" width="7" height="5" fill="#7402f5"/><rect x="378" y="174" width="6" height="5" fill="#7b03fe"/><rect x="384" y="174" width="6" height="5" fill="#8405fd"/><rect x="390" y="174" width="6" height="5" fill="#8d07f0"/><rect x="396" y="174" width="7" height="5" fill="#980bca"/><rect x="403" y="174" width="6" height="5" fill="#a11098"/><rect x="409" y="174" width="6" height="5" fill="#a3118a"/><rect x="415" y="174" width="6" height="5" fill="#a71470"/><rect x="421" y="174" width="7" height="5" fill="#ad1941"/><rect x="428" y="174" width="6" height="5" fill="#b62200"/><rect x="434" y="174" width="6" height="5" fill="#bf2d00"/><rect x="440" y="174" width="6" height="5" fill="#c83b00"/><rect x="446" y="174" width="7" height="5" fill="#cf4800"/><rect x="453" y="174" width="12" height="5" fill="#d45400"/><rect x="465" y="174" width="13" height="5" fill="#d14e00"/><rect x="478" y="174" width="6" height="5" fill="#cf4800"/><rect x="484" y="174" width="12" height="5" fill="#cc4300"/><rect x="496" y="174" width="7" height="5" fill="#c93d00"/><rect x="503" y="174" width="12" height="5" fill="#c63900"/><rect x="515" y="174" width="9" height="5" fill="#c43400"/>
<rect x="75" y="179" width="9" height="5" fill="#c12f00"/><rect x="84" y="179" width="6" height="5" fill="#bb2700"/><rect x="90" y="179" width="6" height="5" fill="#b21d18"/><rect x="96" y="179" width="7" height="5" fill="#ab174e"/><rect x="103" y="179" width="6" height="5" fill="#a3118c"/><rect x="109" y="179" width="6" height="5" fill="#9e0eac"/><rect x="115" y="179" width="6" height="5" fill="#980cc8"/><rect x="121" y="179" width="7" height="5" fill="#940ad8"/><rect x="128" y="179" width="6" height="5" fill="#9109e5"/><rect x="134" y="179" width="6" height="5" fill="#8d07f0"/><rect x="140" y="179" width="6" height="5" fill="#8906f8"/><rect x="146" y="179" width="7" height="5" fill="#7e04ff"/><rect x="153" y="179" width="6" height="5" fill="#7502f7"/><rect x="159" y="179" width="6" height="5" fill="#7002ef"/><rect x="165" y="179" width="6" height="5" fill="#6b01e3"/><rect x="171" y="179" width="7" height="5" fill="#6801dc"/><rect x="178" y="179" width="6" height="5" fill="#6701d9"/><rect x="184" y="179" width="6" height="5" fill="#6501d3"/><rect x="190" y="179" width="6" height="5" fill="#6701d9"/><rect x="196" y="179" width="7" height="5" fill="#6e02ec"/><rect x="203" y="179" width="6" height="5" fill="#7602f8"/><rect x="209" y="179" width="6" height="5" fill="#7803fb"/><rect x="215" y="179" width="6" height="5" fill="#8104ff"/><rect x="221" y="179" width="7" height="5" fill="#8906f7"/><rect x="228" y="179" width="25" height="5" fill="#8d07ef"/><rect x="253" y="179" width="6" height="5" fill="#8906f7"/><rect x="259" y="179" width="6" height="5" fill="#8706fa"/><rect x="265" y="179" width="6" height="5" fill="#8505fc"/><rect x="271" y="179" width="7" height="5" fill="#8305fe"/><rect x="278" y="179" width="6" height="5" fill="#7d03fe"/><rect x="284" y="179" width="6" height="5" fill="#7602f8"/><rect x="290" y="179" width="6" height="5" fill="#7102f0"/><rect x="296" y="179" width="7" height="5" fill="#6e02ec"/><rect x="303" y="179" width="6" height="5" fill="#5b01b7"/><rect x="309" y="179" width="6" height="5" fill="#5500a3"/><rect x="315" y="179" width="6" height="5" fill="#5500a5"/><rect x="321" y="179" width="7" height="5" fill="#5700a9"/><rect x="328" y="179" width="12" height="5" fill="#5700aa"/><rect x="340" y="179" width="6" height="5" fill="#5a00b4"/><rect x="346" y="179" width="7" height="5" fill="#6301cf"/><rect x="353" y="179" width="6" height="5" fill="#6b01e4"/><rect x="359" y="179" width="6" height="5" fill="#6e02ec"/><rect x="365" y="179" width="6" height="5" fill="#7202f2"/><rect x="371" y="179" width="7" height="5" fill="#7502f7"/><rect x="378" y="179" width="6" height="5" fill="#7d03fe"/><rect x="384" y="179" width="6" height="5" fill="#8705fb"/><rect x="390" y="179" width="6" height="5" fill="#8f08eb"/><rect x="396" y="179" width="7" height="5" fill="#9a0cc0"/><rect x="403" y="179" width="6" height="5" fill="#a41281"/><rect x="409" y="179" width="6" height="5" fill="#a61472"/><rect x="415" y="179" width="6" height="5" fill="#aa1656"/><rect x="421" y="179" width="7" height="5" fill="#b21d18"/><rect x="428" y="179" width="6" height="5" fill="#bb2700"/><rect x="434" y="179" width="6" height="5" fill="#c43400"/><rect x="440" y="179" width="6" height="5" fill="#cd4500"/><rect x="446" y="179" width="7" height="5" fill="#d75b00"/><rect x="453" y="179" width="6" height="5" fill="#de7000"/><rect x="459" y="179" width="6" height="5" fill="#e17800"/><rect x="465" y="179" width="6" height="5" fill="#de7000"/><rect x="471" y="179" width="7" height="5" fill="#dc6800"/><rect x="478" y="179" width="12" height="5" fill="#d96100"/><rect x="490" y="179" width="6" height="5" fill="#d75b00"/><rect x="496" y="179" width="13" height="5" fill="#d45400"/><rect x="509" y="179" width="6" height="5" fill="#d14e00"/><rect x="515" y="179" width="9" height="5" fill="#cf4800"/>
<rect x="75" y="184" width="9" height="5" fill="#c93d00"/><rect x="84" y="184" width="6" height="5" fill="#c43400"/><rect x="90" y="184" width="6" height="5" fill="#bb2700"/><rect x="96" y="184" width="7" height="5" fill="#b21d18"/><rect x="103" y="184" width="6" height="5" fill="#ae1a33"/><rect x="109" y="184" width="6" height="5" fill="#a81568"/><rect x="115" y="184" width="6" height="5" fill="#9f0fa2"/><rect x="121" y="184" width="7" height="5" fill="#9a0cbf"/><rect x="128" y="184" width="6" height="5" fill="#940ad8"/><rect x="134" y="184" width="6" height="5" fill="#9109e5"/><rect x="140" y="184" width="6" height="5" fill="#8d07f0"/><rect x="146" y="184" width="7" height="5" fill="#8906f8"/><rect x="153" y="184" width="6" height="5" fill="#7f04ff"/><rect x="159" y="184" width="6" height="5" fill="#7b03fd"/><rect x="165" y="184" width="6" height="5" fill="#7102f1"/><rect x="171" y="184" width="19" height="5" fill="#6b01e4"/><rect x="190" y="184" width="6" height="5" fill="#6e02ea"/><rect x="196" y="184" width="7" height="5" fill="#7302f3"/><rect x="203" y="184" width="6" height="5" fill="#7a03fc"/><rect x="209" y="184" width="6" height="5" fill="#8004ff"/><rect x="215" y="184" width="6" height="5" fill="#8906f8"/><rect x="221" y="184" width="7" height="5" fill="#9309df"/><rect x="228" y="184" width="18" height="5" fill="#9a0cbf"/><rect x="246" y="184" width="7" height="5" fill="#960bd0"/><rect x="253" y="184" width="6" height="5" fill="#9309df"/><rect x="259" y="184" width="6" height="5" fill="#9109e5"/><rect x="265" y="184" width="6" height="5" fill="#8f08eb"/><rect x="271" y="184" width="7" height="5" fill="#8d07f0"/><rect x="278" y="184" width="6" height="5" fill="#8505fd"/><rect x="284" y="184" width="6" height="5" fill="#7c03fe"/><rect x="290" y="184" width="6" height="5" fill="#7502f7"/><rect x="296" y="184" width="7" height="5" fill="#7002ef"/><rect x="303" y="184" width="6" height="5" fill="#6001c6"/><rect x="309" y="184" width="31" height="5" fill="#5700aa"/><rect x="340" y="184" width="6" height="5" fill="#5a00b4"/><rect x="346" y="184" width="7" height="5" fill="#6301cf"/><rect x="353" y="184" width="6" height="5" fill="#6b01e4"/><rect x="359" y="184" width="6" height="5" fill="#6f02ed"/><rect x="365" y="184" width="6" height="5" fill="#7302f4"/><rect x="371" y="184" width="7" height="5" fill="#7603f9"/><rect x="378" y="184" width="6" height="5" fill="#7e04ff"/><rect x="384" y="184" width="6" height="5" fill="#8806f9"/><rect x="390" y="184" width="6" height="5" fill="#9109e5"/><rect x="396" y="184" width="7" height="5" fill="#9c0db5"/><rect x="403" y="184" width="6" height="5" fill="#a81568"/><rect x="409" y="184" width="6" height="5" fill="#aa1659"/><rect x="415" y="184" width="6" height="5" fill="#ad193c"/><rect x="421" y="184" width="7" height="5" fill="#b52000"/><rect x="428" y="184" width="6" height="5" fill="#be2b00"/><rect x="434" y="184" width="6" height="5" fill="#c93d00"/><rect x="440" y="184" width="6" height="5" fill="#d35100"/><rect x="446" y="184" width="7" height="5" fill="#dc6800"/><rect x="453" y="184" width="6" height="5" fill="#e68800"/><rect x="459" y="184" width="12" height="5" fill="#eda400"/><rect x="471" y="184" width="7" height="5" fill="#e89100"/><rect x="478" y="184" width="12" height="5" fill="#e68800"/><rect x="490" y="184" width="6" height="5" fill="#e38000"/><rect x="496" y="184" width="13" height="5" fill="#e17800"/><rect x="509" y="184" width="12" height="5" fill="#de7000"/><rect x="521" y="184" width="3" height="5" fill="#dc6800"/>
<rect x="75" y="189" width="3" height="5" fill="#dc6800"/><rect x="78" y="189" width="6" height="5" fill="#d96100"/><rect x="84" y="189" width="6" height="5" fill="#d45400"/><rect x="90" y="189" width="6" height="5" fill="#c63900"/><rect x="96" y="189" width="7" height="5" fill="#bb2700"/><rect x="103" y="189" width="6" height="5" fill="#b82400"/><rect x="109" y="189" width="6" height="5" fill="#b52000"/><rect x="115" y="189" width="6" height="5" fill="#ab174e"/><rect x="121" y="189" width="7" height="5" fill="#a3118c"/><rect x="128" y="189" width="6" height="5" fill="#9a0cbf"/><rect x="134" y="189" width="6" height="5" fill="#940ad8"/><rect x="140" y="189" width="6" height="5" fill="#9109e5"/><rect x="146" y="189" width="7" height="5" fill="#8d07f0"/><rect x="153" y="189" width="6" height="5" fill="#8906f8"/><rect x="159" y="189" width="6" height="5" fill="#7f04ff"/><rect x="165" y="189" width="6" height="5" fill="#7302f5"/><rect x="171" y="189" width="7" height="5" fill="#6e02eb"/><rect x="178" y="189" width="6" height="5" fill="#6f02ed"/><rect x="184" y="189" width="6" height="5" fill="#7002ef"/><rect x="190" y="189" width="6" height="5" fill="#7302f3"/><rect x="196" y="189" width="7" height="5" fill="#7703fa"/><rect x="203" y="189" width="6" height="5" fill="#7e04ff"/><rect x="209" y="189" width="6" height="5" fill="#8706fb"/><rect x="215" y="189" width="6" height="5" fill="#9109e5"/><rect x="221" y="189" width="7" height="5" fill="#9a0cbf"/><rect x="228" y="189" width="6" height="5" fill="#a11097"/><rect x="234" y="189" width="6" height="5" fill="#a51280"/><rect x="240" y="189" width="6" height="5" fill="#a11097"/><rect x="246" y="189" width="7" height="5" fill="#9e0eac"/><rect x="253" y="189" width="18" height="5" fill="#9a0cbf"/><rect x="271" y="189" width="7" height="5" fill="#960bd0"/><rect x="278" y="189" width="6" height="5" fill="#8906f8"/><rect x="284" y="189" width="6" height="5" fill="#8004ff"/><rect x="290" y="189" width="6" height="5" fill="#7703fa"/><rect x="296" y="189" width="7" height="5" fill="#6e02ea"/><rect x="303" y="189" width="6" height="5" fill="#6001c6"/><rect x="309" y="189" width="19" height="5" fill="#5700aa"/><rect x="328" y="189" width="6" height="5" fill="#5a00b4"/><rect x="334" y="189" width="6" height="5" fill="#5700aa"/><rect x="340" y="189" width="6" height="5" fill="#5a00b4"/><rect x="346" y="189" width="7" height="5" fill="#6301cf"/><rect x="353" y="189" width="6" height="5" fill="#6b01e4"/><rect x="359" y="189" width="6" height="5" fill="#6f02ed"/><rect x="365" y="189" width="6" height="5" fill="#7302f4"/><rect x="371" y="189" width="7" height="5" fill="#7803fa"/><rect x="378" y="189" width="6" height="5" fill="#7f04ff"/><rect x="384" y="189" width="6" height="5" fill="#8906f7"/><rect x="390" y="189" width="6" height="5" fill="#9309de"/><rect x="396" y="189" width="7" height="5" fill="#a00fa0"/><rect x="403" y="189" width="6" height="5" fill="#ab174f"/><rect x="409" y="189" width="6" height="5" fill="#ad193f"/><rect x="415" y="189" width="6" height="5" fill="#b11c21"/><rect x="421" y="189" width="7" height="5" fill="#b82400"/><rect x="428" y="189" width="6" height="5" fill="#c12f00"/><rect x="434" y="189" width="6" height="5" fill="#cb4000"/><rect x="440" y="189" width="6" height="5" fill="#d55700"/><rect x="446" y="189" width="7" height="5" fill="#e17800"/><rect x="453" y="189" width="6" height="5" fill="#eda400"/><rect x="459" y="189" width="6" height="5" fill="#f4c300"/><rect x="465" y="189" width="6" height="5" fill="#f6ce00"/><rect x="471" y="189" width="7" height="5" fill="#f2b800"/><rect x="478" y="189" width="6" height="5" fill="#efae00"/><rect x="484" y="189" width="6" height="5" fill="#f2b800"/><rect x="490" y="189" width="6" height="5" fill="#efae00"/><rect x="496" y="189" width="7" height="5" fill="#eda400"/><rect x="503" y="189" width="12" height="5" fill="#ea9a00"/><rect x="515" y="189" width="6" height="5" fill="#e89100"/><rect x="521" y="189" width="3" height="5" fill="#e68800"/>
<rect x="75" y="194" width="3" height="5" fill="#efae00"/><rect x="78" y="194" width="6" height="5" fill="#eda400"/><rect x="84" y="194" width="6" height="5" fill="#d96100"/><rect x="90" y="194" width="6" height="5" fill="#cc4300"/><rect x="96" y="194" width="7" height="5" fill="#c12f00"/><rect x="103" y="194" width="6" height="5" fill="#bb2700"/><rect x="109" y="194" width="6" height="5" fill="#b82400"/><rect x="115" y="194" width="6" height="5" fill="#b21d18"/><rect x="121" y="194" width="7" height="5" fill="#a81568"/><rect x="128" y="194" width="6" height="5" fill="#9e0eac"/><rect x="134" y="194" width="6" height="5" fill="#960bd0"/><rect x="140" y="194" width="6" height="5" fill="#9309df"/><rect x="146" y="194" width="7" height="5" fill="#8f08eb"/><rect x="153" y="194" width="6" height="5" fill="#8b07f4"/><rect x="159" y="194" width="6" height="5" fill="#8505fd"/><rect x="165" y="194" width="6" height="5" fill="#7a03fc"/><rect x="171" y="194" width="7" height="5" fill="#7402f5"/><rect x="178" y="194" width="6" height="5" fill="#7703f9"/><rect x="184" y="194" width="6" height="5" fill="#7a03fc"/><rect x="190" y="194" width="6" height="5" fill="#7e04ff"/><rect x="196" y="194" width="7" height="5" fill="#8205fe"/><rect x="203" y="194" width="6" height="5" fill="#8706fb"/><rect x="209" y="194" width="6" height="5" fill="#8f08eb"/><rect x="215" y="194" width="6" height="5" fill="#9a0cbf"/><rect x="221" y="194" width="7" height="5" fill="#a11097"/><rect x="228" y="194" width="18" height="5" fill="#a61474"/><rect x="246" y="194" width="7" height="5" fill="#aa165b"/><rect x="253" y="194" width="18" height="5" fill="#a11097"/><rect x="271" y="194" width="7" height="5" fill="#9c0db6"/><rect x="278" y="194" width="6" height="5" fill="#8b07f4"/><rect x="284" y="194" width="6" height="5" fill="#7a03fc"/><rect x="290" y="194" width="6" height="5" fill="#7002ef"/><rect x="296" y="194" width="7" height="5" fill="#6601d6"/><rect x="303" y="194" width="6" height="5" fill="#5a00b4"/><rect x="309" y="194" width="19" height="5" fill="#5700aa"/><rect x="328" y="194" width="12" height="5" fill="#54009f"/><rect x="340" y="194" width="6" height="5" fill="#5700aa"/><rect x="346" y="194" width="7" height="5" fill="#6001c6"/><rect x="353" y="194" width="6" height="5" fill="#6b01e4"/><rect x="359" y="194" width="6" height="5" fill="#7002ee"/><rect x="365" y="194" width="6" height="5" fill="#7402f6"/><rect x="371" y="194" width="7" height="5" fill="#7903fc"/><rect x="378" y="194" width="6" height="5" fill="#8004ff"/><rect x="384" y="194" width="6" height="5" fill="#8a06f5"/><rect x="390" y="194" width="6" height="5" fill="#950ad7"/><rect x="396" y="194" width="7" height="5" fill="#a21192"/><rect x="403" y="194" width="6" height="5" fill="#ae1a34"/><rect x="409" y="194" width="6" height="5" fill="#b21d16"/><rect x="415" y="194" width="6" height="5" fill="#b52100"/><rect x="421" y="194" width="7" height="5" fill="#bb2700"/><rect x="428" y="194" width="6" height="5" fill="#c43400"/><rect x="434" y="194" width="6" height="5" fill="#cf4800"/><rect x="440" y="194" width="6" height="5" fill="#d96100"/><rect x="446" y="194" width="7" height="5" fill="#e38000"/><rect x="453" y="194" width="12" height="5" fill="#eda400"/><rect x="465" y="194" width="6" height="5" fill="#e89100"/><rect x="471" y="194" width="7" height="5" fill="#ea9a00"/><rect x="478" y="194" width="6" height="5" fill="#eda400"/><rect x="484" y="194" width="19" height="5" fill="#efae00"/><rect x="503" y="194" width="12" height="5" fill="#f2b800"/><rect x="515" y="194" width="6" height="5" fill="#efae00"/><rect x="521" y="194" width="3" height="5" fill="#ea9a00"/>
<rect x="75" y="199" width="3" height="5" fill="#f4c300"/><rect x="78" y="199" width="6" height="5" fill="#ea9a00"/><rect x="84" y="199" width="6" height="5" fill="#dc6800"/><rect x="90" y="199" width="6" height="5" fill="#d14e00"/><rect x="96" y="199" width="7" height="5" fill="#cc4300"/><rect x="103" y="199" width="6" height="5" fill="#c63900"/><rect x="109" y="199" width="6" height="5" fill="#c12f00"/><rect x="115" y="199" width="6" height="5" fill="#bb2700"/><rect x="121" y="199" width="7" height="5" fill="#b21d18"/><rect x="128" y="199" width="6" height="5" fill="#a3118c"/><rect x="134" y="199" width="6" height="5" fill="#9a0cbf"/><rect x="140" y="199" width="6" height="5" fill="#940ad8"/><rect x="146" y="199" width="7" height="5" fill="#9109e5"/><rect x="153" y="199" width="6" height="5" fill="#8d07f0"/><rect x="159" y="199" width="6" height="5" fill="#8b07f4"/><rect x="165" y="199" width="6" height="5" fill="#8104ff"/><rect x="171" y="199" width="7" height="5" fill="#7d03fe"/><rect x="178" y="199" width="6" height="5" fill="#7d04ff"/><rect x="184" y="199" width="6" height="5" fill="#7e04ff"/><rect x="190" y="199" width="6" height="5" fill="#8205fe"/><rect x="196" y="199" width="7" height="5" fill="#8706fb"/><rect x="203" y="199" width="6" height="5" fill="#8b07f4"/><rect x="209" y="199" width="6" height="5" fill="#960bd0"/><rect x="215" y="199" width="6" height="5" fill="#a11097"/><rect x="221" y="199" width="7" height="5" fill="#a61474"/><rect x="228" y="199" width="12" height="5" fill="#aa165b"/><rect x="240" y="199" width="6" height="5" fill="#ad1941"/><rect x="246" y="199" width="7" height="5" fill="#b31f0a"/><rect x="253" y="199" width="6" height="5" fill="#a3118c"/><rect x="259" y="199" width="6" height="5" fill="#9c0db6"/><rect x="265" y="199" width="6" height="5" fill="#9f0fa2"/><rect x="271" y="199" width="7" height="5" fill="#960bd0"/><rect x="278" y="199" width="6" height="5" fill="#8004ff"/><rect x="284" y="199" width="6" height="5" fill="#6b01e4"/><rect x="290" y="199" width="6" height="5" fill="#6001c6"/><rect x="296" y="199" width="7" height="5" fill="#5a00b4"/><rect x="303" y="199" width="6" height="5" fill="#4d0089"/><rect x="309" y="199" width="6" height="5" fill="#49007d"/><rect x="315" y="199" width="19" height="5" fill="#450071"/><rect x="334" y="199" width="6" height="5" fill="#49007d"/><rect x="340" y="199" width="6" height="5" fill="#500094"/><rect x="346" y="199" width="7" height="5" fill="#6301cf"/><rect x="353" y="199" width="6" height="5" fill="#6e02ea"/><rect x="359" y="199" width="6" height="5" fill="#7102f1"/><rect x="365" y="199" width="6" height="5" fill="#7602f8"/><rect x="371" y="199" width="7" height="5" fill="#7a03fd"/><rect x="378" y="199" width="6" height="5" fill="#8104ff"/><rect x="384" y="199" width="6" height="5" fill="#8c07f1"/><rect x="390" y="199" width="6" height="5" fill="#970bce"/><rect x="396" y="199" width="7" height="5" fill="#a41285"/><rect x="403" y="199" width="6" height="5" fill="#ae1a34"/><rect x="409" y="199" width="6" height="5" fill="#b21d16"/><rect x="415" y="199" width="6" height="5" fill="#b82400"/><rect x="421" y="199" width="7" height="5" fill="#be2b00"/><rect x="428" y="199" width="6" height="5" fill="#c63900"/><rect x="434" y="199" width="6" height="5" fill="#d14e00"/><rect x="440" y="199" width="6" height="5" fill="#dc6800"/><rect x="446" y="199" width="7" height="5" fill="#e38000"/><rect x="453" y="199" width="6" height="5" fill="#e68800"/><rect x="459" y="199" width="6" height="5" fill="#de7000"/><rect x="465" y="199" width="6" height="5" fill="#d96100"/><rect x="471" y="199" width="7" height="5" fill="#dc6800"/><rect x="478" y="199" width="6" height="5" fill="#de7000"/><rect x="484" y="199" width="6" height="5" fill="#e17800"/><rect x="490" y="199" width="6" height="5" fill="#e38000"/><rect x="496" y="199" width="7" height="5" fill="#e68800"/><rect x="503" y="199" width="6" height="5" fill="#ea9a00"/><rect x="509" y="199" width="6" height="5" fill="#f4c300"/><rect x="515" y="199" width="6" height="5" fill="#fbe600"/><rect x="521" y="199" width="3" height="5" fill="#efae00"/>
<rect x="75" y="204" width="3" height="6" fill="#e38000"/><rect x="78" y="204" width="6" height="6" fill="#e17800"/><rect x="84" y="204" width="12" height="6" fill="#de7000"/><rect x="96" y="204" width="7" height="6" fill="#dc6800"/><rect x="103" y="204" width="6" height="6" fill="#d96100"/><rect x="109" y="204" width="6" height="6" fill="#d45400"/><rect x="115" y="204" width="6" height="6" fill="#cc4300"/><rect x="121" y="204" width="7" height="6" fill="#bb2700"/><rect x="128" y="204" width="6" height="6" fill="#ae1a33"/><rect x="134" y="204" width="6" height="6" fill="#9f0fa2"/><rect x="140" y="204" width="6" height="6" fill="#980cc8"/><rect x="146" y="204" width="7" height="6" fill="#9309df"/><rect x="153" y="204" width="6" height="6" fill="#8f08eb"/><rect x="159" y="204" width="6" height="6" fill="#8d07f0"/><rect x="165" y="204" width="6" height="6" fill="#8b07f4"/><rect x="171" y="204" width="7" height="6" fill="#8605fc"/><rect x="178" y="204" width="6" height="6" fill="#8706fb"/><rect x="184" y="204" width="6" height="6" fill="#8505fd"/><rect x="190" y="204" width="6" height="6" fill="#8706fb"/><rect x="196" y="204" width="7" height="6" fill="#8906f8"/><rect x="203" y="204" width="6" height="6" fill="#8f08eb"/><rect x="209" y="204" width="6" height="6" fill="#9e0eac"/><rect x="215" y="204" width="6" height="6" fill="#a61474"/><rect x="221" y="204" width="7" height="6" fill="#ab174e"/><rect x="228" y="204" width="6" height="6" fill="#ae1a33"/><rect x="234" y="204" width="12" height="6" fill="#b01c26"/><rect x="246" y="204" width="7" height="6" fill="#a91561"/><rect x="253" y="204" width="6" height="6" fill="#8706fb"/><rect x="259" y="204" width="6" height="6" fill="#8806f8"/><rect x="265" y="204" width="6" height="6" fill="#8c07f1"/><rect x="271" y="204" width="7" height="6" fill="#8605fb"/><rect x="278" y="204" width="6" height="6" fill="#7002ee"/><rect x="284" y="204" width="6" height="6" fill="#5a00b2"/><rect x="290" y="204" width="6" height="6" fill="#53009e"/><rect x="296" y="204" width="7" height="6" fill="#500093"/><rect x="303" y="204" width="6" height="6" fill="#400063"/><rect x="309" y="204" width="6" height="6" fill="#3c0056"/><rect x="315" y="204" width="6" height="6" fill="#37004b"/><rect x="321" y="204" width="13" height="6" fill="#3c0058"/><rect x="334" y="204" width="6" height="6" fill="#450071"/><rect x="340" y="204" width="6" height="6" fill="#4d0089"/><rect x="346" y="204" width="7" height="6" fill="#6001c6"/><rect x="353" y="204" width="6" height="6" fill="#6e02ea"/><rect x="359" y="204" width="6" height="6" fill="#7202f3"/><rect x="365" y="204" width="6" height="6" fill="#7703fa"/><rect x="371" y="204" width="7" height="6" fill="#7b03fe"/><rect x="378" y="204" width="6" height="6" fill="#8405fe"/><rect x="384" y="204" width="6" height="6" fill="#8f08eb"/><rect x="390" y="204" width="6" height="6" fill="#990cc5"/><rect x="396" y="204" width="7" height="6" fill="#a5137a"/><rect x="403" y="204" width="6" height="6" fill="#b11d19"/><rect x="409" y="204" width="6" height="6" fill="#b52100"/><rect x="415" y="204" width="6" height="6" fill="#b82400"/><rect x="421" y="204" width="7" height="6" fill="#be2b00"/><rect x="428" y="204" width="6" height="6" fill="#c63900"/><rect x="434" y="204" width="6" height="6" fill="#d14e00"/><rect x="440" y="204" width="6" height="6" fill="#d96100"/><rect x="446" y="204" width="7" height="6" fill="#de7000"/><rect x="453" y="204" width="6" height="6" fill="#e17800"/><rect x="459" y="204" width="6" height="6" fill="#d96100"/><rect x="465" y="204" width="13" height="6" fill="#d45400"/><rect x="478" y="204" width="12" height="6" fill="#d75b00"/><rect x="490" y="204" width="6" height="6" fill="#d96100"/><rect x="496" y="204" width="7" height="6" fill="#dc6800"/><rect x="503" y="204" width="6" height="6" fill="#e17800"/><rect x="509" y="204" width="6" height="6" fill="#ea9a00"/><rect x="515" y="204" width="6" height="6" fill="#efae00"/><rect x="521" y="204" width="3" height="6" fill="#e89100"/>
<rect x="75" y="210" width="9" height="5" fill="#e17800"/><rect x="84" y="210" width="6" height="5" fill="#e38000"/><rect x="90" y="210" width="6" height="5" fill="#efae00"/><rect x="96" y="210" width="7" height="5" fill="#f2b800"/><rect x="103" y="210" width="6" height="5" fill="#efae00"/><rect x="109" y="210" width="6" height="5" fill="#eda400"/><rect x="115" y="210" width="6" height="5" fill="#e99600"/><rect x="121" y="210" width="7" height="5" fill="#d75c00"/><rect x="128" y="210" width="6" height="5" fill="#be2c00"/><rect x="134" y="210" width="6" height="5" fill="#b21e14"/><rect x="140" y="210" width="6" height="5" fill="#a3118c"/><rect x="146" y="210" width="7" height="5" fill="#980cc8"/><rect x="153" y="210" width="6" height="5" fill="#9309df"/><rect x="159" y="210" width="6" height="5" fill="#9109e5"/><rect x="165" y="210" width="13" height="5" fill="#8f08eb"/><rect x="178" y="210" width="6" height="5" fill="#8d07f0"/><rect x="184" y="210" width="12" height="5" fill="#8b07f4"/><rect x="196" y="210" width="7" height="5" fill="#8f08eb"/><rect x="203" y="210" width="6" height="5" fill="#9309df"/><rect x="209" y="210" width="6" height="5" fill="#a11097"/><rect x="215" y="210" width="6" height="5" fill="#aa165b"/><rect x="221" y="210" width="7" height="5" fill="#ad1941"/><rect x="228" y="210" width="6" height="5" fill="#b21d18"/><rect x="234" y="210" width="6" height="5" fill="#b52000"/><rect x="240" y="210" width="6" height="5" fill="#b21d18"/><rect x="246" y="210" width="7" height="5" fill="#9c0db6"/><rect x="253" y="210" width="6" height="5" fill="#7402f6"/><rect x="259" y="210" width="6" height="5" fill="#6401d3"/><rect x="265" y="210" width="6" height="5" fill="#6a01e1"/><rect x="271" y="210" width="7" height="5" fill="#7102f2"/><rect x="278" y="210" width="6" height="5" fill="#6201cb"/><rect x="284" y="210" width="6" height="5" fill="#4f008f"/><rect x="290" y="210" width="6" height="5" fill="#43006c"/><rect x="296" y="210" width="7" height="5" fill="#470078"/><rect x="303" y="210" width="12" height="5" fill="#37004b"/><rect x="315" y="210" width="6" height="5" fill="#32003d"/><rect x="321" y="210" width="7" height="5" fill="#250022"/><rect x="328" y="210" width="6" height="5" fill="#37004b"/><rect x="334" y="210" width="6" height="5" fill="#410064"/><rect x="340" y="210" width="6" height="5" fill="#49007d"/><rect x="346" y="210" width="7" height="5" fill="#6001c6"/><rect x="353" y="210" width="6" height="5" fill="#6e02ea"/><rect x="359" y="210" width="6" height="5" fill="#7202f3"/><rect x="365" y="210" width="6" height="5" fill="#7703fa"/><rect x="371" y="210" width="7" height="5" fill="#7c03fe"/><rect x="378" y="210" width="6" height="5" fill="#8505fd"/><rect x="384" y="210" width="6" height="5" fill="#9008e9"/><rect x="390" y="210" width="6" height="5" fill="#9a0cbf"/><rect x="396" y="210" width="7" height="5" fill="#a61377"/><rect x="403" y="210" width="6" height="5" fill="#b11d19"/><rect x="409" y="210" width="6" height="5" fill="#b52100"/><rect x="415" y="210" width="6" height="5" fill="#b82400"/><rect x="421" y="210" width="7" height="5" fill="#be2b00"/><rect x="428" y="210" width="6" height="5" fill="#c63900"/><rect x="434" y="210" width="6" height="5" fill="#cf4800"/><rect x="440" y="210" width="6" height="5" fill="#d75b00"/><rect x="446" y="210" width="13" height="5" fill="#d96100"/><rect x="459" y="210" width="6" height="5" fill="#d45400"/><rect x="465" y="210" width="19" height="5" fill="#cf4800"/><rect x="484" y="210" width="6" height="5" fill="#d14e00"/><rect x="490" y="210" width="6" height="5" fill="#d45400"/><rect x="496" y="210" width="7" height="5" fill="#d96100"/><rect x="503" y="210" width="6" height="5" fill="#de7000"/><rect x="509" y="210" width="6" height="5" fill="#e38000"/><rect x="515" y="210" width="6" height="5" fill="#e68800"/><rect x="521" y="210" width="3" height="5" fill="#e38000"/>
<rect x="75" y="215" width="3" height="5" fill="#de7000"/><rect x="78" y="215" width="6" height="5" fill="#e17800"/><rect x="84" y="215" width="6" height="5" fill="#e68800"/><rect x="90" y="215" width="6" height="5" fill="#f2b800"/><rect x="96" y="215" width="7" height="5" fill="#fbe600"/><rect x="103" y="215" width="6" height="5" fill="#ffff00"/><rect x="109" y="215" width="6" height="5" fill="#f4c300"/><rect x="115" y="215" width="6" height="5" fill="#f2ba00"/><rect x="121" y="215" width="7" height="5" fill="#e07400"/><rect x="128" y="215" width="6" height="5" fill="#c53600"/><rect x="134" y="215" width="6" height="5" fill="#bc2900"/><rect x="140" y="215" width="6" height="5" fill="#ad1940"/><rect x="146" y="215" width="7" height="5" fill="#9e0eac"/><rect x="153" y="215" width="6" height="5" fill="#980cc8"/><rect x="159" y="215" width="6" height="5" fill="#940ad8"/><rect x="165" y="215" width="13" height="5" fill="#9309df"/><rect x="178" y="215" width="6" height="5" fill="#940ad8"/><rect x="184" y="215" width="19" height="5" fill="#960bd0"/><rect x="203" y="215" width="6" height="5" fill="#9a0cbf"/><rect x="209" y="215" width="6" height="5" fill="#a51280"/><rect x="215" y="215" width="6" height="5" fill="#b52000"/><rect x="221" y="215" width="7" height="5" fill="#a61474"/><rect x="228" y="215" width="6" height="5" fill="#9e0eac"/><rect x="234" y="215" width="6" height="5" fill="#960bd0"/><rect x="240" y="215" width="6" height="5" fill="#8b07f4"/><rect x="246" y="215" width="7" height="5" fill="#7202f2"/><rect x="253" y="215" width="6" height="5" fill="#5700ac"/><rect x="259" y="215" width="6" height="5" fill="#49007d"/><rect x="265" y="215" width="6" height="5" fill="#4d0089"/><rect x="271" y="215" width="7" height="5" fill="#5a00b4"/><rect x="278" y="215" width="6" height="5" fill="#5700aa"/><rect x="284" y="215" width="6" height="5" fill="#49007d"/><rect x="290" y="215" width="6" height="5" fill="#410064"/><rect x="296" y="215" width="7" height="5" fill="#49007d"/><rect x="303" y="215" width="6" height="5" fill="#32003d"/><rect x="309" y="215" width="6" height="5" fill="#250022"/><rect x="315" y="215" width="6" height="5" fill="#32003d"/><rect x="321" y="215" width="7" height="5" fill="#37004b"/><rect x="328" y="215" width="6" height="5" fill="#3c0058"/><rect x="334" y="215" width="6" height="5" fill="#410064"/><rect x="340" y="215" width="6" height="5" fill="#49007d"/><rect x="346" y="215" width="7" height="5" fill="#6001c6"/><rect x="353" y="215" width="6" height="5" fill="#6e02ea"/><rect x="359" y="215" width="6" height="5" fill="#7302f4"/><rect x="365" y="215" width="6" height="5" fill="#7803fb"/><rect x="371" y="215" width="7" height="5" fill="#7d03fe"/><rect x="378" y="215" width="6" height="5" fill="#8505fc"/><rect x="384" y="215" width="6" height="5" fill="#9008e6"/><rect x="390" y="215" width="6" height="5" fill="#9b0dba"/><rect x="396" y="215" width="7" height="5" fill="#a71471"/><rect x="403" y="215" width="6" height="5" fill="#b11d19"/><rect x="409" y="215" width="6" height="5" fill="#b52100"/><rect x="415" y="215" width="6" height="5" fill="#b82400"/><rect x="421" y="215" width="7" height="5" fill="#be2b00"/><rect x="428" y="215" width="6" height="5" fill="#c43400"/><rect x="434" y="215" width="6" height="5" fill="#cc4300"/><rect x="440" y="215" width="6" height="5" fill="#d14e00"/><rect x="446" y="215" width="13" height="5" fill="#d45400"/><rect x="459" y="215" width="6" height="5" fill="#cf4800"/><rect x="465" y="215" width="19" height="5" fill="#cc4300"/><rect x="484" y="215" width="6" height="5" fill="#cf4800"/><rect x="490" y="215" width="6" height="5" fill="#d45400"/><rect x="496" y="215" width="7" height="5" fill="#d96100"/><rect x="503" y="215" width="6" height="5" fill="#dc6800"/><rect x="509" y="215" width="15" height="5" fill="#de7000"/>
<rect x="75" y="220" width="3" height="5" fill="#dc6800"/><rect x="78" y="220" width="6" height="5" fill="#de7000"/><rect x="84" y="220" width="6" height="5" fill="#e38000"/><rect x="90" y="220" width="6" height="5" fill="#e89100"/><rect x="96" y="220" width="7" height="5" fill="#f4c300"/><rect x="103" y="220" width="6" height="5" fill="#f2b800"/><rect x="109" y="220" width="6" height="5" fill="#e89100"/><rect x="115" y="220" width="6" height="5" fill="#e17900"/><rect x="121" y="220" width="7" height="5" fill="#dd6c00"/><rect x="128" y="220" width="6" height="5" fill="#c83b00"/><rect x="134" y="220" width="6" height="5" fill="#bf2d00"/><rect x="140" y="220" width="6" height="5" fill="#b52000"/><rect x="146" y="220" width="7" height="5" fill="#a61474"/><rect x="153" y="220" width="6" height="5" fill="#9e0eac"/><rect x="159" y="220" width="19" height="5" fill="#9a0cbf"/><rect x="178" y="220" width="6" height="5" fill="#9e0eac"/><rect x="184" y="220" width="6" height="5" fill="#a11097"/><rect x="190" y="220" width="6" height="5" fill="#a51280"/><rect x="196" y="220" width="7" height="5" fill="#a11097"/><rect x="203" y="220" width="6" height="5" fill="#9e0eac"/><rect x="209" y="220" width="6" height="5" fill="#9a0cbf"/><rect x="215" y="220" width="6" height="5" fill="#9c0db6"/><rect x="221" y="220" width="7" height="5" fill="#960bd0"/><rect x="228" y="220" width="6" height="5" fill="#8b07f4"/><rect x="234" y="220" width="6" height="5" fill="#7e04ff"/><rect x="240" y="220" width="6" height="5" fill="#7502f7"/><rect x="246" y="220" width="7" height="5" fill="#6201cc"/><rect x="253" y="220" width="6" height="5" fill="#4a007f"/><rect x="259" y="220" width="6" height="5" fill="#37004b"/><rect x="265" y="220" width="6" height="5" fill="#3c0058"/><rect x="271" y="220" width="13" height="5" fill="#500094"/><rect x="284" y="220" width="19" height="5" fill="#4d0089"/><rect x="303" y="220" width="25" height="5" fill="#37004b"/><rect x="328" y="220" width="6" height="5" fill="#3c0058"/><rect x="334" y="220" width="6" height="5" fill="#410064"/><rect x="340" y="220" width="6" height="5" fill="#49007d"/><rect x="346" y="220" width="7" height="5" fill="#5d01bd"/><rect x="353" y="220" width="6" height="5" fill="#6b01e4"/><rect x="359" y="220" width="6" height="5" fill="#7202f3"/><rect x="365" y="220" width="6" height="5" fill="#7803fb"/><rect x="371" y="220" width="7" height="5" fill="#7d04ff"/><rect x="378" y="220" width="6" height="5" fill="#8605fc"/><rect x="384" y="220" width="6" height="5" fill="#9109e3"/><rect x="390" y="220" width="6" height="5" fill="#9c0db5"/><rect x="396" y="220" width="7" height="5" fill="#a7146b"/><rect x="403" y="220" width="6" height="5" fill="#b11d19"/><rect x="409" y="220" width="6" height="5" fill="#b52100"/><rect x="415" y="220" width="6" height="5" fill="#b82400"/><rect x="421" y="220" width="7" height="5" fill="#be2b00"/><rect x="428" y="220" width="6" height="5" fill="#c43400"/><rect x="434" y="220" width="6" height="5" fill="#c93d00"/><rect x="440" y="220" width="6" height="5" fill="#cf4800"/><rect x="446" y="220" width="7" height="5" fill="#d14e00"/><rect x="453" y="220" width="6" height="5" fill="#cf4800"/><rect x="459" y="220" width="6" height="5" fill="#cc4300"/><rect x="465" y="220" width="13" height="5" fill="#c93d00"/><rect x="478" y="220" width="6" height="5" fill="#cc4300"/><rect x="484" y="220" width="6" height="5" fill="#d14e00"/><rect x="490" y="220" width="6" height="5" fill="#d75b00"/><rect x="496" y="220" width="7" height="5" fill="#d96100"/><rect x="503" y="220" width="21" height="5" fill="#dc6800"/>
<rect x="75" y="225" width="3" height="5" fill="#d75b00"/><rect x="78" y="225" width="6" height="5" fill="#d96100"/><rect x="84" y="225" width="6" height="5" fill="#dc6800"/><rect x="90" y="225" width="13" height="5" fill="#de7000"/><rect x="103" y="225" width="6" height="5" fill="#dc6800"/><rect x="109" y="225" width="6" height="5" fill="#d75b00"/><rect x="115" y="225" width="6" height="5" fill="#d24f00"/><rect x="121" y="225" width="7" height="5" fill="#cd4500"/><rect x="128" y="225" width="6" height="5" fill="#c53600"/><rect x="134" y="225" width="6" height="5" fill="#bf2d00"/><rect x="140" y="225" width="6" height="5" fill="#b82400"/><rect x="146" y="225" width="7" height="5" fill="#ad1941"/><rect x="153" y="225" width="6" height="5" fill="#a11097"/><rect x="159" y="225" width="12" height="5" fill="#9e0eac"/><rect x="171" y="225" width="7" height="5" fill="#a11097"/><rect x="178" y="225" width="6" height="5" fill="#ad1941"/><rect x="184" y="225" width="6" height="5" fill="#b01c26"/><rect x="190" y="225" width="13" height="5" fill="#b52000"/><rect x="203" y="225" width="6" height="5" fill="#a81568"/><rect x="209" y="225" width="6" height="5" fill="#9e0eac"/><rect x="215" y="225" width="6" height="5" fill="#980cc8"/><rect x="221" y="225" width="7" height="5" fill="#8f08eb"/><rect x="228" y="225" width="6" height="5" fill="#8205fe"/><rect x="234" y="225" width="6" height="5" fill="#7502f7"/><rect x="240" y="225" width="6" height="5" fill="#6b01e4"/><rect x="246" y="225" width="7" height="5" fill="#5c01bb"/><rect x="253" y="225" width="6" height="5" fill="#4a007f"/><rect x="259" y="225" width="12" height="5" fill="#37004b"/><rect x="271" y="225" width="7" height="5" fill="#49007d"/><rect x="278" y="225" width="6" height="5" fill="#500094"/><rect x="284" y="225" width="19" height="5" fill="#54009f"/><rect x="303" y="225" width="12" height="5" fill="#37004b"/><rect x="315" y="225" width="6" height="5" fill="#2c0030"/><rect x="321" y="225" width="13" height="5" fill="#3c0058"/><rect x="334" y="225" width="6" height="5" fill="#37004b"/><rect x="340" y="225" width="6" height="5" fill="#450071"/><rect x="346" y="225" width="7" height="5" fill="#5d01bd"/><rect x="353" y="225" width="6" height="5" fill="#6b01e4"/><rect x="359" y="225" width="6" height="5" fill="#7102f2"/><rect x="365" y="225" width="6" height="5" fill="#7803fb"/><rect x="371" y="225" width="7" height="5" fill="#7e04ff"/><rect x="378" y="225" width="6" height="5" fill="#8706fb"/><rect x="384" y="225" width="6" height="5" fill="#9209e0"/><rect x="390" y="225" width="6" height="5" fill="#9d0eb0"/><rect x="396" y="225" width="7" height="5" fill="#a81568"/><rect x="403" y="225" width="6" height="5" fill="#b11d19"/><rect x="409" y="225" width="6" height="5" fill="#b52100"/><rect x="415" y="225" width="6" height="5" fill="#b82400"/><rect x="421" y="225" width="7" height="5" fill="#be2b00"/><rect x="428" y="225" width="6" height="5" fill="#c43400"/><rect x="434" y="225" width="6" height="5" fill="#c93d00"/><rect x="440" y="225" width="13" height="5" fill="#cf4800"/><rect x="453" y="225" width="6" height="5" fill="#cc4300"/><rect x="459" y="225" width="6" height="5" fill="#c93d00"/><rect x="465" y="225" width="6" height="5" fill="#c63900"/><rect x="471" y="225" width="7" height="5" fill="#c93d00"/><rect x="478" y="225" width="6" height="5" fill="#cf4800"/><rect x="484" y="225" width="6" height="5" fill="#d45400"/><rect x="490" y="225" width="6" height="5" fill="#d96100"/><rect x="496" y="225" width="28" height="5" fill="#dc6800"/>
<rect x="75" y="230" width="3" height="5" fill="#d75b00"/><rect x="78" y="230" width="6" height="5" fill="#d45400"/><rect x="84" y="230" width="6" height="5" fill="#cf4800"/><rect x="90" y="230" width="13" height="5" fill="#cc4300"/><rect x="103" y="230" width="6" height="5" fill="#c93d00"/><rect x="109" y="230" width="6" height="5" fill="#c63900"/><rect x="115" y="230" width="6" height="5" fill="#c73900"/><rect x="121" y="230" width="7" height="5" fill="#c53600"/><rect x="128" y="230" width="6" height="5" fill="#c23200"/><rect x="134" y="230" width="6" height="5" fill="#bf2d00"/><rect x="140" y="230" width="6" height="5" fill="#b52000"/><rect x="146" y="230" width="7" height="5" fill="#aa165b"/><rect x="153" y="230" width="6" height="5" fill="#a11097"/><rect x="159" y="230" width="6" height="5" fill="#9e0eac"/><rect x="165" y="230" width="6" height="5" fill="#a51280"/><rect x="171" y="230" width="7" height="5" fill="#b52000"/><rect x="178" y="230" width="6" height="5" fill="#b82400"/><rect x="184" y="230" width="6" height="5" fill="#b52000"/><rect x="190" y="230" width="13" height="5" fill="#bb2700"/><rect x="203" y="230" width="6" height="5" fill="#b52000"/><rect x="209" y="230" width="6" height="5" fill="#a11097"/><rect x="215" y="230" width="6" height="5" fill="#940ad8"/><rect x="221" y="230" width="7" height="5" fill="#8b07f4"/><rect x="228" y="230" width="6" height="5" fill="#7e04ff"/><rect x="234" y="230" width="6" height="5" fill="#7502f7"/><rect x="240" y="230" width="6" height="5" fill="#6b01e4"/><rect x="246" y="230" width="7" height="5" fill="#5c01bb"/><rect x="253" y="230" width="6" height="5" fill="#4d008b"/><rect x="259" y="230" width="12" height="5" fill="#450071"/><rect x="271" y="230" width="7" height="5" fill="#4d0089"/><rect x="278" y="230" width="18" height="5" fill="#54009f"/><rect x="296" y="230" width="7" height="5" fill="#500094"/><rect x="303" y="230" width="6" height="5" fill="#2c0030"/><rect x="309" y="230" width="6" height="5" fill="#37004b"/><rect x="315" y="230" width="6" height="5" fill="#3e005d"/><rect x="321" y="230" width="7" height="5" fill="#450071"/><rect x="328" y="230" width="12" height="5" fill="#410064"/><rect x="340" y="230" width="6" height="5" fill="#450071"/><rect x="346" y="230" width="7" height="5" fill="#5a00b4"/><rect x="353" y="230" width="6" height="5" fill="#6801dd"/><rect x="359" y="230" width="6" height="5" fill="#7002ef"/><rect x="365" y="230" width="6" height="5" fill="#7703fa"/><rect x="371" y="230" width="7" height="5" fill="#7e04ff"/><rect x="378" y="230" width="6" height="5" fill="#8706fb"/><rect x="384" y="230" width="6" height="5" fill="#9209e0"/><rect x="390" y="230" width="6" height="5" fill="#9d0eb0"/><rect x="396" y="230" width="7" height="5" fill="#ab174d"/><rect x="403" y="230" width="6" height="5" fill="#b21d17"/><rect x="409" y="230" width="6" height="5" fill="#b82400"/><rect x="415" y="230" width="6" height="5" fill="#b82500"/><rect x="421" y="230" width="7" height="5" fill="#bb2800"/><rect x="428" y="230" width="6" height="5" fill="#c12f00"/><rect x="434" y="230" width="6" height="5" fill="#c63900"/><rect x="440" y="230" width="6" height="5" fill="#c93d00"/><rect x="446" y="230" width="13" height="5" fill="#cc4300"/><rect x="459" y="230" width="6" height="5" fill="#c93d00"/><rect x="465" y="230" width="19" height="5" fill="#c43400"/><rect x="484" y="230" width="6" height="5" fill="#c93d00"/><rect x="490" y="230" width="6" height="5" fill="#d14e00"/><rect x="496" y="230" width="7" height="5" fill="#d75b00"/><rect x="503" y="230" width="21" height="5" fill="#d96100"/>
<rect x="75" y="235" width="3" height="6" fill="#d45400"/><rect x="78" y="235" width="6" height="6" fill="#cf4800"/><rect x="84" y="235" width="6" height="6" fill="#c63900"/><rect x="90" y="235" width="6" height="6" fill="#c43400"/><rect x="96" y="235" width="13" height="6" fill="#c12f00"/><rect x="109" y="235" width="6" height="6" fill="#be2b00"/><rect x="115" y="235" width="6" height="6" fill="#c13000"/><rect x="121" y="235" width="7" height="6" fill="#c23200"/><rect x="128" y="235" width="6" height="6" fill="#bf2d00"/><rect x="134" y="235" width="6" height="6" fill="#b92600"/><rect x="140" y="235" width="6" height="6" fill="#ad1940"/><rect x="146" y="235" width="7" height="6" fill="#a3118c"/><rect x="153" y="235" width="6" height="6" fill="#9f0fa2"/><rect x="159" y="235" width="6" height="6" fill="#a11097"/><rect x="165" y="235" width="6" height="6" fill="#b21d18"/><rect x="171" y="235" width="13" height="6" fill="#bb2700"/><rect x="184" y="235" width="6" height="6" fill="#b82400"/><rect x="190" y="235" width="6" height="6" fill="#bb2700"/><rect x="196" y="235" width="7" height="6" fill="#b82400"/><rect x="203" y="235" width="6" height="6" fill="#b52000"/><rect x="209" y="235" width="6" height="6" fill="#a81568"/><rect x="215" y="235" width="6" height="6" fill="#9309df"/><rect x="221" y="235" width="7" height="6" fill="#8605fc"/><rect x="228" y="235" width="6" height="6" fill="#7803fb"/><rect x="234" y="235" width="6" height="6" fill="#7102f0"/><rect x="240" y="235" width="6" height="6" fill="#6601d8"/><rect x="246" y="235" width="7" height="6" fill="#5d01bd"/><rect x="253" y="235" width="6" height="6" fill="#4f0091"/><rect x="259" y="235" width="6" height="6" fill="#4c0088"/><rect x="265" y="235" width="6" height="6" fill="#4d0089"/><rect x="271" y="235" width="7" height="6" fill="#500094"/><rect x="278" y="235" width="12" height="6" fill="#54009f"/><rect x="290" y="235" width="6" height="6" fill="#4d0089"/><rect x="296" y="235" width="7" height="6" fill="#450071"/><rect x="303" y="235" width="12" height="6" fill="#37004b"/><rect x="315" y="235" width="6" height="6" fill="#3e005d"/><rect x="321" y="235" width="7" height="6" fill="#450071"/><rect x="328" y="235" width="6" height="6" fill="#410064"/><rect x="334" y="235" width="6" height="6" fill="#3c0058"/><rect x="340" y="235" width="6" height="6" fill="#410064"/><rect x="346" y="235" width="7" height="6" fill="#5a00b4"/><rect x="353" y="235" width="6" height="6" fill="#6801dd"/><rect x="359" y="235" width="6" height="6" fill="#7002ee"/><rect x="365" y="235" width="6" height="6" fill="#7703fa"/><rect x="371" y="235" width="7" height="6" fill="#7d04ff"/><rect x="378" y="235" width="6" height="6" fill="#8705fb"/><rect x="384" y="235" width="6" height="6" fill="#9209e1"/><rect x="390" y="235" width="6" height="6" fill="#9d0eae"/><rect x="396" y="235" width="7" height="6" fill="#ad193c"/><rect x="403" y="235" width="6" height="6" fill="#b42000"/><rect x="409" y="235" width="12" height="6" fill="#b82400"/><rect x="421" y="235" width="7" height="6" fill="#bd2a00"/><rect x="428" y="235" width="6" height="6" fill="#c13000"/><rect x="434" y="235" width="6" height="6" fill="#c63900"/><rect x="440" y="235" width="6" height="6" fill="#cc4300"/><rect x="446" y="235" width="13" height="6" fill="#d45400"/><rect x="459" y="235" width="6" height="6" fill="#cf4800"/><rect x="465" y="235" width="6" height="6" fill="#c93d00"/><rect x="471" y="235" width="13" height="6" fill="#c63900"/><rect x="484" y="235" width="6" height="6" fill="#cc4300"/><rect x="490" y="235" width="6" height="6" fill="#d75b00"/><rect x="496" y="235" width="7" height="6" fill="#dc6800"/><rect x="503" y="235" width="18" height="6" fill="#de7000"/><rect x="521" y="235" width="3" height="6" fill="#dc6800"/>
<rect x="75" y="241" width="3" height="5" fill="#dc6800"/><rect x="78" y="241" width="6" height="5" fill="#d45400"/><rect x="84" y="241" width="6" height="5" fill="#c93d00"/><rect x="90" y="241" width="6" height="5" fill="#c43400"/><rect x="96" y="241" width="19" height="5" fill="#c12f00"/><rect x="115" y="241" width="6" height="5" fill="#c13000"/><rect x="121" y="241" width="7" height="5" fill="#c23200"/><rect x="128" y="241" width="6" height="5" fill="#bc2900"/><rect x="134" y="241" width="6" height="5" fill="#b01c26"/><rect x="140" y="241" width="6" height="5" fill="#a11097"/><rect x="146" y="241" width="13" height="5" fill="#9c0db6"/><rect x="159" y="241" width="6" height="5" fill="#a11097"/><rect x="165" y="241" width="6" height="5" fill="#b52000"/><rect x="171" y="241" width="7" height="5" fill="#b92600"/><rect x="178" y="241" width="6" height="5" fill="#b21d18"/><rect x="184" y="241" width="6" height="5" fill="#ab174e"/><rect x="190" y="241" width="6" height="5" fill="#a81568"/><rect x="196" y="241" width="7" height="5" fill="#a11097"/><rect x="203" y="241" width="6" height="5" fill="#9c0db6"/><rect x="209" y="241" width="6" height="5" fill="#960bd0"/><rect x="215" y="241" width="6" height="5" fill="#8d07f0"/><rect x="221" y="241" width="7" height="5" fill="#8205fe"/><rect x="228" y="241" width="6" height="5" fill="#7302f3"/><rect x="234" y="241" width="6" height="5" fill="#6b01e4"/><rect x="240" y="241" width="6" height="5" fill="#6601d6"/><rect x="246" y="241" width="7" height="5" fill="#5c01bb"/><rect x="253" y="241" width="6" height="5" fill="#48007b"/><rect x="259" y="241" width="6" height="5" fill="#4c0086"/><rect x="265" y="241" width="25" height="5" fill="#450071"/><rect x="290" y="241" width="6" height="5" fill="#410064"/><rect x="296" y="241" width="7" height="5" fill="#3c0058"/><rect x="303" y="241" width="12" height="5" fill="#37004b"/><rect x="315" y="241" width="6" height="5" fill="#32003d"/><rect x="321" y="241" width="7" height="5" fill="#2c0030"/><rect x="328" y="241" width="6" height="5" fill="#32003d"/><rect x="334" y="241" width="6" height="5" fill="#3c0058"/><rect x="340" y="241" width="6" height="5" fill="#410064"/><rect x="346" y="241" width="7" height="5" fill="#5a00b4"/><rect x="353" y="241" width="6" height="5" fill="#6801dd"/><rect x="359" y="241" width="6" height="5" fill="#6b01e4"/><rect x="365" y="241" width="6" height="5" fill="#7202f3"/><rect x="371" y="241" width="7" height="5" fill="#7903fc"/><rect x="378" y="241" width="6" height="5" fill="#8104ff"/><rect x="384" y="241" width="6" height="5" fill="#8b07f4"/><rect x="390" y="241" width="6" height="5" fill="#960ad3"/><rect x="396" y="241" width="7" height="5" fill="#a5137d"/><rect x="403" y="241" width="6" height="5" fill="#ad193e"/><rect x="409" y="241" width="6" height="5" fill="#b62200"/><rect x="415" y="241" width="6" height="5" fill="#ba2700"/><rect x="421" y="241" width="7" height="5" fill="#be2c00"/><rect x="428" y="241" width="6" height="5" fill="#c13100"/><rect x="434" y="241" width="6" height="5" fill="#c63900"/><rect x="440" y="241" width="6" height="5" fill="#cf4800"/><rect x="446" y="241" width="7" height="5" fill="#de7000"/><rect x="453" y="241" width="6" height="5" fill="#e89100"/><rect x="459" y="241" width="6" height="5" fill="#eda400"/><rect x="465" y="241" width="6" height="5" fill="#e89100"/><rect x="471" y="241" width="7" height="5" fill="#e38000"/><rect x="478" y="241" width="12" height="5" fill="#e17800"/><rect x="490" y="241" width="13" height="5" fill="#e68800"/><rect x="503" y="241" width="12" height="5" fill="#e38000"/><rect x="515" y="241" width="6" height="5" fill="#e68800"/><rect x="521" y="241" width="3" height="5" fill="#e38000"/>
<rect x="75" y="246" width="3" height="5" fill="#e38000"/><rect x="78" y="246" width="6" height="5" fill="#de7000"/><rect x="84" y="246" width="6" height="5" fill="#d45400"/><rect x="90" y="246" width="6" height="5" fill="#cf4800"/><rect x="96" y="246" width="7" height="5" fill="#cc4300"/><rect x="103" y="246" width="6" height="5" fill="#c93d00"/><rect x="109" y="246" width="6" height="5" fill="#c63900"/><rect x="115" y="246" width="6" height="5" fill="#c63800"/><rect x="121" y="246" width="7" height="5" fill="#c33400"/><rect x="128" y="246" width="6" height="5" fill="#be2b00"/><rect x="134" y="246" width="6" height="5" fill="#b11d1a"/><rect x="140" y="246" width="6" height="5" fill="#a0109c"/><rect x="146" y="246" width="19" height="5" fill="#9a0cbf"/><rect x="165" y="246" width="6" height="5" fill="#b52000"/><rect x="171" y="246" width="7" height="5" fill="#b82400"/><rect x="178" y="246" width="6" height="5" fill="#ab174e"/><rect x="184" y="246" width="6" height="5" fill="#a51280"/><rect x="190" y="246" width="6" height="5" fill="#9a0cbf"/><rect x="196" y="246" width="7" height="5" fill="#8f08eb"/><rect x="203" y="246" width="6" height="5" fill="#8706fb"/><rect x="209" y="246" width="6" height="5" fill="#8505fd"/><rect x="215" y="246" width="6" height="5" fill="#8205fe"/><rect x="221" y="246" width="7" height="5" fill="#7c03fe"/><rect x="228" y="246" width="6" height="5" fill="#7002ef"/><rect x="234" y="246" width="6" height="5" fill="#6b01e4"/><rect x="240" y="246" width="6" height="5" fill="#6801dd"/><rect x="246" y="246" width="7" height="5" fill="#5f01c4"/><rect x="253" y="246" width="6" height="5" fill="#4c0087"/><rect x="259" y="246" width="6" height="5" fill="#44006e"/><rect x="265" y="246" width="6" height="5" fill="#3c0058"/><rect x="271" y="246" width="44" height="5" fill="#37004b"/><rect x="315" y="246" width="6" height="5" fill="#3a0050"/><rect x="321" y="246" width="7" height="5" fill="#3c0058"/><rect x="328" y="246" width="12" height="5" fill="#32003d"/><rect x="340" y="246" width="6" height="5" fill="#410064"/><rect x="346" y="246" width="7" height="5" fill="#49007d"/><rect x="353" y="246" width="6" height="5" fill="#5700aa"/><rect x="359" y="246" width="6" height="5" fill="#6301cf"/><rect x="365" y="246" width="6" height="5" fill="#6e02ea"/><rect x="371" y="246" width="7" height="5" fill="#7502f7"/><rect x="378" y="246" width="6" height="5" fill="#7c03fe"/><rect x="384" y="246" width="6" height="5" fill="#8405fd"/><rect x="390" y="246" width="6" height="5" fill="#8d07f0"/><rect x="396" y="246" width="7" height="5" fill="#990cc7"/><rect x="403" y="246" width="6" height="5" fill="#a3118a"/><rect x="409" y="246" width="6" height="5" fill="#af1b2b"/><rect x="415" y="246" width="6" height="5" fill="#b52000"/><rect x="421" y="246" width="7" height="5" fill="#b92500"/><rect x="428" y="246" width="6" height="5" fill="#bc2800"/><rect x="434" y="246" width="6" height="5" fill="#c12f00"/><rect x="440" y="246" width="6" height="5" fill="#c93d00"/><rect x="446" y="246" width="7" height="5" fill="#dc6800"/><rect x="453" y="246" width="6" height="5" fill="#e68800"/><rect x="459" y="246" width="6" height="5" fill="#eda400"/><rect x="465" y="246" width="6" height="5" fill="#efae00"/><rect x="471" y="246" width="7" height="5" fill="#eda400"/><rect x="478" y="246" width="6" height="5" fill="#ea9a00"/><rect x="484" y="246" width="6" height="5" fill="#eda400"/><rect x="490" y="246" width="6" height="5" fill="#f2b800"/><rect x="496" y="246" width="7" height="5" fill="#efae00"/><rect x="503" y="246" width="6" height="5" fill="#ea9a00"/><rect x="509" y="246" width="6" height="5" fill="#e68800"/><rect x="515" y="246" width="6" height="5" fill="#e89100"/><rect x="521" y="246" width="3" height="5" fill="#eda400"/>
<rect x="75" y="251" width="3" height="5" fill="#eda400"/><rect x="78" y="251" width="6" height="5" fill="#e89100"/><rect x="84" y="251" width="6" height="5" fill="#e68800"/><rect x="90" y="251" width="6" height="5" fill="#dc6800"/><rect x="96" y="251" width="7" height="5" fill="#d96100"/><rect x="103" y="251" width="6" height="5" fill="#d75b00"/><rect x="109" y="251" width="6" height="5" fill="#d45400"/><rect x="115" y="251" width="6" height="5" fill="#cf4900"/><rect x="121" y="251" width="7" height="5" fill="#c73a00"/><rect x="128" y="251" width="6" height="5" fill="#bf2d00"/><rect x="134" y="251" width="6" height="5" fill="#b62100"/><rect x="140" y="251" width="6" height="5" fill="#a81564"/><rect x="146" y="251" width="7" height="5" fill="#a11097"/><rect x="153" y="251" width="12" height="5" fill="#9e0eac"/><rect x="165" y="251" width="6" height="5" fill="#a81568"/><rect x="171" y="251" width="7" height="5" fill="#ae1a33"/><rect x="178" y="251" width="6" height="5" fill="#a81568"/><rect x="184" y="251" width="6" height="5" fill="#a11097"/><rect x="190" y="251" width="6" height="5" fill="#960bd0"/><rect x="196" y="251" width="7" height="5" fill="#8b07f4"/><rect x="203" y="251" width="6" height="5" fill="#8004ff"/><rect x="209" y="251" width="12" height="5" fill="#7e04ff"/><rect x="221" y="251" width="7" height="5" fill="#7d03fe"/><rect x="228" y="251" width="6" height="5" fill="#7803fb"/><rect x="234" y="251" width="6" height="5" fill="#7b03fd"/><rect x="240" y="251" width="6" height="5" fill="#7803fb"/><rect x="246" y="251" width="7" height="5" fill="#6c02e7"/><rect x="253" y="251" width="6" height="5" fill="#53009d"/><rect x="259" y="251" width="6" height="5" fill="#43006c"/><rect x="265" y="251" width="6" height="5" fill="#3b0054"/><rect x="271" y="251" width="44" height="5" fill="#37004b"/><rect x="315" y="251" width="6" height="5" fill="#3b0055"/><rect x="321" y="251" width="7" height="5" fill="#37004b"/><rect x="328" y="251" width="18" height="5" fill="#410064"/><rect x="346" y="251" width="7" height="5" fill="#450071"/><rect x="353" y="251" width="6" height="5" fill="#54009f"/><rect x="359" y="251" width="6" height="5" fill="#6001c6"/><rect x="365" y="251" width="6" height="5" fill="#6b01e4"/><rect x="371" y="251" width="7" height="5" fill="#7502f7"/><rect x="378" y="251" width="6" height="5" fill="#7c03fe"/><rect x="384" y="251" width="6" height="5" fill="#7e04ff"/><rect x="390" y="251" width="6" height="5" fill="#8705fb"/><rect x="396" y="251" width="7" height="5" fill="#9309df"/><rect x="403" y="251" width="6" height="5" fill="#9c0db6"/><rect x="409" y="251" width="6" height="5" fill="#a81568"/><rect x="415" y="251" width="6" height="5" fill="#ae1a33"/><rect x="421" y="251" width="7" height="5" fill="#b31e0f"/><rect x="428" y="251" width="6" height="5" fill="#b62100"/><rect x="434" y="251" width="6" height="5" fill="#bb2700"/><rect x="440" y="251" width="6" height="5" fill="#c43400"/><rect x="446" y="251" width="7" height="5" fill="#cf4800"/><rect x="453" y="251" width="6" height="5" fill="#dc6800"/><rect x="459" y="251" width="6" height="5" fill="#e17800"/><rect x="465" y="251" width="19" height="5" fill="#e38000"/><rect x="484" y="251" width="12" height="5" fill="#e89100"/><rect x="496" y="251" width="7" height="5" fill="#e68800"/><rect x="503" y="251" width="12" height="5" fill="#e17800"/><rect x="515" y="251" width="6" height="5" fill="#efae00"/><rect x="521" y="251" width="3" height="5" fill="#f2b800"/>
<rect x="75" y="256" width="3" height="5" fill="#f4c300"/><rect x="78" y="256" width="6" height="5" fill="#efae00"/><rect x="84" y="256" width="12" height="5" fill="#eda400"/><rect x="96" y="256" width="7" height="5" fill="#ea9a00"/><rect x="103" y="256" width="6" height="5" fill="#e68800"/><rect x="109" y="256" width="6" height="5" fill="#e38000"/><rect x="115" y="256" width="6" height="5" fill="#de7000"/><rect x="121" y="256" width="7" height="5" fill="#d45400"/><rect x="128" y="256" width="6" height="5" fill="#c63900"/><rect x="134" y="256" width="6" height="5" fill="#bb2700"/><rect x="140" y="256" width="6" height="5" fill="#b52000"/><rect x="146" y="256" width="13" height="5" fill="#b21d18"/><rect x="159" y="256" width="6" height="5" fill="#ae1a33"/><rect x="165" y="256" width="6" height="5" fill="#a81568"/><rect x="171" y="256" width="7" height="5" fill="#a51280"/><rect x="178" y="256" width="6" height="5" fill="#9e0eac"/><rect x="184" y="256" width="12" height="5" fill="#9a0cbf"/><rect x="196" y="256" width="7" height="5" fill="#8f08eb"/><rect x="203" y="256" width="6" height="5" fill="#8205fe"/><rect x="209" y="256" width="6" height="5" fill="#8004ff"/><rect x="215" y="256" width="6" height="5" fill="#8205fe"/><rect x="221" y="256" width="7" height="5" fill="#8706fb"/><rect x="228" y="256" width="6" height="5" fill="#8f08eb"/><rect x="234" y="256" width="6" height="5" fill="#9309df"/><rect x="240" y="256" width="6" height="5" fill="#8b07f4"/><rect x="246" y="256" width="7" height="5" fill="#7d04ff"/><rect x="253" y="256" width="6" height="5" fill="#5d01be"/><rect x="259" y="256" width="6" height="5" fill="#450071"/><rect x="265" y="256" width="6" height="5" fill="#3c0058"/><rect x="271" y="256" width="13" height="5" fill="#38004b"/><rect x="284" y="256" width="12" height="5" fill="#37004b"/><rect x="296" y="256" width="13" height="5" fill="#38004b"/><rect x="309" y="256" width="6" height="5" fill="#3c0058"/><rect x="315" y="256" width="6" height="5" fill="#3e005e"/><rect x="321" y="256" width="7" height="5" fill="#3c0058"/><rect x="328" y="256" width="18" height="5" fill="#410064"/><rect x="346" y="256" width="7" height="5" fill="#450071"/><rect x="353" y="256" width="6" height="5" fill="#54009f"/><rect x="359" y="256" width="6" height="5" fill="#6001c6"/><rect x="365" y="256" width="6" height="5" fill="#6b01e4"/><rect x="371" y="256" width="7" height="5" fill="#7302f3"/><rect x="378" y="256" width="6" height="5" fill="#7a03fc"/><rect x="384" y="256" width="6" height="5" fill="#7c03fe"/><rect x="390" y="256" width="6" height="5" fill="#8405fd"/><rect x="396" y="256" width="7" height="5" fill="#8f08eb"/><rect x="403" y="256" width="6" height="5" fill="#960bd0"/><rect x="409" y="256" width="6" height="5" fill="#a11097"/><rect x="415" y="256" width="6" height="5" fill="#a81568"/><rect x="421" y="256" width="7" height="5" fill="#ae1a38"/><rect x="428" y="256" width="6" height="5" fill="#b21e10"/><rect x="434" y="256" width="6" height="5" fill="#b82400"/><rect x="440" y="256" width="6" height="5" fill="#bb2700"/><rect x="446" y="256" width="7" height="5" fill="#c12f00"/><rect x="453" y="256" width="6" height="5" fill="#c63900"/><rect x="459" y="256" width="6" height="5" fill="#c93d00"/><rect x="465" y="256" width="13" height="5" fill="#cc4300"/><rect x="478" y="256" width="25" height="5" fill="#c93d00"/><rect x="503" y="256" width="6" height="5" fill="#cc4300"/><rect x="509" y="256" width="6" height="5" fill="#d96100"/><rect x="515" y="256" width="6" height="5" fill="#e38000"/><rect x="521" y="256" width="3" height="5" fill="#e68800"/>
<rect x="75" y="261" width="3" height="5" fill="#ea9a00"/><rect x="78" y="261" width="6" height="5" fill="#e68800"/><rect x="84" y="261" width="6" height="5" fill="#eda400"/><rect x="90" y="261" width="6" height="5" fill="#f2b800"/><rect x="96" y="261" width="13" height="5" fill="#eda400"/><rect x="109" y="261" width="6" height="5" fill="#ea9a00"/><rect x="115" y="261" width="6" height="5" fill="#eda400"/><rect x="121" y="261" width="7" height="5" fill="#e38000"/><rect x="128" y="261" width="6" height="5" fill="#d45400"/><rect x="134" y="261" width="6" height="5" fill="#cc4300"/><rect x="140" y="261" width="6" height="5" fill="#c43400"/><rect x="146" y="261" width="13" height="5" fill="#be2b00"/><rect x="159" y="261" width="6" height="5" fill="#bb2700"/><rect x="165" y="261" width="6" height="5" fill="#ae1a33"/><rect x="171" y="261" width="7" height="5" fill="#ab174e"/><rect x="178" y="261" width="6" height="5" fill="#9a0cbf"/><rect x="184" y="261" width="6" height="5" fill="#960bd0"/><rect x="190" y="261" width="6" height="5" fill="#9a0cbf"/><rect x="196" y="261" width="7" height="5" fill="#960bd0"/><rect x="203" y="261" width="6" height="5" fill="#9309df"/><rect x="209" y="261" width="6" height="5" fill="#8f08eb"/><rect x="215" y="261" width="6" height="5" fill="#9309df"/><rect x="221" y="261" width="7" height="5" fill="#9a0cbf"/><rect x="228" y="261" width="6" height="5" fill="#9e0eac"/><rect x="234" y="261" width="6" height="5" fill="#9a0cbf"/><rect x="240" y="261" width="6" height="5" fill="#8b07f4"/><rect x="246" y="261" width="7" height="5" fill="#7a03fc"/><rect x="253" y="261" width="6" height="5" fill="#5a00b4"/><rect x="259" y="261" width="12" height="5" fill="#450071"/><rect x="271" y="261" width="7" height="5" fill="#3c0058"/><rect x="278" y="261" width="6" height="5" fill="#37004b"/><rect x="284" y="261" width="6" height="5" fill="#2c0030"/><rect x="290" y="261" width="6" height="5" fill="#37004b"/><rect x="296" y="261" width="19" height="5" fill="#3c0058"/><rect x="315" y="261" width="19" height="5" fill="#410064"/><rect x="334" y="261" width="12" height="5" fill="#3c0058"/><rect x="346" y="261" width="7" height="5" fill="#450071"/><rect x="353" y="261" width="6" height="5" fill="#500094"/><rect x="359" y="261" width="6" height="5" fill="#5d01bd"/><rect x="365" y="261" width="6" height="5" fill="#6801dd"/><rect x="371" y="261" width="7" height="5" fill="#7302f3"/><rect x="378" y="261" width="12" height="5" fill="#7a03fc"/><rect x="390" y="261" width="6" height="5" fill="#8205fe"/><rect x="396" y="261" width="7" height="5" fill="#8b07f4"/><rect x="403" y="261" width="6" height="5" fill="#9109e5"/><rect x="409" y="261" width="6" height="5" fill="#9e0eac"/><rect x="415" y="261" width="6" height="5" fill="#a51280"/><rect x="421" y="261" width="7" height="5" fill="#ab1752"/><rect x="428" y="261" width="6" height="5" fill="#af1b2b"/><rect x="434" y="261" width="6" height="5" fill="#b31f0a"/><rect x="440" y="261" width="6" height="5" fill="#b82400"/><rect x="446" y="261" width="13" height="5" fill="#bb2700"/><rect x="459" y="261" width="6" height="5" fill="#b92600"/><rect x="465" y="261" width="31" height="5" fill="#b82400"/><rect x="496" y="261" width="7" height="5" fill="#bb2700"/><rect x="503" y="261" width="6" height="5" fill="#be2b00"/><rect x="509" y="261" width="6" height="5" fill="#c63900"/><rect x="515" y="261" width="6" height="5" fill="#cf4800"/><rect x="521" y="261" width="3" height="5" fill="#d45400"/>
<rect x="75" y="266" width="3" height="6" fill="#c43400"/><rect x="78" y="266" width="6" height="6" fill="#c63900"/><rect x="84" y="266" width="6" height="6" fill="#c93d00"/><rect x="90" y="266" width="6" height="6" fill="#cc4300"/><rect x="96" y="266" width="7" height="6" fill="#d75b00"/><rect x="103" y="266" width="18" height="6" fill="#dc6800"/><rect x="121" y="266" width="7" height="6" fill="#f4c300"/><rect x="128" y="266" width="6" height="6" fill="#f2b800"/><rect x="134" y="266" width="6" height="6" fill="#e38000"/><rect x="140" y="266" width="6" height="6" fill="#d96100"/><rect x="146" y="266" width="7" height="6" fill="#d45400"/><rect x="153" y="266" width="6" height="6" fill="#d14e00"/><rect x="159" y="266" width="6" height="6" fill="#cf4800"/><rect x="165" y="266" width="6" height="6" fill="#bb2700"/><rect x="171" y="266" width="7" height="6" fill="#b52000"/><rect x="178" y="266" width="6" height="6" fill="#ab174e"/><rect x="184" y="266" width="19" height="6" fill="#a51280"/><rect x="203" y="266" width="6" height="6" fill="#a11097"/><rect x="209" y="266" width="6" height="6" fill="#9e0eac"/><rect x="215" y="266" width="6" height="6" fill="#a11097"/><rect x="221" y="266" width="13" height="6" fill="#a51280"/><rect x="234" y="266" width="6" height="6" fill="#9a0cbf"/><rect x="240" y="266" width="6" height="6" fill="#8706fb"/><rect x="246" y="266" width="7" height="6" fill="#7002ef"/><rect x="253" y="266" width="6" height="6" fill="#54009f"/><rect x="259" y="266" width="19" height="6" fill="#3c0058"/><rect x="278" y="266" width="6" height="6" fill="#37004b"/><rect x="284" y="266" width="6" height="6" fill="#1d0015"/><rect x="290" y="266" width="6" height="6" fill="#37004b"/><rect x="296" y="266" width="7" height="6" fill="#3c0058"/><rect x="303" y="266" width="6" height="6" fill="#2c0030"/><rect x="309" y="266" width="6" height="6" fill="#3c0058"/><rect x="315" y="266" width="19" height="6" fill="#410064"/><rect x="334" y="266" width="12" height="6" fill="#3c0058"/><rect x="346" y="266" width="7" height="6" fill="#450071"/><rect x="353" y="266" width="6" height="6" fill="#500094"/><rect x="359" y="266" width="6" height="6" fill="#5d01bd"/><rect x="365" y="266" width="6" height="6" fill="#6801dd"/><rect x="371" y="266" width="7" height="6" fill="#7002ef"/><rect x="378" y="266" width="6" height="6" fill="#7703fa"/><rect x="384" y="266" width="6" height="6" fill="#7a03fc"/><rect x="390" y="266" width="6" height="6" fill="#8004ff"/><rect x="396" y="266" width="7" height="6" fill="#8906f8"/><rect x="403" y="266" width="6" height="6" fill="#8f08eb"/><rect x="409" y="266" width="6" height="6" fill="#9a0cbf"/><rect x="415" y="266" width="6" height="6" fill="#a11097"/><rect x="421" y="266" width="7" height="6" fill="#a9165f"/><rect x="428" y="266" width="6" height="6" fill="#ac1846"/><rect x="434" y="266" width="6" height="6" fill="#b21d18"/><rect x="440" y="266" width="6" height="6" fill="#b52000"/><rect x="446" y="266" width="7" height="6" fill="#b21d18"/><rect x="453" y="266" width="6" height="6" fill="#ae1a33"/><rect x="459" y="266" width="12" height="6" fill="#ab174e"/><rect x="471" y="266" width="7" height="6" fill="#ad1941"/><rect x="478" y="266" width="18" height="6" fill="#ae1a33"/><rect x="496" y="266" width="7" height="6" fill="#b21d18"/><rect x="503" y="266" width="6" height="6" fill="#b82400"/><rect x="509" y="266" width="6" height="6" fill="#bb2700"/><rect x="515" y="266" width="6" height="6" fill="#be2b00"/><rect x="521" y="266" width="3" height="6" fill="#c43400"/>
<rect x="75" y="272" width="3" height="5" fill="#b52000"/><rect x="78" y="272" width="6" height="5" fill="#b82400"/><rect x="84" y="272" width="19" height="5" fill="#bb2700"/><rect x="103" y="272" width="6" height="5" fill="#be2b00"/><rect x="109" y="272" width="6" height="5" fill="#cf4800"/><rect x="115" y="272" width="6" height="5" fill="#d14e00"/><rect x="121" y="272" width="13" height="5" fill="#de7000"/><rect x="134" y="272" width="12" height="5" fill="#d96100"/><rect x="146" y="272" width="7" height="5" fill="#dc6800"/><rect x="153" y="272" width="6" height="5" fill="#de7000"/><rect x="159" y="272" width="6" height="5" fill="#dc6800"/><rect x="165" y="272" width="6" height="5" fill="#cc4300"/><rect x="171" y="272" width="7" height="5" fill="#c12f00"/><rect x="178" y="272" width="6" height="5" fill="#bb2700"/><rect x="184" y="272" width="6" height="5" fill="#b52000"/><rect x="190" y="272" width="6" height="5" fill="#be2b00"/><rect x="196" y="272" width="7" height="5" fill="#c43400"/><rect x="203" y="272" width="6" height="5" fill="#b21d18"/><rect x="209" y="272" width="6" height="5" fill="#a81568"/><rect x="215" y="272" width="6" height="5" fill="#ab174e"/><rect x="221" y="272" width="7" height="5" fill="#bb2700"/><rect x="228" y="272" width="6" height="5" fill="#ae1a33"/><rect x="234" y="272" width="6" height="5" fill="#9e0eac"/><rect x="240" y="272" width="6" height="5" fill="#8706fb"/><rect x="246" y="272" width="7" height="5" fill="#7002ef"/><rect x="253" y="272" width="6" height="5" fill="#54009f"/><rect x="259" y="272" width="6" height="5" fill="#3c0058"/><rect x="265" y="272" width="6" height="5" fill="#32003d"/><rect x="271" y="272" width="32" height="5" fill="#3c0058"/><rect x="303" y="272" width="6" height="5" fill="#37004b"/><rect x="309" y="272" width="6" height="5" fill="#3c0058"/><rect x="315" y="272" width="19" height="5" fill="#410064"/><rect x="334" y="272" width="12" height="5" fill="#3c0058"/><rect x="346" y="272" width="7" height="5" fill="#410064"/><rect x="353" y="272" width="6" height="5" fill="#4d0089"/><rect x="359" y="272" width="6" height="5" fill="#5a00b4"/><rect x="365" y="272" width="6" height="5" fill="#6601d6"/><rect x="371" y="272" width="7" height="5" fill="#7002ef"/><rect x="378" y="272" width="6" height="5" fill="#7703fa"/><rect x="384" y="272" width="6" height="5" fill="#7a03fc"/><rect x="390" y="272" width="6" height="5" fill="#8004ff"/><rect x="396" y="272" width="7" height="5" fill="#8906f8"/><rect x="403" y="272" width="6" height="5" fill="#8f08eb"/><rect x="409" y="272" width="6" height="5" fill="#960bd0"/><rect x="415" y="272" width="6" height="5" fill="#9f0fa2"/><rect x="421" y="272" width="7" height="5" fill="#a61378"/><rect x="428" y="272" width="6" height="5" fill="#ac1846"/><rect x="434" y="272" width="6" height="5" fill="#b62200"/><rect x="440" y="272" width="6" height="5" fill="#b52000"/><rect x="446" y="272" width="7" height="5" fill="#aa165b"/><rect x="453" y="272" width="6" height="5" fill="#a51280"/><rect x="459" y="272" width="12" height="5" fill="#a11097"/><rect x="471" y="272" width="25" height="5" fill="#a3118c"/><rect x="496" y="272" width="7" height="5" fill="#a61474"/><rect x="503" y="272" width="6" height="5" fill="#ad1941"/><rect x="509" y="272" width="12" height="5" fill="#b52000"/><rect x="521" y="272" width="3" height="5" fill="#b21d18"/>
<rect x="75" y="277" width="9" height="5" fill="#ab174e"/><rect x="84" y="277" width="6" height="5" fill="#a81568"/><rect x="90" y="277" width="13" height="5" fill="#a51280"/><rect x="103" y="277" width="6" height="5" fill="#ab174e"/><rect x="109" y="277" width="6" height="5" fill="#b21d18"/><rect x="115" y="277" width="6" height="5" fill="#b52000"/><rect x="121" y="277" width="7" height="5" fill="#b82400"/><rect x="128" y="277" width="6" height="5" fill="#bb2700"/><rect x="134" y="277" width="6" height="5" fill="#be2b00"/><rect x="140" y="277" width="6" height="5" fill="#c63900"/><rect x="146" y="277" width="7" height="5" fill="#d45400"/><rect x="153" y="277" width="12" height="5" fill="#dc6800"/><rect x="165" y="277" width="6" height="5" fill="#cf4800"/><rect x="171" y="277" width="7" height="5" fill="#c63900"/><rect x="178" y="277" width="6" height="5" fill="#c12f00"/><rect x="184" y="277" width="6" height="5" fill="#be2b00"/><rect x="190" y="277" width="6" height="5" fill="#c12f00"/><rect x="196" y="277" width="7" height="5" fill="#be2b00"/><rect x="203" y="277" width="6" height="5" fill="#b21d18"/><rect x="209" y="277" width="6" height="5" fill="#a11097"/><rect x="215" y="277" width="6" height="5" fill="#9a0cbf"/><rect x="221" y="277" width="7" height="5" fill="#9e0eac"/><rect x="228" y="277" width="6" height="5" fill="#9a0cbf"/><rect x="234" y="277" width="6" height="5" fill="#8b07f4"/><rect x="240" y="277" width="6" height="5" fill="#7a03fc"/><rect x="246" y="277" width="7" height="5" fill="#6b01e4"/><rect x="253" y="277" width="6" height="5" fill="#54009f"/><rect x="259" y="277" width="6" height="5" fill="#410064"/><rect x="265" y="277" width="6" height="5" fill="#37004b"/><rect x="271" y="277" width="13" height="5" fill="#410064"/><rect x="284" y="277" width="12" height="5" fill="#3c0058"/><rect x="296" y="277" width="13" height="5" fill="#37004b"/><rect x="309" y="277" width="6" height="5" fill="#3c0058"/><rect x="315" y="277" width="19" height="5" fill="#410064"/><rect x="334" y="277" width="12" height="5" fill="#3c0058"/><rect x="346" y="277" width="7" height="5" fill="#410064"/><rect x="353" y="277" width="6" height="5" fill="#4d0089"/><rect x="359" y="277" width="6" height="5" fill="#5a00b4"/><rect x="365" y="277" width="6" height="5" fill="#6601d6"/><rect x="371" y="277" width="7" height="5" fill="#6e02ea"/><rect x="378" y="277" width="6" height="5" fill="#7502f7"/><rect x="384" y="277" width="6" height="5" fill="#7a03fc"/><rect x="390" y="277" width="6" height="5" fill="#8004ff"/><rect x="396" y="277" width="7" height="5" fill="#8906f8"/><rect x="403" y="277" width="6" height="5" fill="#8f08eb"/><rect x="409" y="277" width="6" height="5" fill="#9309df"/><rect x="415" y="277" width="6" height="5" fill="#9c0db6"/><rect x="421" y="277" width="7" height="5" fill="#a41284"/><rect x="428" y="277" width="6" height="5" fill="#a91560"/><rect x="434" y="277" width="6" height="5" fill="#ad1941"/><rect x="440" y="277" width="6" height="5" fill="#aa165b"/><rect x="446" y="277" width="7" height="5" fill="#a3118c"/><rect x="453" y="277" width="6" height="5" fill="#9f0fa2"/><rect x="459" y="277" width="12" height="5" fill="#9c0db6"/><rect x="471" y="277" width="32" height="5" fill="#9e0eac"/><rect x="503" y="277" width="6" height="5" fill="#a11097"/><rect x="509" y="277" width="6" height="5" fill="#a51280"/><rect x="515" y="277" width="6" height="5" fill="#a61474"/><rect x="521" y="277" width="3" height="5" fill="#a3118c"/>
<rect x="75" y="282" width="3" height="5" fill="#970bce"/><rect x="78" y="282" width="6" height="5" fill="#930adc"/><rect x="84" y="282" width="6" height="5" fill="#9008e8"/><rect x="90" y="282" width="13" height="5" fill="#930adc"/><rect x="103" y="282" width="6" height="5" fill="#970bcd"/><rect x="109" y="282" width="6" height="5" fill="#9b0dbb"/><rect x="115" y="282" width="6" height="5" fill="#a21193"/><rect x="121" y="282" width="7" height="5" fill="#af1a31"/><rect x="128" y="282" width="6" height="5" fill="#b52000"/><rect x="134" y="282" width="6" height="5" fill="#b82400"/><rect x="140" y="282" width="6" height="5" fill="#bb2700"/><rect x="146" y="282" width="7" height="5" fill="#be2b00"/><rect x="153" y="282" width="6" height="5" fill="#c12f00"/><rect x="159" y="282" width="31" height="5" fill="#c43400"/><rect x="190" y="282" width="6" height="5" fill="#be2b00"/><rect x="196" y="282" width="7" height="5" fill="#b82400"/><rect x="203" y="282" width="6" height="5" fill="#ab174e"/><rect x="209" y="282" width="6" height="5" fill="#8f08eb"/><rect x="215" y="282" width="6" height="5" fill="#8706fb"/><rect x="221" y="282" width="7" height="5" fill="#8505fd"/><rect x="228" y="282" width="6" height="5" fill="#7e04ff"/><rect x="234" y="282" width="6" height="5" fill="#7502f7"/><rect x="240" y="282" width="6" height="5" fill="#6b01e4"/><rect x="246" y="282" width="7" height="5" fill="#6001c6"/><rect x="253" y="282" width="6" height="5" fill="#54009f"/><rect x="259" y="282" width="6" height="5" fill="#49007d"/><rect x="265" y="282" width="6" height="5" fill="#450071"/><rect x="271" y="282" width="7" height="5" fill="#410064"/><rect x="278" y="282" width="12" height="5" fill="#3c0058"/><rect x="290" y="282" width="19" height="5" fill="#37004b"/><rect x="309" y="282" width="6" height="5" fill="#3c0058"/><rect x="315" y="282" width="13" height="5" fill="#410064"/><rect x="328" y="282" width="18" height="5" fill="#3c0058"/><rect x="346" y="282" width="7" height="5" fill="#410064"/><rect x="353" y="282" width="6" height="5" fill="#4d0089"/><rect x="359" y="282" width="6" height="5" fill="#5a00b4"/><rect x="365" y="282" width="6" height="5" fill="#6601d6"/><rect x="371" y="282" width="7" height="5" fill="#6e02ea"/><rect x="378" y="282" width="6" height="5" fill="#7502f7"/><rect x="384" y="282" width="6" height="5" fill="#7a03fc"/><rect x="390" y="282" width="6" height="5" fill="#8004ff"/><rect x="396" y="282" width="7" height="5" fill="#8906f8"/><rect x="403" y="282" width="6" height="5" fill="#8f08eb"/><rect x="409" y="282" width="6" height="5" fill="#9109e5"/><rect x="415" y="282" width="6" height="5" fill="#9a0cbf"/><rect x="421" y="282" width="7" height="5" fill="#a21190"/><rect x="428" y="282" width="6" height="5" fill="#a7146d"/><rect x="434" y="282" width="6" height="5" fill="#aa165b"/><rect x="440" y="282" width="6" height="5" fill="#a61474"/><rect x="446" y="282" width="7" height="5" fill="#9f0fa2"/><rect x="453" y="282" width="6" height="5" fill="#9c0db6"/><rect x="459" y="282" width="62" height="5" fill="#9a0cbf"/><rect x="521" y="282" width="3" height="5" fill="#960bd0"/>
<rect x="75" y="287" width="3" height="5" fill="#950ad6"/><rect x="78" y="287" width="6" height="5" fill="#9209e1"/><rect x="84" y="287" width="12" height="5" fill="#8e08ec"/><rect x="96" y="287" width="7" height="5" fill="#9209e1"/><rect x="103" y="287" width="6" height="5" fill="#960bd2"/><rect x="109" y="287" width="6" height="5" fill="#9a0cc2"/><rect x="115" y="287" width="6" height="5" fill="#9c0eb3"/><rect x="121" y="287" width="7" height="5" fill="#9f0fa5"/><rect x="128" y="287" width="12" height="5" fill="#a11097"/><rect x="140" y="287" width="6" height="5" fill="#a51280"/><rect x="146" y="287" width="19" height="5" fill="#a81568"/><rect x="165" y="287" width="13" height="5" fill="#ab174e"/><rect x="178" y="287" width="6" height="5" fill="#ae1a33"/><rect x="184" y="287" width="6" height="5" fill="#bb2700"/><rect x="190" y="287" width="6" height="5" fill="#b52000"/><rect x="196" y="287" width="7" height="5" fill="#ae1a33"/><rect x="203" y="287" width="6" height="5" fill="#a51280"/><rect x="209" y="287" width="6" height="5" fill="#8205fe"/><rect x="215" y="287" width="6" height="5" fill="#7a03fc"/><rect x="221" y="287" width="7" height="5" fill="#7002ef"/><rect x="228" y="287" width="6" height="5" fill="#6b01e4"/><rect x="234" y="287" width="6" height="5" fill="#6601d6"/><rect x="240" y="287" width="6" height="5" fill="#5a00b4"/><rect x="246" y="287" width="7" height="5" fill="#54009f"/><rect x="253" y="287" width="6" height="5" fill="#500094"/><rect x="259" y="287" width="6" height="5" fill="#49007d"/><rect x="265" y="287" width="6" height="5" fill="#450071"/><rect x="271" y="287" width="7" height="5" fill="#410064"/><rect x="278" y="287" width="12" height="5" fill="#3c0058"/><rect x="290" y="287" width="6" height="5" fill="#37004b"/><rect x="296" y="287" width="7" height="5" fill="#32003d"/><rect x="303" y="287" width="12" height="5" fill="#37004b"/><rect x="315" y="287" width="19" height="5" fill="#3c0058"/><rect x="334" y="287" width="6" height="5" fill="#2c0030"/><rect x="340" y="287" width="6" height="5" fill="#37004b"/><rect x="346" y="287" width="7" height="5" fill="#410064"/><rect x="353" y="287" width="6" height="5" fill="#450071"/><rect x="359" y="287" width="6" height="5" fill="#54009f"/><rect x="365" y="287" width="6" height="5" fill="#6001c6"/><rect x="371" y="287" width="7" height="5" fill="#6801dd"/><rect x="378" y="287" width="6" height="5" fill="#7002ef"/><rect x="384" y="287" width="6" height="5" fill="#7703fa"/><rect x="390" y="287" width="6" height="5" fill="#7e04ff"/><rect x="396" y="287" width="7" height="5" fill="#8706fb"/><rect x="403" y="287" width="12" height="5" fill="#8f08eb"/><rect x="415" y="287" width="6" height="5" fill="#980cc8"/><rect x="421" y="287" width="7" height="5" fill="#a1109b"/><rect x="428" y="287" width="6" height="5" fill="#a61379"/><rect x="434" y="287" width="6" height="5" fill="#a81568"/><rect x="440" y="287" width="6" height="5" fill="#a51280"/><rect x="446" y="287" width="7" height="5" fill="#9f0fa2"/><rect x="453" y="287" width="6" height="5" fill="#9c0db6"/><rect x="459" y="287" width="25" height="5" fill="#9a0cbf"/><rect x="484" y="287" width="12" height="5" fill="#980cc8"/><rect x="496" y="287" width="7" height="5" fill="#960bd0"/><rect x="503" y="287" width="6" height="5" fill="#940ad8"/><rect x="509" y="287" width="12" height="5" fill="#9309df"/><rect x="521" y="287" width="3" height="5" fill="#9109e5"/>
<rect x="75" y="292" width="3" height="5" fill="#9309dd"/><rect x="78" y="292" width="6" height="5" fill="#9109e5"/><rect x="84" y="292" width="6" height="5" fill="#8d07f0"/><rect x="90" y="292" width="25" height="5" fill="#8b07f4"/><rect x="115" y="292" width="6" height="5" fill="#8b07f3"/><rect x="121" y="292" width="7" height="5" fill="#8906f7"/><rect x="128" y="292" width="6" height="5" fill="#8706fb"/><rect x="134" y="292" width="12" height="5" fill="#8906f8"/><rect x="146" y="292" width="19" height="5" fill="#8b07f4"/><rect x="165" y="292" width="13" height="5" fill="#8f08eb"/><rect x="178" y="292" width="6" height="5" fill="#9309df"/><rect x="184" y="292" width="6" height="5" fill="#960bd0"/><rect x="190" y="292" width="6" height="5" fill="#9a0cbf"/><rect x="196" y="292" width="7" height="5" fill="#9309df"/><rect x="203" y="292" width="6" height="5" fill="#8205fe"/><rect x="209" y="292" width="6" height="5" fill="#7502f7"/><rect x="215" y="292" width="6" height="5" fill="#6e02ea"/><rect x="221" y="292" width="7" height="5" fill="#6601d6"/><rect x="228" y="292" width="6" height="5" fill="#6001c6"/><rect x="234" y="292" width="6" height="5" fill="#5a00b4"/><rect x="240" y="292" width="6" height="5" fill="#54009f"/><rect x="246" y="292" width="7" height="5" fill="#500094"/><rect x="253" y="292" width="6" height="5" fill="#4d0089"/><rect x="259" y="292" width="6" height="5" fill="#450071"/><rect x="265" y="292" width="6" height="5" fill="#410064"/><rect x="271" y="292" width="13" height="5" fill="#3c0058"/><rect x="284" y="292" width="12" height="5" fill="#37004b"/><rect x="296" y="292" width="13" height="5" fill="#32003d"/><rect x="309" y="292" width="6" height="5" fill="#37004b"/><rect x="315" y="292" width="13" height="5" fill="#3c0058"/><rect x="328" y="292" width="6" height="5" fill="#37004b"/><rect x="334" y="292" width="6" height="5" fill="#32003d"/><rect x="340" y="292" width="6" height="5" fill="#37004b"/><rect x="346" y="292" width="7" height="5" fill="#3c0058"/><rect x="353" y="292" width="6" height="5" fill="#450071"/><rect x="359" y="292" width="6" height="5" fill="#500094"/><rect x="365" y="292" width="6" height="5" fill="#5d01bd"/><rect x="371" y="292" width="7" height="5" fill="#6601d6"/><rect x="378" y="292" width="6" height="5" fill="#7002ef"/><rect x="384" y="292" width="6" height="5" fill="#7502f7"/><rect x="390" y="292" width="6" height="5" fill="#7c03fe"/><rect x="396" y="292" width="7" height="5" fill="#8405fd"/><rect x="403" y="292" width="12" height="5" fill="#8d07f0"/><rect x="415" y="292" width="6" height="5" fill="#960bd1"/><rect x="421" y="292" width="7" height="5" fill="#9f0fa6"/><rect x="428" y="292" width="6" height="5" fill="#a21191"/><rect x="434" y="292" width="6" height="5" fill="#a51280"/><rect x="440" y="292" width="6" height="5" fill="#a3118c"/><rect x="446" y="292" width="7" height="5" fill="#9f0fa2"/><rect x="453" y="292" width="6" height="5" fill="#9e0eac"/><rect x="459" y="292" width="12" height="5" fill="#9c0db6"/><rect x="471" y="292" width="13" height="5" fill="#9a0cbf"/><rect x="484" y="292" width="6" height="5" fill="#980cc8"/><rect x="490" y="292" width="6" height="5" fill="#960bd0"/><rect x="496" y="292" width="7" height="5" fill="#940ad8"/><rect x="503" y="292" width="6" height="5" fill="#9309df"/><rect x="509" y="292" width="6" height="5" fill="#9109e5"/><rect x="515" y="292" width="6" height="5" fill="#8f08eb"/><rect x="521" y="292" width="3" height="5" fill="#8d07f0"/>
<rect x="75" y="297" width="3" height="5" fill="#940ad8"/><rect x="78" y="297" width="6" height="5" fill="#9209e1"/><rect x="84" y="297" width="6" height="5" fill="#8f08eb"/><rect x="90" y="297" width="6" height="5" fill="#8d07f0"/><rect x="96" y="297" width="7" height="5" fill="#8c07f1"/><rect x="103" y="297" width="6" height="5" fill="#8b07f3"/><rect x="109" y="297" width="6" height="5" fill="#8b07f5"/><rect x="115" y="297" width="6" height="5" fill="#8906f8"/><rect x="121" y="297" width="7" height="5" fill="#8505fd"/><rect x="128" y="297" width="6" height="5" fill="#8004ff"/><rect x="134" y="297" width="19" height="5" fill="#8104ff"/><rect x="153" y="297" width="12" height="5" fill="#8004ff"/><rect x="165" y="297" width="13" height="5" fill="#8305fe"/><rect x="178" y="297" width="6" height="5" fill="#8405fd"/><rect x="184" y="297" width="12" height="5" fill="#8205fe"/><rect x="196" y="297" width="7" height="5" fill="#7e04ff"/><rect x="203" y="297" width="6" height="5" fill="#7502f7"/><rect x="209" y="297" width="6" height="5" fill="#6e02ea"/><rect x="215" y="297" width="6" height="5" fill="#6601d6"/><rect x="221" y="297" width="7" height="5" fill="#6001c6"/><rect x="228" y="297" width="6" height="5" fill="#5a00b4"/><rect x="234" y="297" width="6" height="5" fill="#54009f"/><rect x="240" y="297" width="6" height="5" fill="#500094"/><rect x="246" y="297" width="7" height="5" fill="#4d0089"/><rect x="253" y="297" width="6" height="5" fill="#450071"/><rect x="259" y="297" width="6" height="5" fill="#410064"/><rect x="265" y="297" width="13" height="5" fill="#3c0058"/><rect x="278" y="297" width="12" height="5" fill="#37004b"/><rect x="290" y="297" width="19" height="5" fill="#32003d"/><rect x="309" y="297" width="25" height="5" fill="#37004b"/><rect x="334" y="297" width="6" height="5" fill="#32003d"/><rect x="340" y="297" width="6" height="5" fill="#37004b"/><rect x="346" y="297" width="7" height="5" fill="#3c0058"/><rect x="353" y="297" width="6" height="5" fill="#410064"/><rect x="359" y="297" width="6" height="5" fill="#4d0089"/><rect x="365" y="297" width="6" height="5" fill="#5a00b4"/><rect x="371" y="297" width="7" height="5" fill="#6601d6"/><rect x="378" y="297" width="6" height="5" fill="#6e02ea"/><rect x="384" y="297" width="6" height="5" fill="#7302f3"/><rect x="390" y="297" width="6" height="5" fill="#7b03fd"/><rect x="396" y="297" width="7" height="5" fill="#8204ff"/><rect x="403" y="297" width="6" height="5" fill="#8906f7"/><rect x="409" y="297" width="6" height="5" fill="#8706fa"/><rect x="415" y="297" width="6" height="5" fill="#9109e4"/><rect x="421" y="297" width="7" height="5" fill="#9b0dbb"/><rect x="428" y="297" width="6" height="5" fill="#a0109e"/><rect x="434" y="297" width="12" height="5" fill="#a3118c"/><rect x="446" y="297" width="7" height="5" fill="#a11097"/><rect x="453" y="297" width="6" height="5" fill="#9f0fa2"/><rect x="459" y="297" width="6" height="5" fill="#9e0eac"/><rect x="465" y="297" width="6" height="5" fill="#9c0db6"/><rect x="471" y="297" width="13" height="5" fill="#9a0cbf"/><rect x="484" y="297" width="6" height="5" fill="#980cc8"/><rect x="490" y="297" width="6" height="5" fill="#940ad8"/><rect x="496" y="297" width="7" height="5" fill="#9309df"/><rect x="503" y="297" width="6" height="5" fill="#9109e5"/><rect x="509" y="297" width="6" height="5" fill="#8f08eb"/><rect x="515" y="297" width="6" height="5" fill="#8d07f0"/><rect x="521" y="297" width="3" height="5" fill="#8b07f4"/>
<rect x="75" y="302" width="3" height="6" fill="#9109e5"/><rect x="78" y="302" width="6" height="6" fill="#9209e3"/><rect x="84" y="302" width="6" height="6" fill="#8f08eb"/><rect x="90" y="302" width="6" height="6" fill="#8d07f0"/><rect x="96" y="302" width="7" height="6" fill="#8c07f3"/><rect x="103" y="302" width="6" height="6" fill="#8a06f6"/><rect x="109" y="302" width="6" height="6" fill="#8806f8"/><rect x="115" y="302" width="6" height="6" fill="#8505fd"/><rect x="121" y="302" width="7" height="6" fill="#8004ff"/><rect x="128" y="302" width="6" height="6" fill="#7a03fd"/><rect x="134" y="302" width="6" height="6" fill="#7903fc"/><rect x="140" y="302" width="6" height="6" fill="#7803fb"/><rect x="146" y="302" width="7" height="6" fill="#7603f9"/><rect x="153" y="302" width="6" height="6" fill="#7502f7"/><rect x="159" y="302" width="6" height="6" fill="#7402f6"/><rect x="165" y="302" width="13" height="6" fill="#7602f8"/><rect x="178" y="302" width="6" height="6" fill="#7502f7"/><rect x="184" y="302" width="6" height="6" fill="#6f02ec"/><rect x="190" y="302" width="6" height="6" fill="#6d02e9"/><rect x="196" y="302" width="7" height="6" fill="#6b01e4"/><rect x="203" y="302" width="6" height="6" fill="#6501d6"/><rect x="209" y="302" width="6" height="6" fill="#6001c6"/><rect x="215" y="302" width="6" height="6" fill="#5a00b3"/><rect x="221" y="302" width="7" height="6" fill="#53009f"/><rect x="228" y="302" width="6" height="6" fill="#4c0088"/><rect x="234" y="302" width="6" height="6" fill="#49007e"/><rect x="240" y="302" width="6" height="6" fill="#48007a"/><rect x="246" y="302" width="7" height="6" fill="#450071"/><rect x="253" y="302" width="6" height="6" fill="#410064"/><rect x="259" y="302" width="6" height="6" fill="#3c0058"/><rect x="265" y="302" width="19" height="6" fill="#37004b"/><rect x="284" y="302" width="31" height="6" fill="#32003d"/><rect x="315" y="302" width="13" height="6" fill="#37004b"/><rect x="328" y="302" width="18" height="6" fill="#32003d"/><rect x="346" y="302" width="13" height="6" fill="#3c0058"/><rect x="359" y="302" width="6" height="6" fill="#49007d"/><rect x="365" y="302" width="6" height="6" fill="#5700aa"/><rect x="371" y="302" width="7" height="6" fill="#6301cf"/><rect x="378" y="302" width="6" height="6" fill="#6b01e4"/><rect x="384" y="302" width="6" height="6" fill="#7302f3"/><rect x="390" y="302" width="6" height="6" fill="#7803fa"/><rect x="396" y="302" width="7" height="6" fill="#7d03fe"/><rect x="403" y="302" width="6" height="6" fill="#8605fc"/><rect x="409" y="302" width="6" height="6" fill="#8405fe"/><rect x="415" y="302" width="6" height="6" fill="#8c07f2"/><rect x="421" y="302" width="7" height="6" fill="#950ad6"/><rect x="428" y="302" width="6" height="6" fill="#9e0eac"/><rect x="434" y="302" width="19" height="6" fill="#a11097"/><rect x="453" y="302" width="6" height="6" fill="#9f0fa2"/><rect x="459" y="302" width="6" height="6" fill="#9e0eac"/><rect x="465" y="302" width="6" height="6" fill="#9c0db6"/><rect x="471" y="302" width="7" height="6" fill="#9a0cbf"/><rect x="478" y="302" width="6" height="6" fill="#980cc8"/><rect x="484" y="302" width="6" height="6" fill="#960bd0"/><rect x="490" y="302" width="6" height="6" fill="#940ad8"/><rect x="496" y="302" width="7" height="6" fill="#9109e5"/><rect x="503" y="302" width="6" height="6" fill="#8f08eb"/><rect x="509" y="302" width="6" height="6" fill="#8d07f0"/><rect x="515" y="302" width="9" height="6" fill="#8b07f4"/>
<rect x="75" y="308" width="3" height="5" fill="#9109e5"/><rect x="78" y="308" width="6" height="5" fill="#9109e4"/><rect x="84" y="308" width="6" height="5" fill="#8f08eb"/><rect x="90" y="308" width="6" height="5" fill="#8d07f0"/><rect x="96" y="308" width="7" height="5" fill="#8b07f4"/><rect x="103" y="308" width="6" height="5" fill="#8906f7"/><rect x="109" y="308" width="6" height="5" fill="#8605fb"/><rect x="115" y="308" width="6" height="5" fill="#8104ff"/><rect x="121" y="308" width="7" height="5" fill="#7a03fd"/><rect x="128" y="308" width="6" height="5" fill="#7302f4"/><rect x="134" y="308" width="6" height="5" fill="#7002f0"/><rect x="140" y="308" width="6" height="5" fill="#6e02ea"/><rect x="146" y="308" width="7" height="5" fill="#6b01e3"/><rect x="153" y="308" width="6" height="5" fill="#6801dd"/><rect x="159" y="308" width="19" height="5" fill="#6701d9"/><rect x="178" y="308" width="6" height="5" fill="#6501d4"/><rect x="184" y="308" width="6" height="5" fill="#5f01c2"/><rect x="190" y="308" width="6" height="5" fill="#5b01b7"/><rect x="196" y="308" width="7" height="5" fill="#5800ae"/><rect x="203" y="308" width="6" height="5" fill="#5500a3"/><rect x="209" y="308" width="6" height="5" fill="#510099"/><rect x="215" y="308" width="6" height="5" fill="#4e008d"/><rect x="221" y="308" width="7" height="5" fill="#460076"/><rect x="228" y="308" width="6" height="5" fill="#37004b"/><rect x="234" y="308" width="6" height="5" fill="#3b0055"/><rect x="240" y="308" width="6" height="5" fill="#3e005d"/><rect x="246" y="308" width="7" height="5" fill="#3c0058"/><rect x="253" y="308" width="6" height="5" fill="#37004b"/><rect x="259" y="308" width="56" height="5" fill="#32003d"/><rect x="315" y="308" width="13" height="5" fill="#37004b"/><rect x="328" y="308" width="12" height="5" fill="#2c0030"/><rect x="340" y="308" width="6" height="5" fill="#32003d"/><rect x="346" y="308" width="13" height="5" fill="#3c0058"/><rect x="359" y="308" width="6" height="5" fill="#49007d"/><rect x="365" y="308" width="6" height="5" fill="#54009f"/><rect x="371" y="308" width="7" height="5" fill="#6001c6"/><rect x="378" y="308" width="6" height="5" fill="#6801dd"/><rect x="384" y="308" width="6" height="5" fill="#7002ef"/><rect x="390" y="308" width="6" height="5" fill="#7703fa"/><rect x="396" y="308" width="7" height="5" fill="#7c03fe"/><rect x="403" y="308" width="6" height="5" fill="#8505fd"/><rect x="409" y="308" width="6" height="5" fill="#8004ff"/><rect x="415" y="308" width="6" height="5" fill="#8906f8"/><rect x="421" y="308" width="7" height="5" fill="#9309df"/><rect x="428" y="308" width="6" height="5" fill="#9a0cbf"/><rect x="434" y="308" width="6" height="5" fill="#9e0eac"/><rect x="440" y="308" width="13" height="5" fill="#9f0fa2"/><rect x="453" y="308" width="12" height="5" fill="#9e0eac"/><rect x="465" y="308" width="6" height="5" fill="#9c0db6"/><rect x="471" y="308" width="7" height="5" fill="#9a0cbf"/><rect x="478" y="308" width="6" height="5" fill="#980cc8"/><rect x="484" y="308" width="6" height="5" fill="#940ad8"/><rect x="490" y="308" width="6" height="5" fill="#9309df"/><rect x="496" y="308" width="7" height="5" fill="#8f08eb"/><rect x="503" y="308" width="12" height="5" fill="#8d07f0"/><rect x="515" y="308" width="6" height="5" fill="#8b07f4"/><rect x="521" y="308" width="3" height="5" fill="#8906f8"/>
<rect x="75" y="313" width="3" height="5" fill="#9109e5"/><rect x="78" y="313" width="6" height="5" fill="#9008e7"/><rect x="84" y="313" width="6" height="5" fill="#8f08eb"/><rect x="90" y="313" width="6" height="5" fill="#8d07f0"/><rect x="96" y="313" width="7" height="5" fill="#8b07f4"/><rect x="103" y="313" width="6" height="5" fill="#8906f8"/><rect x="109" y="313" width="6" height="5" fill="#8605fc"/><rect x="115" y="313" width="6" height="5" fill="#8104ff"/><rect x="121" y="313" width="7" height="5" fill="#7a03fd"/><rect x="128" y="313" width="6" height="5" fill="#7102f1"/><rect x="134" y="313" width="6" height="5" fill="#6e02ea"/><rect x="140" y="313" width="6" height="5" fill="#6a01e3"/><rect x="146" y="313" width="7" height="5" fill="#6601d7"/><rect x="153" y="313" width="6" height="5" fill="#6401d0"/><rect x="159" y="313" width="12" height="5" fill="#6001c8"/><rect x="171" y="313" width="7" height="5" fill="#5e01c0"/><rect x="178" y="313" width="6" height="5" fill="#5b01b6"/><rect x="184" y="313" width="6" height="5" fill="#510098"/><rect x="190" y="313" width="19" height="5" fill="#4d0089"/><rect x="209" y="313" width="6" height="5" fill="#49007d"/><rect x="215" y="313" width="6" height="5" fill="#450071"/><rect x="221" y="313" width="7" height="5" fill="#3c0058"/><rect x="228" y="313" width="12" height="5" fill="#37004b"/><rect x="240" y="313" width="6" height="5" fill="#39004f"/><rect x="246" y="313" width="7" height="5" fill="#32003d"/><rect x="253" y="313" width="6" height="5" fill="#2c0030"/><rect x="259" y="313" width="6" height="5" fill="#32003d"/><rect x="265" y="313" width="19" height="5" fill="#2c0030"/><rect x="284" y="313" width="6" height="5" fill="#32003d"/><rect x="290" y="313" width="13" height="5" fill="#2c0030"/><rect x="303" y="313" width="25" height="5" fill="#32003d"/><rect x="328" y="313" width="6" height="5" fill="#2c0030"/><rect x="334" y="313" width="6" height="5" fill="#1d0015"/><rect x="340" y="313" width="6" height="5" fill="#32003d"/><rect x="346" y="313" width="7" height="5" fill="#3c0058"/><rect x="353" y="313" width="6" height="5" fill="#37004b"/><rect x="359" y="313" width="6" height="5" fill="#450071"/><rect x="365" y="313" width="6" height="5" fill="#500094"/><rect x="371" y="313" width="7" height="5" fill="#5d01bd"/><rect x="378" y="313" width="6" height="5" fill="#6801dd"/><rect x="384" y="313" width="6" height="5" fill="#7002ef"/><rect x="390" y="313" width="6" height="5" fill="#7502f7"/><rect x="396" y="313" width="7" height="5" fill="#7a03fc"/><rect x="403" y="313" width="6" height="5" fill="#8505fd"/><rect x="409" y="313" width="6" height="5" fill="#8004ff"/><rect x="415" y="313" width="6" height="5" fill="#8706fb"/><rect x="421" y="313" width="7" height="5" fill="#8f08eb"/><rect x="428" y="313" width="6" height="5" fill="#960bd0"/><rect x="434" y="313" width="6" height="5" fill="#9c0db6"/><rect x="440" y="313" width="6" height="5" fill="#9e0eac"/><rect x="446" y="313" width="7" height="5" fill="#9f0fa2"/><rect x="453" y="313" width="12" height="5" fill="#9e0eac"/><rect x="465" y="313" width="6" height="5" fill="#9c0db6"/><rect x="471" y="313" width="7" height="5" fill="#9a0cbf"/><rect x="478" y="313" width="6" height="5" fill="#980cc8"/><rect x="484" y="313" width="6" height="5" fill="#940ad8"/><rect x="490" y="313" width="6" height="5" fill="#9309df"/><rect x="496" y="313" width="7" height="5" fill="#8f08eb"/><rect x="503" y="313" width="12" height="5" fill="#8d07f0"/><rect x="515" y="313" width="6" height="5" fill="#8b07f4"/><rect x="521" y="313" width="3" height="5" fill="#8906f8"/>
<rect x="75" y="318" width="3" height="5" fill="#8f08eb"/><rect x="78" y="318" width="6" height="5" fill="#9008e8"/><rect x="84" y="318" width="6" height="5" fill="#8f08eb"/><rect x="90" y="318" width="6" height="5" fill="#8d07f0"/><rect x="96" y="318" width="7" height="5" fill="#8b07f4"/><rect x="103" y="318" width="6" height="5" fill="#8906f8"/><rect x="109" y="318" width="6" height="5" fill="#8605fc"/><rect x="115" y="318" width="6" height="5" fill="#8104ff"/><rect x="121" y="318" width="7" height="5" fill="#7903fc"/><rect x="128" y="318" width="6" height="5" fill="#7002ef"/><rect x="134" y="318" width="6" height="5" fill="#6c01e6"/><rect x="140" y="318" width="6" height="5" fill="#6801dc"/><rect x="146" y="318" width="7" height="5" fill="#6201ce"/><rect x="153" y="318" width="6" height="5" fill="#5e01c1"/><rect x="159" y="318" width="6" height="5" fill="#5b01b6"/><rect x="165" y="318" width="6" height="5" fill="#5800ad"/><rect x="171" y="318" width="7" height="5" fill="#5500a3"/><rect x="178" y="318" width="6" height="5" fill="#52009b"/><rect x="184" y="318" width="6" height="5" fill="#4a0081"/><rect x="190" y="318" width="25" height="5" fill="#450071"/><rect x="215" y="318" width="6" height="5" fill="#410064"/><rect x="221" y="318" width="7" height="5" fill="#3c0058"/><rect x="228" y="318" width="12" height="5" fill="#37004b"/><rect x="240" y="318" width="6" height="5" fill="#39004f"/><rect x="246" y="318" width="7" height="5" fill="#2c0030"/><rect x="253" y="318" width="6" height="5" fill="#250022"/><rect x="259" y="318" width="12" height="5" fill="#2c0030"/><rect x="271" y="318" width="7" height="5" fill="#250022"/><rect x="278" y="318" width="31" height="5" fill="#2c0030"/><rect x="309" y="318" width="12" height="5" fill="#32003d"/><rect x="321" y="318" width="19" height="5" fill="#250022"/><rect x="340" y="318" width="6" height="5" fill="#32003d"/><rect x="346" y="318" width="13" height="5" fill="#37004b"/><rect x="359" y="318" width="6" height="5" fill="#410064"/><rect x="365" y="318" width="6" height="5" fill="#4d0089"/><rect x="371" y="318" width="7" height="5" fill="#5a00b4"/><rect x="378" y="318" width="6" height="5" fill="#6601d6"/><rect x="384" y="318" width="6" height="5" fill="#6e02ea"/><rect x="390" y="318" width="6" height="5" fill="#7502f7"/><rect x="396" y="318" width="7" height="5" fill="#7a03fc"/><rect x="403" y="318" width="6" height="5" fill="#8205fe"/><rect x="409" y="318" width="6" height="5" fill="#7e04ff"/><rect x="415" y="318" width="6" height="5" fill="#8505fd"/><rect x="421" y="318" width="7" height="5" fill="#8b07f4"/><rect x="428" y="318" width="6" height="5" fill="#9309df"/><rect x="434" y="318" width="6" height="5" fill="#980cc8"/><rect x="440" y="318" width="6" height="5" fill="#9d0eb2"/><rect x="446" y="318" width="19" height="5" fill="#a00fa0"/><rect x="465" y="318" width="6" height="5" fill="#9e0eaa"/><rect x="471" y="318" width="7" height="5" fill="#9c0db4"/><rect x="478" y="318" width="6" height="5" fill="#970bcc"/><rect x="484" y="318" width="6" height="5" fill="#9309df"/><rect x="490" y="318" width="6" height="5" fill="#9109e5"/><rect x="496" y="318" width="7" height="5" fill="#8f08eb"/><rect x="503" y="318" width="6" height="5" fill="#8d07f0"/><rect x="509" y="318" width="12" height="5" fill="#8b07f4"/><rect x="521" y="318" width="3" height="5" fill="#8906f8"/>
<rect x="75" y="323" width="3" height="5" fill="#8f08eb"/><rect x="78" y="323" width="6" height="5" fill="#8f08ea"/><rect x="84" y="323" width="6" height="5" fill="#8e08ed"/><rect x="90" y="323" width="6" height="5" fill="#8d07f0"/><rect x="96" y="323" width="7" height="5" fill="#8b07f4"/><rect x="103" y="323" width="6" height="5" fill="#8906f8"/><rect x="109" y="323" width="6" height="5" fill="#8605fc"/><rect x="115" y="323" width="6" height="5" fill="#8104ff"/><rect x="121" y="323" width="7" height="5" fill="#7903fc"/><rect x="128" y="323" width="6" height="5" fill="#7002ef"/><rect x="134" y="323" width="6" height="5" fill="#6c01e6"/><rect x="140" y="323" width="6" height="5" fill="#6601d8"/><rect x="146" y="323" width="7" height="5" fill="#6101c9"/><rect x="153" y="323" width="6" height="5" fill="#5c01bb"/><rect x="159" y="323" width="6" height="5" fill="#5800af"/><rect x="165" y="323" width="6" height="5" fill="#5500a5"/><rect x="171" y="323" width="7" height="5" fill="#510097"/><rect x="178" y="323" width="6" height="5" fill="#4f0090"/><rect x="184" y="323" width="6" height="5" fill="#460075"/><rect x="190" y="323" width="25" height="5" fill="#410064"/><rect x="215" y="323" width="13" height="5" fill="#3c0058"/><rect x="228" y="323" width="12" height="5" fill="#37004b"/><rect x="240" y="323" width="6" height="5" fill="#39004f"/><rect x="246" y="323" width="7" height="5" fill="#37004b"/><rect x="253" y="323" width="12" height="5" fill="#32003d"/><rect x="265" y="323" width="63" height="5" fill="#2c0030"/><rect x="328" y="323" width="6" height="5" fill="#110007"/><rect x="334" y="323" width="6" height="5" fill="#250022"/><rect x="340" y="323" width="6" height="5" fill="#2c0030"/><rect x="346" y="323" width="7" height="5" fill="#37004b"/><rect x="353" y="323" width="6" height="5" fill="#32003d"/><rect x="359" y="323" width="6" height="5" fill="#3c0058"/><rect x="365" y="323" width="6" height="5" fill="#4d0089"/><rect x="371" y="323" width="7" height="5" fill="#5a00b4"/><rect x="378" y="323" width="6" height="5" fill="#6301cf"/><rect x="384" y="323" width="6" height="5" fill="#6b01e4"/><rect x="390" y="323" width="6" height="5" fill="#7302f3"/><rect x="396" y="323" width="7" height="5" fill="#7703fa"/><rect x="403" y="323" width="6" height="5" fill="#8205fe"/><rect x="409" y="323" width="6" height="5" fill="#7e04ff"/><rect x="415" y="323" width="6" height="5" fill="#8205fe"/><rect x="421" y="323" width="7" height="5" fill="#8706fb"/><rect x="428" y="323" width="6" height="5" fill="#8f08eb"/><rect x="434" y="323" width="6" height="5" fill="#940ad8"/><rect x="440" y="323" width="6" height="5" fill="#9c0db4"/><rect x="446" y="323" width="7" height="5" fill="#a21094"/><rect x="453" y="323" width="12" height="5" fill="#a31289"/><rect x="465" y="323" width="6" height="5" fill="#a21094"/><rect x="471" y="323" width="7" height="5" fill="#a00f9f"/><rect x="478" y="323" width="6" height="5" fill="#990cc3"/><rect x="484" y="323" width="6" height="5" fill="#9309df"/><rect x="490" y="323" width="6" height="5" fill="#9109e5"/><rect x="496" y="323" width="7" height="5" fill="#8f08eb"/><rect x="503" y="323" width="6" height="5" fill="#8d07f0"/><rect x="509" y="323" width="12" height="5" fill="#8b07f4"/><rect x="521" y="323" width="3" height="5" fill="#8906f8"/>
<rect x="75" y="328" width="3" height="5" fill="#8d07f0"/><rect x="78" y="328" width="6" height="5" fill="#8e08ed"/><rect x="84" y="328" width="12" height="5" fill="#8d07f0"/><rect x="96" y="328" width="7" height="5" fill="#8b07f4"/><rect x="103" y="328" width="6" height="5" fill="#8906f8"/><rect x="109" y="328" width="6" height="5" fill="#8605fc"/><rect x="115" y="328" width="6" height="5" fill="#8104ff"/><rect x="121" y="328" width="7" height="5" fill="#7903fc"/><rect x="128" y="328" width="6" height="5" fill="#7002ef"/><rect x="134" y="328" width="6" height="5" fill="#6b01e3"/><rect x="140" y="328" width="6" height="5" fill="#6501d4"/><rect x="146" y="328" width="7" height="5" fill="#5f01c5"/><rect x="153" y="328" width="6" height="5" fill="#5b01b6"/><rect x="159" y="328" width="6" height="5" fill="#5700aa"/><rect x="165" y="328" width="6" height="5" fill="#52009b"/><rect x="171" y="328" width="7" height="5" fill="#4e008c"/><rect x="178" y="328" width="6" height="5" fill="#4b0084"/><rect x="184" y="328" width="6" height="5" fill="#420069"/><rect x="190" y="328" width="31" height="5" fill="#3c0058"/><rect x="221" y="328" width="19" height="5" fill="#37004b"/><rect x="240" y="328" width="6" height="5" fill="#39004f"/><rect x="246" y="328" width="7" height="5" fill="#37004b"/><rect x="253" y="328" width="12" height="5" fill="#32003d"/><rect x="265" y="328" width="69" height="5" fill="#2c0030"/><rect x="334" y="328" width="6" height="5" fill="#110007"/><rect x="340" y="328" width="13" height="5" fill="#2c0030"/><rect x="353" y="328" width="6" height="5" fill="#32003d"/><rect x="359" y="328" width="6" height="5" fill="#37004b"/><rect x="365" y="328" width="6" height="5" fill="#450071"/><rect x="371" y="328" width="7" height="5" fill="#5700aa"/><rect x="378" y="328" width="6" height="5" fill="#6301cf"/><rect x="384" y="328" width="6" height="5" fill="#6b01e4"/><rect x="390" y="328" width="6" height="5" fill="#7302f3"/><rect x="396" y="328" width="7" height="5" fill="#7703fa"/><rect x="403" y="328" width="6" height="5" fill="#8205fe"/><rect x="409" y="328" width="6" height="5" fill="#7e04ff"/><rect x="415" y="328" width="6" height="5" fill="#8004ff"/><rect x="421" y="328" width="7" height="5" fill="#8505fd"/><rect x="428" y="328" width="6" height="5" fill="#8b07f4"/><rect x="434" y="328" width="6" height="5" fill="#9109e5"/><rect x="440" y="328" width="6" height="5" fill="#990cc4"/><rect x="446" y="328" width="7" height="5" fill="#a11097"/><rect x="453" y="328" width="6" height="5" fill="#a3118c"/><rect x="459" y="328" width="6" height="5" fill="#a51280"/><rect x="465" y="328" width="6" height="5" fill="#a3118c"/><rect x="471" y="328" width="7" height="5" fill="#a11097"/><rect x="478" y="328" width="6" height="5" fill="#9a0cc0"/><rect x="484" y="328" width="6" height="5" fill="#9309df"/><rect x="490" y="328" width="6" height="5" fill="#9109e5"/><rect x="496" y="328" width="7" height="5" fill="#8f08eb"/><rect x="503" y="328" width="6" height="5" fill="#8d07f0"/><rect x="509" y="328" width="12" height="5" fill="#8b07f4"/><rect x="521" y="328" width="3" height="5" fill="#8906f8"/>
<rect x="75" y="333" width="3" height="6" fill="#8d07f0"/><rect x="78" y="333" width="6" height="6" fill="#8e08ed"/><rect x="84" y="333" width="6" height="6" fill="#8d07ef"/><rect x="90" y="333" width="6" height="6" fill="#8d07f0"/><rect x="96" y="333" width="7" height="6" fill="#8b07f4"/><rect x="103" y="333" width="6" height="6" fill="#8a06f6"/><rect x="109" y="333" width="6" height="6" fill="#8806f9"/><rect x="115" y="333" width="6" height="6" fill="#8305fe"/><rect x="121" y="333" width="7" height="6" fill="#7b03fd"/><rect x="128" y="333" width="6" height="6" fill="#7102f1"/><rect x="134" y="333" width="6" height="6" fill="#6c01e5"/><rect x="140" y="333" width="6" height="6" fill="#6601d9"/><rect x="146" y="333" width="7" height="6" fill="#6101c9"/><rect x="153" y="333" width="6" height="6" fill="#5d01bc"/><rect x="159" y="333" width="6" height="6" fill="#5900af"/><rect x="165" y="333" width="6" height="6" fill="#5400a2"/><rect x="171" y="333" width="7" height="6" fill="#500093"/><rect x="178" y="333" width="6" height="6" fill="#4b0083"/><rect x="184" y="333" width="6" height="6" fill="#43006a"/><rect x="190" y="333" width="25" height="6" fill="#3d0059"/><rect x="215" y="333" width="6" height="6" fill="#3c0057"/><rect x="221" y="333" width="7" height="6" fill="#38004d"/><rect x="228" y="333" width="12" height="6" fill="#37004b"/><rect x="240" y="333" width="6" height="6" fill="#3a0051"/><rect x="246" y="333" width="7" height="6" fill="#38004d"/><rect x="253" y="333" width="6" height="6" fill="#350044"/><rect x="259" y="333" width="6" height="6" fill="#32003d"/><rect x="265" y="333" width="6" height="6" fill="#300038"/><rect x="271" y="333" width="7" height="6" fill="#2d0033"/><rect x="278" y="333" width="50" height="6" fill="#2c0030"/><rect x="328" y="333" width="18" height="6" fill="#110007"/><rect x="346" y="333" width="7" height="6" fill="#2c0030"/><rect x="353" y="333" width="6" height="6" fill="#32003d"/><rect x="359" y="333" width="6" height="6" fill="#37004b"/><rect x="365" y="333" width="6" height="6" fill="#450071"/><rect x="371" y="333" width="7" height="6" fill="#5700aa"/><rect x="378" y="333" width="6" height="6" fill="#6301cf"/><rect x="384" y="333" width="6" height="6" fill="#6b01e4"/><rect x="390" y="333" width="6" height="6" fill="#7302f3"/><rect x="396" y="333" width="7" height="6" fill="#7703fa"/><rect x="403" y="333" width="6" height="6" fill="#7d04ff"/><rect x="409" y="333" width="6" height="6" fill="#7c03fe"/><rect x="415" y="333" width="6" height="6" fill="#7d04fe"/><rect x="421" y="333" width="7" height="6" fill="#8204ff"/><rect x="428" y="333" width="6" height="6" fill="#8706fa"/><rect x="434" y="333" width="6" height="6" fill="#8d07ef"/><rect x="440" y="333" width="6" height="6" fill="#950ad8"/><rect x="446" y="333" width="7" height="6" fill="#9d0eb2"/><rect x="453" y="333" width="6" height="6" fill="#9e0eab"/><rect x="459" y="333" width="6" height="6" fill="#a00f9f"/><rect x="465" y="333" width="6" height="6" fill="#a21191"/><rect x="471" y="333" width="7" height="6" fill="#9f0fa6"/><rect x="478" y="333" width="6" height="6" fill="#960bd0"/><rect x="484" y="333" width="6" height="6" fill="#8c07f3"/><rect x="490" y="333" width="6" height="6" fill="#8806f9"/><rect x="496" y="333" width="7" height="6" fill="#8605fc"/><rect x="503" y="333" width="6" height="6" fill="#8305fe"/><rect x="509" y="333" width="6" height="6" fill="#8204ff"/><rect x="515" y="333" width="6" height="6" fill="#8004ff"/><rect x="521" y="333" width="3" height="6" fill="#7703fa"/>
<rect x="75" y="339" width="3" height="5" fill="#8b07f3"/><rect x="78" y="339" width="6" height="5" fill="#8c07f1"/><rect x="84" y="339" width="6" height="5" fill="#8c07f2"/><rect x="90" y="339" width="6" height="5" fill="#8b07f4"/><rect x="96" y="339" width="7" height="5" fill="#8a06f6"/><rect x="103" y="339" width="6" height="5" fill="#8806f8"/><rect x="109" y="339" width="6" height="5" fill="#8706fa"/><rect x="115" y="339" width="6" height="5" fill="#8204fe"/><rect x="121" y="339" width="7" height="5" fill="#7b03fd"/><rect x="128" y="339" width="6" height="5" fill="#7202f2"/><rect x="134" y="339" width="6" height="5" fill="#6c01e7"/><rect x="140" y="339" width="6" height="5" fill="#6701da"/><rect x="146" y="339" width="7" height="5" fill="#6201cc"/><rect x="153" y="339" width="6" height="5" fill="#5d01be"/><rect x="159" y="339" width="6" height="5" fill="#5900b1"/><rect x="165" y="339" width="6" height="5" fill="#5500a4"/><rect x="171" y="339" width="7" height="5" fill="#500095"/><rect x="178" y="339" width="6" height="5" fill="#4c0086"/><rect x="184" y="339" width="6" height="5" fill="#460074"/><rect x="190" y="339" width="19" height="5" fill="#44006d"/><rect x="209" y="339" width="6" height="5" fill="#43006d"/><rect x="215" y="339" width="6" height="5" fill="#420069"/><rect x="221" y="339" width="7" height="5" fill="#400061"/><rect x="228" y="339" width="6" height="5" fill="#3e005c"/><rect x="234" y="339" width="12" height="5" fill="#3b0054"/><rect x="246" y="339" width="7" height="5" fill="#39004e"/><rect x="253" y="339" width="6" height="5" fill="#360046"/><rect x="259" y="339" width="6" height="5" fill="#32003d"/><rect x="265" y="339" width="6" height="5" fill="#31003a"/><rect x="271" y="339" width="7" height="5" fill="#2e0035"/><rect x="278" y="339" width="50" height="5" fill="#2c0030"/><rect x="328" y="339" width="18" height="5" fill="#110007"/><rect x="346" y="339" width="7" height="5" fill="#2c0030"/><rect x="353" y="339" width="6" height="5" fill="#32003d"/><rect x="359" y="339" width="6" height="5" fill="#37004b"/><rect x="365" y="339" width="6" height="5" fill="#450071"/><rect x="371" y="339" width="7" height="5" fill="#5700aa"/><rect x="378" y="339" width="6" height="5" fill="#6301cf"/><rect x="384" y="339" width="6" height="5" fill="#6b01e4"/><rect x="390" y="339" width="6" height="5" fill="#7302f3"/><rect x="396" y="339" width="7" height="5" fill="#7703fa"/><rect x="403" y="339" width="6" height="5" fill="#7b03fe"/><rect x="409" y="339" width="6" height="5" fill="#7a03fd"/><rect x="415" y="339" width="6" height="5" fill="#7a03fc"/><rect x="421" y="339" width="7" height="5" fill="#7e04ff"/><rect x="428" y="339" width="6" height="5" fill="#8405fe"/><rect x="434" y="339" width="6" height="5" fill="#8a06f6"/><rect x="440" y="339" width="6" height="5" fill="#9008e8"/><rect x="446" y="339" width="7" height="5" fill="#980bca"/><rect x="453" y="339" width="6" height="5" fill="#990cc4"/><rect x="459" y="339" width="6" height="5" fill="#9c0db6"/><rect x="465" y="339" width="6" height="5" fill="#9f0fa2"/><rect x="471" y="339" width="7" height="5" fill="#9b0db8"/><rect x="478" y="339" width="6" height="5" fill="#9209e2"/><rect x="484" y="339" width="6" height="5" fill="#8505fc"/><rect x="490" y="339" width="6" height="5" fill="#8205fe"/><rect x="496" y="339" width="7" height="5" fill="#8004ff"/><rect x="503" y="339" width="6" height="5" fill="#7d04fe"/><rect x="509" y="339" width="6" height="5" fill="#7b03fe"/><rect x="515" y="339" width="6" height="5" fill="#7903fc"/><rect x="521" y="339" width="3" height="5" fill="#7703fa"/>
<rect x="75" y="344" width="3" height="5" fill="#8906f7"/><rect x="78" y="344" width="6" height="5" fill="#8a06f6"/><rect x="84" y="344" width="6" height="5" fill="#8906f7"/><rect x="90" y="344" width="6" height="5" fill="#8806f8"/><rect x="96" y="344" width="7" height="5" fill="#8706fa"/><rect x="103" y="344" width="6" height="5" fill="#8605fc"/><rect x="109" y="344" width="6" height="5" fill="#8405fd"/><rect x="115" y="344" width="6" height="5" fill="#8004ff"/><rect x="121" y="344" width="7" height="5" fill="#7a03fd"/><rect x="128" y="344" width="6" height="5" fill="#7102f0"/><rect x="134" y="344" width="6" height="5" fill="#6b01e4"/><rect x="140" y="344" width="6" height="5" fill="#6601d8"/><rect x="146" y="344" width="7" height="5" fill="#6201cc"/><rect x="153" y="344" width="6" height="5" fill="#5d01be"/><rect x="159" y="344" width="6" height="5" fill="#5800ae"/><rect x="165" y="344" width="6" height="5" fill="#53009f"/><rect x="171" y="344" width="7" height="5" fill="#4f0090"/><rect x="178" y="344" width="6" height="5" fill="#4a0080"/><rect x="184" y="344" width="6" height="5" fill="#48007c"/><rect x="190" y="344" width="19" height="5" fill="#49007d"/><rect x="209" y="344" width="6" height="5" fill="#48007a"/><rect x="215" y="344" width="6" height="5" fill="#470077"/><rect x="221" y="344" width="7" height="5" fill="#450072"/><rect x="228" y="344" width="6" height="5" fill="#43006a"/><rect x="234" y="344" width="6" height="5" fill="#3e005e"/><rect x="240" y="344" width="6" height="5" fill="#3a0051"/><rect x="246" y="344" width="7" height="5" fill="#360048"/><rect x="253" y="344" width="6" height="5" fill="#33003f"/><rect x="259" y="344" width="6" height="5" fill="#2f0037"/><rect x="265" y="344" width="6" height="5" fill="#2e0033"/><rect x="271" y="344" width="7" height="5" fill="#2d0031"/><rect x="278" y="344" width="50" height="5" fill="#2c0030"/><rect x="328" y="344" width="6" height="5" fill="#110007"/><rect x="334" y="344" width="6" height="5" fill="#250022"/><rect x="340" y="344" width="6" height="5" fill="#110007"/><rect x="346" y="344" width="7" height="5" fill="#2c0030"/><rect x="353" y="344" width="6" height="5" fill="#32003d"/><rect x="359" y="344" width="6" height="5" fill="#37004b"/><rect x="365" y="344" width="6" height="5" fill="#450071"/><rect x="371" y="344" width="7" height="5" fill="#5700aa"/><rect x="378" y="344" width="6" height="5" fill="#6301cf"/><rect x="384" y="344" width="6" height="5" fill="#6b01e4"/><rect x="390" y="344" width="6" height="5" fill="#7302f3"/><rect x="396" y="344" width="7" height="5" fill="#7703fa"/><rect x="403" y="344" width="6" height="5" fill="#7a03fd"/><rect x="409" y="344" width="6" height="5" fill="#7903fb"/><rect x="415" y="344" width="6" height="5" fill="#7803fb"/><rect x="421" y="344" width="7" height="5" fill="#7c03fe"/><rect x="428" y="344" width="6" height="5" fill="#8004ff"/><rect x="434" y="344" width="6" height="5" fill="#8505fd"/><rect x="440" y="344" width="6" height="5" fill="#8b07f4"/><rect x="446" y="344" width="7" height="5" fill="#9309dd"/><rect x="453" y="344" width="6" height="5" fill="#970bcd"/><rect x="459" y="344" width="6" height="5" fill="#9c0db6"/><rect x="465" y="344" width="6" height="5" fill="#9d0eb2"/><rect x="471" y="344" width="7" height="5" fill="#980bc9"/><rect x="478" y="344" width="6" height="5" fill="#8d07ef"/><rect x="484" y="344" width="6" height="5" fill="#8405fd"/><rect x="490" y="344" width="6" height="5" fill="#8104ff"/><rect x="496" y="344" width="7" height="5" fill="#7f04ff"/><rect x="503" y="344" width="6" height="5" fill="#7d04fe"/><rect x="509" y="344" width="6" height="5" fill="#7b03fe"/><rect x="515" y="344" width="6" height="5" fill="#7a03fd"/><rect x="521" y="344" width="3" height="5" fill="#7a03fc"/>
<rect x="75" y="349" width="9" height="5" fill="#8706fa"/><rect x="84" y="349" width="6" height="5" fill="#8605fb"/><rect x="90" y="349" width="6" height="5" fill="#8605fc"/><rect x="96" y="349" width="7" height="5" fill="#8405fd"/><rect x="103" y="349" width="6" height="5" fill="#8305fe"/><rect x="109" y="349" width="6" height="5" fill="#8204ff"/><rect x="115" y="349" width="6" height="5" fill="#7d04ff"/><rect x="121" y="349" width="7" height="5" fill="#7803fb"/><rect x="128" y="349" width="6" height="5" fill="#7002ef"/><rect x="134" y="349" width="6" height="5" fill="#6b01e3"/><rect x="140" y="349" width="6" height="5" fill="#6601d8"/><rect x="146" y="349" width="7" height="5" fill="#6201cc"/><rect x="153" y="349" width="6" height="5" fill="#5d01be"/><rect x="159" y="349" width="6" height="5" fill="#5800ae"/><rect x="165" y="349" width="6" height="5" fill="#53009d"/><rect x="171" y="349" width="7" height="5" fill="#4e008c"/><rect x="178" y="349" width="6" height="5" fill="#49007c"/><rect x="184" y="349" width="6" height="5" fill="#470078"/><rect x="190" y="349" width="19" height="5" fill="#48007b"/><rect x="209" y="349" width="6" height="5" fill="#470077"/><rect x="215" y="349" width="6" height="5" fill="#460073"/><rect x="221" y="349" width="7" height="5" fill="#44006f"/><rect x="228" y="349" width="6" height="5" fill="#410066"/><rect x="234" y="349" width="6" height="5" fill="#3d005a"/><rect x="240" y="349" width="6" height="5" fill="#38004d"/><rect x="246" y="349" width="7" height="5" fill="#350044"/><rect x="253" y="349" width="6" height="5" fill="#31003b"/><rect x="259" y="349" width="6" height="5" fill="#2d0033"/><rect x="265" y="349" width="88" height="5" fill="#2c0030"/><rect x="353" y="349" width="6" height="5" fill="#32003d"/><rect x="359" y="349" width="6" height="5" fill="#37004b"/><rect x="365" y="349" width="6" height="5" fill="#450071"/><rect x="371" y="349" width="7" height="5" fill="#5700aa"/><rect x="378" y="349" width="6" height="5" fill="#6301cf"/><rect x="384" y="349" width="6" height="5" fill="#6b01e4"/><rect x="390" y="349" width="6" height="5" fill="#7302f3"/><rect x="396" y="349" width="7" height="5" fill="#7703fa"/><rect x="403" y="349" width="6" height="5" fill="#7a03fd"/><rect x="409" y="349" width="6" height="5" fill="#7703fa"/><rect x="415" y="349" width="6" height="5" fill="#7703f9"/><rect x="421" y="349" width="7" height="5" fill="#7a03fd"/><rect x="428" y="349" width="6" height="5" fill="#7d04ff"/><rect x="434" y="349" width="6" height="5" fill="#8104ff"/><rect x="440" y="349" width="6" height="5" fill="#8605fc"/><rect x="446" y="349" width="7" height="5" fill="#8c07f1"/><rect x="453" y="349" width="6" height="5" fill="#9309de"/><rect x="459" y="349" width="12" height="5" fill="#980bca"/><rect x="471" y="349" width="7" height="5" fill="#9209e1"/><rect x="478" y="349" width="6" height="5" fill="#8a06f6"/><rect x="484" y="349" width="6" height="5" fill="#8305fe"/><rect x="490" y="349" width="6" height="5" fill="#8104ff"/><rect x="496" y="349" width="7" height="5" fill="#7f04ff"/><rect x="503" y="349" width="6" height="5" fill="#7d03fe"/><rect x="509" y="349" width="6" height="5" fill="#7b03fe"/><rect x="515" y="349" width="6" height="5" fill="#7a03fd"/><rect x="521" y="349" width="3" height="5" fill="#7a03fc"/>
<rect x="75" y="354" width="3" height="5" fill="#8706fb"/><rect x="78" y="354" width="6" height="5" fill="#8605fb"/><rect x="84" y="354" width="6" height="5" fill="#8505fc"/><rect x="90" y="354" width="6" height="5" fill="#8505fd"/><rect x="96" y="354" width="7" height="5" fill="#8305fe"/><rect x="103" y="354" width="6" height="5" fill="#8204ff"/><rect x="109" y="354" width="6" height="5" fill="#8104ff"/><rect x="115" y="354" width="6" height="5" fill="#7c03fe"/><rect x="121" y="354" width="7" height="5" fill="#7703f9"/><rect x="128" y="354" width="6" height="5" fill="#7002ef"/><rect x="134" y="354" width="6" height="5" fill="#6b01e3"/><rect x="140" y="354" width="6" height="5" fill="#6601d8"/><rect x="146" y="354" width="7" height="5" fill="#6201cc"/><rect x="153" y="354" width="6" height="5" fill="#5d01be"/><rect x="159" y="354" width="6" height="5" fill="#5800ae"/><rect x="165" y="354" width="6" height="5" fill="#53009d"/><rect x="171" y="354" width="7" height="5" fill="#4e008c"/><rect x="178" y="354" width="6" height="5" fill="#49007c"/><rect x="184" y="354" width="6" height="5" fill="#470078"/><rect x="190" y="354" width="6" height="5" fill="#48007a"/><rect x="196" y="354" width="13" height="5" fill="#460075"/><rect x="209" y="354" width="6" height="5" fill="#450071"/><rect x="215" y="354" width="6" height="5" fill="#43006d"/><rect x="221" y="354" width="7" height="5" fill="#420069"/><rect x="228" y="354" width="6" height="5" fill="#400061"/><rect x="234" y="354" width="6" height="5" fill="#3d0059"/><rect x="240" y="354" width="6" height="5" fill="#38004d"/><rect x="246" y="354" width="7" height="5" fill="#350044"/><rect x="253" y="354" width="6" height="5" fill="#31003b"/><rect x="259" y="354" width="6" height="5" fill="#2d0033"/><rect x="265" y="354" width="88" height="5" fill="#2c0030"/><rect x="353" y="354" width="6" height="5" fill="#32003d"/><rect x="359" y="354" width="6" height="5" fill="#37004b"/><rect x="365" y="354" width="6" height="5" fill="#450071"/><rect x="371" y="354" width="7" height="5" fill="#5700aa"/><rect x="378" y="354" width="6" height="5" fill="#6301cf"/><rect x="384" y="354" width="6" height="5" fill="#6b01e4"/><rect x="390" y="354" width="6" height="5" fill="#7302f3"/><rect x="396" y="354" width="7" height="5" fill="#7703fa"/><rect x="403" y="354" width="6" height="5" fill="#7903fc"/><rect x="409" y="354" width="6" height="5" fill="#7502f7"/><rect x="415" y="354" width="6" height="5" fill="#7402f6"/><rect x="421" y="354" width="7" height="5" fill="#7803fb"/><rect x="428" y="354" width="6" height="5" fill="#7b03fd"/><rect x="434" y="354" width="6" height="5" fill="#7f04ff"/><rect x="440" y="354" width="6" height="5" fill="#8205fe"/><rect x="446" y="354" width="7" height="5" fill="#8605fb"/><rect x="453" y="354" width="6" height="5" fill="#8c07f1"/><rect x="459" y="354" width="12" height="5" fill="#9109e4"/><rect x="471" y="354" width="7" height="5" fill="#8c07f3"/><rect x="478" y="354" width="6" height="5" fill="#8605fc"/><rect x="484" y="354" width="6" height="5" fill="#8205fe"/><rect x="490" y="354" width="6" height="5" fill="#8004ff"/><rect x="496" y="354" width="7" height="5" fill="#7e04ff"/><rect x="503" y="354" width="6" height="5" fill="#7d03fe"/><rect x="509" y="354" width="6" height="5" fill="#7b03fe"/><rect x="515" y="354" width="6" height="5" fill="#7a03fd"/><rect x="521" y="354" width="3" height="5" fill="#7a03fc"/>
<rect x="75" y="359" width="3" height="5" fill="#8706fb"/><rect x="78" y="359" width="6" height="5" fill="#8605fb"/><rect x="84" y="359" width="6" height="5" fill="#8505fc"/><rect x="90" y="359" width="6" height="5" fill="#8505fd"/><rect x="96" y="359" width="7" height="5" fill="#8305fe"/><rect x="103" y="359" width="6" height="5" fill="#8204ff"/><rect x="109" y="359" width="6" height="5" fill="#8104ff"/><rect x="115" y="359" width="6" height="5" fill="#7c03fe"/><rect x="121" y="359" width="7" height="5" fill="#7602f8"/><rect x="128" y="359" width="6" height="5" fill="#7002ee"/><rect x="134" y="359" width="6" height="5" fill="#6b01e3"/><rect x="140" y="359" width="6" height="5" fill="#6601d8"/><rect x="146" y="359" width="7" height="5" fill="#6201cc"/><rect x="153" y="359" width="6" height="5" fill="#5d01be"/><rect x="159" y="359" width="6" height="5" fill="#5800ae"/><rect x="165" y="359" width="6" height="5" fill="#53009d"/><rect x="171" y="359" width="7" height="5" fill="#4e008c"/><rect x="178" y="359" width="6" height="5" fill="#49007c"/><rect x="184" y="359" width="6" height="5" fill="#470078"/><rect x="190" y="359" width="6" height="5" fill="#48007a"/><rect x="196" y="359" width="7" height="5" fill="#460075"/><rect x="203" y="359" width="6" height="5" fill="#450071"/><rect x="209" y="359" width="6" height="5" fill="#44006d"/><rect x="215" y="359" width="6" height="5" fill="#420069"/><rect x="221" y="359" width="7" height="5" fill="#410065"/><rect x="228" y="359" width="6" height="5" fill="#3e005d"/><rect x="234" y="359" width="6" height="5" fill="#3b0055"/><rect x="240" y="359" width="6" height="5" fill="#38004c"/><rect x="246" y="359" width="7" height="5" fill="#350044"/><rect x="253" y="359" width="6" height="5" fill="#31003b"/><rect x="259" y="359" width="6" height="5" fill="#2d0033"/><rect x="265" y="359" width="81" height="5" fill="#2c0030"/><rect x="346" y="359" width="7" height="5" fill="#110007"/><rect x="353" y="359" width="6" height="5" fill="#32003d"/><rect x="359" y="359" width="6" height="5" fill="#37004b"/><rect x="365" y="359" width="6" height="5" fill="#450071"/><rect x="371" y="359" width="7" height="5" fill="#5700aa"/><rect x="378" y="359" width="6" height="5" fill="#6301cf"/><rect x="384" y="359" width="6" height="5" fill="#6b01e4"/><rect x="390" y="359" width="6" height="5" fill="#7302f3"/><rect x="396" y="359" width="7" height="5" fill="#7703fa"/><rect x="403" y="359" width="6" height="5" fill="#7903fc"/><rect x="409" y="359" width="6" height="5" fill="#7302f4"/><rect x="415" y="359" width="6" height="5" fill="#7202f2"/><rect x="421" y="359" width="7" height="5" fill="#7502f8"/><rect x="428" y="359" width="6" height="5" fill="#7903fc"/><rect x="434" y="359" width="6" height="5" fill="#7c03fe"/><rect x="440" y="359" width="6" height="5" fill="#8004ff"/><rect x="446" y="359" width="7" height="5" fill="#8305fe"/><rect x="453" y="359" width="6" height="5" fill="#8906f8"/><rect x="459" y="359" width="12" height="5" fill="#8c07f2"/><rect x="471" y="359" width="7" height="5" fill="#8906f8"/><rect x="478" y="359" width="6" height="5" fill="#8305fe"/><rect x="484" y="359" width="6" height="5" fill="#8004ff"/><rect x="490" y="359" width="6" height="5" fill="#7f04ff"/><rect x="496" y="359" width="7" height="5" fill="#7e04ff"/><rect x="503" y="359" width="6" height="5" fill="#7d03fe"/><rect x="509" y="359" width="6" height="5" fill="#7b03fe"/><rect x="515" y="359" width="6" height="5" fill="#7a03fd"/><rect x="521" y="359" width="3" height="5" fill="#7a03fc"/>
<rect x="75" y="364" width="3" height="6" fill="#8906f8"/><rect x="78" y="364" width="6" height="6" fill="#8706fa"/><rect x="84" y="364" width="6" height="6" fill="#8605fc"/><rect x="90" y="364" width="6" height="6" fill="#8505fd"/><rect x="96" y="364" width="7" height="6" fill="#8305fe"/><rect x="103" y="364" width="6" height="6" fill="#8204ff"/><rect x="109" y="364" width="6" height="6" fill="#8104ff"/><rect x="115" y="364" width="6" height="6" fill="#7c03fe"/><rect x="121" y="364" width="7" height="6" fill="#7602f8"/><rect x="128" y="364" width="6" height="6" fill="#7002ee"/><rect x="134" y="364" width="6" height="6" fill="#6b01e3"/><rect x="140" y="364" width="6" height="6" fill="#6601d8"/><rect x="146" y="364" width="7" height="6" fill="#6201cc"/><rect x="153" y="364" width="6" height="6" fill="#5d01be"/><rect x="159" y="364" width="6" height="6" fill="#5800ae"/><rect x="165" y="364" width="6" height="6" fill="#53009d"/><rect x="171" y="364" width="7" height="6" fill="#4e008c"/><rect x="178" y="364" width="6" height="6" fill="#49007c"/><rect x="184" y="364" width="6" height="6" fill="#470078"/><rect x="190" y="364" width="6" height="6" fill="#48007a"/><rect x="196" y="364" width="7" height="6" fill="#460075"/><rect x="203" y="364" width="6" height="6" fill="#450071"/><rect x="209" y="364" width="6" height="6" fill="#44006d"/><rect x="215" y="364" width="6" height="6" fill="#420069"/><rect x="221" y="364" width="7" height="6" fill="#410065"/><rect x="228" y="364" width="6" height="6" fill="#3e005d"/><rect x="234" y="364" width="6" height="6" fill="#3b0055"/><rect x="240" y="364" width="6" height="6" fill="#38004c"/><rect x="246" y="364" width="7" height="6" fill="#350044"/><rect x="253" y="364" width="6" height="6" fill="#31003b"/><rect x="259" y="364" width="6" height="6" fill="#2d0033"/><rect x="265" y="364" width="75" height="6" fill="#2c0030"/><rect x="340" y="364" width="13" height="6" fill="#110007"/><rect x="353" y="364" width="6" height="6" fill="#32003d"/><rect x="359" y="364" width="6" height="6" fill="#37004b"/><rect x="365" y="364" width="6" height="6" fill="#450071"/><rect x="371" y="364" width="7" height="6" fill="#5700aa"/><rect x="378" y="364" width="6" height="6" fill="#6301cf"/><rect x="384" y="364" width="6" height="6" fill="#6b01e4"/><rect x="390" y="364" width="6" height="6" fill="#7302f3"/><rect x="396" y="364" width="7" height="6" fill="#7703fa"/><rect x="403" y="364" width="6" height="6" fill="#7703f9"/><rect x="409" y="364" width="6" height="6" fill="#7102f0"/><rect x="415" y="364" width="6" height="6" fill="#6f02ed"/><rect x="421" y="364" width="7" height="6" fill="#7302f4"/><rect x="428" y="364" width="6" height="6" fill="#7603f9"/><rect x="434" y="364" width="6" height="6" fill="#7a03fd"/><rect x="440" y="364" width="6" height="6" fill="#7c03fe"/><rect x="446" y="364" width="7" height="6" fill="#7e04ff"/><rect x="453" y="364" width="6" height="6" fill="#8305fe"/><rect x="459" y="364" width="12" height="6" fill="#8505fd"/><rect x="471" y="364" width="7" height="6" fill="#8405fe"/><rect x="478" y="364" width="12" height="6" fill="#7f04ff"/><rect x="490" y="364" width="13" height="6" fill="#7e04ff"/><rect x="503" y="364" width="6" height="6" fill="#7d03fe"/><rect x="509" y="364" width="12" height="6" fill="#7b03fe"/><rect x="521" y="364" width="3" height="6" fill="#7c03fe"/>
<rect x="75" y="370" width="3" height="5" fill="#8906f8"/><rect x="78" y="370" width="6" height="5" fill="#8806f9"/><rect x="84" y="370" width="6" height="5" fill="#8706fb"/><rect x="90" y="370" width="6" height="5" fill="#8505fd"/><rect x="96" y="370" width="7" height="5" fill="#8305fe"/><rect x="103" y="370" width="6" height="5" fill="#8204ff"/><rect x="109" y="370" width="6" height="5" fill="#8004ff"/><rect x="115" y="370" width="6" height="5" fill="#7c03fe"/><rect x="121" y="370" width="7" height="5" fill="#7602f8"/><rect x="128" y="370" width="6" height="5" fill="#7002ee"/><rect x="134" y="370" width="6" height="5" fill="#6b01e3"/><rect x="140" y="370" width="6" height="5" fill="#6601d8"/><rect x="146" y="370" width="7" height="5" fill="#6201cc"/><rect x="153" y="370" width="6" height="5" fill="#5d01be"/><rect x="159" y="370" width="6" height="5" fill="#5800ae"/><rect x="165" y="370" width="6" height="5" fill="#53009d"/><rect x="171" y="370" width="7" height="5" fill="#4e008c"/><rect x="178" y="370" width="6" height="5" fill="#49007c"/><rect x="184" y="370" width="6" height="5" fill="#470078"/><rect x="190" y="370" width="6" height="5" fill="#48007a"/><rect x="196" y="370" width="7" height="5" fill="#460075"/><rect x="203" y="370" width="6" height="5" fill="#450071"/><rect x="209" y="370" width="6" height="5" fill="#44006d"/><rect x="215" y="370" width="6" height="5" fill="#420069"/><rect x="221" y="370" width="7" height="5" fill="#410065"/><rect x="228" y="370" width="6" height="5" fill="#3e005d"/><rect x="234" y="370" width="6" height="5" fill="#3b0055"/><rect x="240" y="370" width="6" height="5" fill="#38004c"/><rect x="246" y="370" width="7" height="5" fill="#350044"/><rect x="253" y="370" width="6" height="5" fill="#31003b"/><rect x="259" y="370" width="6" height="5" fill="#2d0033"/><rect x="265" y="370" width="75" height="5" fill="#2c0030"/><rect x="340" y="370" width="13" height="5" fill="#110007"/><rect x="353" y="370" width="6" height="5" fill="#32003d"/><rect x="359" y="370" width="6" height="5" fill="#37004b"/><rect x="365" y="370" width="6" height="5" fill="#450071"/><rect x="371" y="370" width="7" height="5" fill="#5700aa"/><rect x="378" y="370" width="6" height="5" fill="#6301cf"/><rect x="384" y="370" width="6" height="5" fill="#6b01e4"/><rect x="390" y="370" width="6" height="5" fill="#7202f3"/><rect x="396" y="370" width="7" height="5" fill="#7603f9"/><rect x="403" y="370" width="6" height="5" fill="#7302f4"/><rect x="409" y="370" width="6" height="5" fill="#6b01e5"/><rect x="415" y="370" width="6" height="5" fill="#6a01e2"/><rect x="421" y="370" width="7" height="5" fill="#6e02eb"/><rect x="428" y="370" width="6" height="5" fill="#7102f0"/><rect x="434" y="370" width="6" height="5" fill="#7202f3"/><rect x="440" y="370" width="6" height="5" fill="#7502f7"/><rect x="446" y="370" width="7" height="5" fill="#7703fa"/><rect x="453" y="370" width="6" height="5" fill="#7903fc"/><rect x="459" y="370" width="12" height="5" fill="#7c03fe"/><rect x="471" y="370" width="19" height="5" fill="#7d04ff"/><rect x="490" y="370" width="6" height="5" fill="#7d03fe"/><rect x="496" y="370" width="28" height="5" fill="#7c03fe"/>
<rect x="75" y="375" width="3" height="5" fill="#8b07f4"/><rect x="78" y="375" width="6" height="5" fill="#8906f7"/><rect x="84" y="375" width="6" height="5" fill="#8706fa"/><rect x="90" y="375" width="6" height="5" fill="#8505fd"/><rect x="96" y="375" width="7" height="5" fill="#8305fe"/><rect x="103" y="375" width="6" height="5" fill="#8104ff"/><rect x="109" y="375" width="6" height="5" fill="#7f04ff"/><rect x="115" y="375" width="6" height="5" fill="#7b03fe"/><rect x="121" y="375" width="7" height="5" fill="#7602f8"/><rect x="128" y="375" width="6" height="5" fill="#7002ee"/><rect x="134" y="375" width="6" height="5" fill="#6b01e3"/><rect x="140" y="375" width="6" height="5" fill="#6601d8"/><rect x="146" y="375" width="7" height="5" fill="#6201cc"/><rect x="153" y="375" width="6" height="5" fill="#5d01be"/><rect x="159" y="375" width="6" height="5" fill="#5800ae"/><rect x="165" y="375" width="6" height="5" fill="#53009d"/><rect x="171" y="375" width="7" height="5" fill="#4e008c"/><rect x="178" y="375" width="6" height="5" fill="#49007c"/><rect x="184" y="375" width="6" height="5" fill="#470078"/><rect x="190" y="375" width="6" height="5" fill="#48007a"/><rect x="196" y="375" width="7" height="5" fill="#460075"/><rect x="203" y="375" width="6" height="5" fill="#450071"/><rect x="209" y="375" width="6" height="5" fill="#44006d"/><rect x="215" y="375" width="6" height="5" fill="#420069"/><rect x="221" y="375" width="7" height="5" fill="#410065"/><rect x="228" y="375" width="6" height="5" fill="#3e005d"/><rect x="234" y="375" width="6" height="5" fill="#3b0055"/><rect x="240" y="375" width="6" height="5" fill="#38004c"/><rect x="246" y="375" width="7" height="5" fill="#350044"/><rect x="253" y="375" width="6" height="5" fill="#31003b"/><rect x="259" y="375" width="6" height="5" fill="#2d0033"/><rect x="265" y="375" width="50" height="5" fill="#2c0030"/><rect x="315" y="375" width="13" height="5" fill="#110007"/><rect x="328" y="375" width="25" height="5" fill="#2c0030"/><rect x="353" y="375" width="6" height="5" fill="#32003d"/><rect x="359" y="375" width="6" height="5" fill="#37004b"/><rect x="365" y="375" width="6" height="5" fill="#450071"/><rect x="371" y="375" width="7" height="5" fill="#5700aa"/><rect x="378" y="375" width="6" height="5" fill="#6301cf"/><rect x="384" y="375" width="6" height="5" fill="#6b01e4"/><rect x="390" y="375" width="6" height="5" fill="#7202f2"/><rect x="396" y="375" width="7" height="5" fill="#7402f6"/><rect x="403" y="375" width="6" height="5" fill="#6e02ea"/><rect x="409" y="375" width="6" height="5" fill="#6601d6"/><rect x="415" y="375" width="6" height="5" fill="#6501d3"/><rect x="421" y="375" width="7" height="5" fill="#6701d9"/><rect x="428" y="375" width="6" height="5" fill="#6901de"/><rect x="434" y="375" width="6" height="5" fill="#6a01e2"/><rect x="440" y="375" width="6" height="5" fill="#6c01e6"/><rect x="446" y="375" width="7" height="5" fill="#6e02eb"/><rect x="453" y="375" width="6" height="5" fill="#7002ef"/><rect x="459" y="375" width="6" height="5" fill="#7202f3"/><rect x="465" y="375" width="6" height="5" fill="#7402f6"/><rect x="471" y="375" width="7" height="5" fill="#7803fb"/><rect x="478" y="375" width="6" height="5" fill="#7a03fd"/><rect x="484" y="375" width="6" height="5" fill="#7b03fd"/><rect x="490" y="375" width="6" height="5" fill="#7a03fd"/><rect x="496" y="375" width="7" height="5" fill="#7b03fd"/><rect x="503" y="375" width="12" height="5" fill="#7c03fe"/><rect x="515" y="375" width="6" height="5" fill="#7d04ff"/><rect x="521" y="375" width="3" height="5" fill="#7e04ff"/>
<rect x="75" y="380" width="3" height="5" fill="#8b07f4"/><rect x="78" y="380" width="6" height="5" fill="#8806f8"/><rect x="84" y="380" width="6" height="5" fill="#8605fb"/><rect x="90" y="380" width="6" height="5" fill="#8405fd"/><rect x="96" y="380" width="7" height="5" fill="#8204ff"/><rect x="103" y="380" width="6" height="5" fill="#8004ff"/><rect x="109" y="380" width="6" height="5" fill="#7e04ff"/><rect x="115" y="380" width="6" height="5" fill="#7a03fd"/><rect x="121" y="380" width="7" height="5" fill="#7502f8"/><rect x="128" y="380" width="6" height="5" fill="#6f02ed"/><rect x="134" y="380" width="6" height="5" fill="#6a01e2"/><rect x="140" y="380" width="6" height="5" fill="#6601d7"/><rect x="146" y="380" width="7" height="5" fill="#6101cb"/><rect x="153" y="380" width="6" height="5" fill="#5d01be"/><rect x="159" y="380" width="6" height="5" fill="#5800ae"/><rect x="165" y="380" width="6" height="5" fill="#53009d"/><rect x="171" y="380" width="7" height="5" fill="#4e008c"/><rect x="178" y="380" width="6" height="5" fill="#49007c"/><rect x="184" y="380" width="6" height="5" fill="#470078"/><rect x="190" y="380" width="6" height="5" fill="#48007a"/><rect x="196" y="380" width="7" height="5" fill="#460075"/><rect x="203" y="380" width="6" height="5" fill="#450071"/><rect x="209" y="380" width="6" height="5" fill="#44006d"/><rect x="215" y="380" width="6" height="5" fill="#420069"/><rect x="221" y="380" width="7" height="5" fill="#410065"/><rect x="228" y="380" width="6" height="5" fill="#3e005d"/><rect x="234" y="380" width="6" height="5" fill="#3b0055"/><rect x="240" y="380" width="6" height="5" fill="#38004c"/><rect x="246" y="380" width="7" height="5" fill="#360047"/><rect x="253" y="380" width="6" height="5" fill="#32003e"/><rect x="259" y="380" width="6" height="5" fill="#2f0035"/><rect x="265" y="380" width="6" height="5" fill="#2e0034"/><rect x="271" y="380" width="7" height="5" fill="#300038"/><rect x="278" y="380" width="81" height="5" fill="#32003d"/><rect x="359" y="380" width="6" height="5" fill="#37004b"/><rect x="365" y="380" width="6" height="5" fill="#450071"/><rect x="371" y="380" width="7" height="5" fill="#5700aa"/><rect x="378" y="380" width="6" height="5" fill="#6301cf"/><rect x="384" y="380" width="6" height="5" fill="#6b01e4"/><rect x="390" y="380" width="6" height="5" fill="#7202f2"/><rect x="396" y="380" width="7" height="5" fill="#7302f5"/><rect x="403" y="380" width="6" height="5" fill="#6901e0"/><rect x="409" y="380" width="6" height="5" fill="#5f01c4"/><rect x="415" y="380" width="6" height="5" fill="#5d01bf"/><rect x="421" y="380" width="7" height="5" fill="#6001c5"/><rect x="428" y="380" width="6" height="5" fill="#6201cb"/><rect x="434" y="380" width="6" height="5" fill="#6301cf"/><rect x="440" y="380" width="6" height="5" fill="#6501d4"/><rect x="446" y="380" width="7" height="5" fill="#6601d9"/><rect x="453" y="380" width="6" height="5" fill="#6801dd"/><rect x="459" y="380" width="6" height="5" fill="#6a01e1"/><rect x="465" y="380" width="6" height="5" fill="#6d02e9"/><rect x="471" y="380" width="7" height="5" fill="#7202f3"/><rect x="478" y="380" width="6" height="5" fill="#7703f9"/><rect x="484" y="380" width="6" height="5" fill="#7803fb"/><rect x="490" y="380" width="6" height="5" fill="#7a03fd"/><rect x="496" y="380" width="7" height="5" fill="#7b03fd"/><rect x="503" y="380" width="12" height="5" fill="#7c03fe"/><rect x="515" y="380" width="9" height="5" fill="#7e04ff"/>
<rect x="75" y="385" width="3" height="5" fill="#8706fb"/><rect x="78" y="385" width="6" height="5" fill="#8605fb"/><rect x="84" y="385" width="6" height="5" fill="#8405fd"/><rect x="90" y="385" width="6" height="5" fill="#8204ff"/><rect x="96" y="385" width="7" height="5" fill="#8004ff"/><rect x="103" y="385" width="6" height="5" fill="#7e04ff"/><rect x="109" y="385" width="6" height="5" fill="#7b03fe"/><rect x="115" y="385" width="6" height="5" fill="#7703fa"/><rect x="121" y="385" width="7" height="5" fill="#7302f4"/><rect x="128" y="385" width="6" height="5" fill="#6e02ea"/><rect x="134" y="385" width="6" height="5" fill="#6901df"/><rect x="140" y="385" width="6" height="5" fill="#6501d5"/><rect x="146" y="385" width="7" height="5" fill="#6101cb"/><rect x="153" y="385" width="6" height="5" fill="#5d01be"/><rect x="159" y="385" width="6" height="5" fill="#5800ae"/><rect x="165" y="385" width="6" height="5" fill="#53009d"/><rect x="171" y="385" width="7" height="5" fill="#4e008c"/><rect x="178" y="385" width="6" height="5" fill="#4a0081"/><rect x="184" y="385" width="6" height="5" fill="#480079"/><rect x="190" y="385" width="6" height="5" fill="#48007a"/><rect x="196" y="385" width="7" height="5" fill="#460075"/><rect x="203" y="385" width="6" height="5" fill="#450071"/><rect x="209" y="385" width="6" height="5" fill="#44006d"/><rect x="215" y="385" width="6" height="5" fill="#420069"/><rect x="221" y="385" width="7" height="5" fill="#410065"/><rect x="228" y="385" width="6" height="5" fill="#3e005d"/><rect x="234" y="385" width="6" height="5" fill="#3b0055"/><rect x="240" y="385" width="6" height="5" fill="#38004c"/><rect x="246" y="385" width="7" height="5" fill="#360047"/><rect x="253" y="385" width="6" height="5" fill="#340043"/><rect x="259" y="385" width="6" height="5" fill="#32003c"/><rect x="265" y="385" width="6" height="5" fill="#31003a"/><rect x="271" y="385" width="7" height="5" fill="#31003c"/><rect x="278" y="385" width="81" height="5" fill="#32003d"/><rect x="359" y="385" width="6" height="5" fill="#3c0058"/><rect x="365" y="385" width="6" height="5" fill="#49007d"/><rect x="371" y="385" width="7" height="5" fill="#5700aa"/><rect x="378" y="385" width="6" height="5" fill="#6301cf"/><rect x="384" y="385" width="6" height="5" fill="#6b01e4"/><rect x="390" y="385" width="6" height="5" fill="#6501d3"/><rect x="396" y="385" width="7" height="5" fill="#6901df"/><rect x="403" y="385" width="6" height="5" fill="#6301cf"/><rect x="409" y="385" width="6" height="5" fill="#5d01bd"/><rect x="415" y="385" width="6" height="5" fill="#5c01b9"/><rect x="421" y="385" width="7" height="5" fill="#5d01bd"/><rect x="428" y="385" width="6" height="5" fill="#5f01c3"/><rect x="434" y="385" width="6" height="5" fill="#6001c6"/><rect x="440" y="385" width="6" height="5" fill="#6101c8"/><rect x="446" y="385" width="7" height="5" fill="#6201cd"/><rect x="453" y="385" width="6" height="5" fill="#6401d2"/><rect x="459" y="385" width="6" height="5" fill="#6601d7"/><rect x="465" y="385" width="6" height="5" fill="#6901e0"/><rect x="471" y="385" width="7" height="5" fill="#6f02ed"/><rect x="478" y="385" width="6" height="5" fill="#7402f6"/><rect x="484" y="385" width="6" height="5" fill="#7703fa"/><rect x="490" y="385" width="6" height="5" fill="#7903fc"/><rect x="496" y="385" width="7" height="5" fill="#7b03fd"/><rect x="503" y="385" width="12" height="5" fill="#7c03fe"/><rect x="515" y="385" width="9" height="5" fill="#7e04ff"/>
<rect x="75" y="390" width="3" height="5" fill="#8706fb"/><rect x="78" y="390" width="6" height="5" fill="#8305fe"/><rect x="84" y="390" width="6" height="5" fill="#8104ff"/><rect x="90" y="390" width="6" height="5" fill="#7e04ff"/><rect x="96" y="390" width="7" height="5" fill="#7d03fe"/><rect x="103" y="390" width="6" height="5" fill="#7b03fd"/><rect x="109" y="390" width="6" height="5" fill="#7803fb"/><rect x="115" y="390" width="6" height="5" fill="#7402f6"/><rect x="121" y="390" width="7" height="5" fill="#7002ef"/><rect x="128" y="390" width="6" height="5" fill="#6b01e4"/><rect x="134" y="390" width="6" height="5" fill="#6801dd"/><rect x="140" y="390" width="6" height="5" fill="#6501d3"/><rect x="146" y="390" width="7" height="5" fill="#6101c9"/><rect x="153" y="390" width="6" height="5" fill="#5d01bc"/><rect x="159" y="390" width="6" height="5" fill="#5800ac"/><rect x="165" y="390" width="6" height="5" fill="#52009c"/><rect x="171" y="390" width="7" height="5" fill="#4f0091"/><rect x="178" y="390" width="6" height="5" fill="#4c0087"/><rect x="184" y="390" width="6" height="5" fill="#4a0082"/><rect x="190" y="390" width="6" height="5" fill="#49007e"/><rect x="196" y="390" width="7" height="5" fill="#48007a"/><rect x="203" y="390" width="6" height="5" fill="#460076"/><rect x="209" y="390" width="6" height="5" fill="#450072"/><rect x="215" y="390" width="6" height="5" fill="#44006e"/><rect x="221" y="390" width="7" height="5" fill="#420068"/><rect x="228" y="390" width="6" height="5" fill="#3f0060"/><rect x="234" y="390" width="6" height="5" fill="#3c0057"/><rect x="240" y="390" width="6" height="5" fill="#3a0050"/><rect x="246" y="390" width="7" height="5" fill="#38004c"/><rect x="253" y="390" width="6" height="5" fill="#360048"/><rect x="259" y="390" width="6" height="5" fill="#350044"/><rect x="265" y="390" width="6" height="5" fill="#39004e"/><rect x="271" y="390" width="7" height="5" fill="#3d005a"/><rect x="278" y="390" width="75" height="5" fill="#410064"/><rect x="353" y="390" width="6" height="5" fill="#3c0058"/><rect x="359" y="390" width="12" height="5" fill="#450071"/><rect x="371" y="390" width="7" height="5" fill="#5700aa"/><rect x="378" y="390" width="6" height="5" fill="#6301cf"/><rect x="384" y="390" width="6" height="5" fill="#6b01e4"/><rect x="390" y="390" width="6" height="5" fill="#6501d3"/><rect x="396" y="390" width="7" height="5" fill="#6901df"/><rect x="403" y="390" width="6" height="5" fill="#6101c8"/><rect x="409" y="390" width="6" height="5" fill="#5b01b6"/><rect x="415" y="390" width="6" height="5" fill="#5a01b5"/><rect x="421" y="390" width="7" height="5" fill="#5b01b8"/><rect x="428" y="390" width="6" height="5" fill="#5c01bb"/><rect x="434" y="390" width="6" height="5" fill="#5d01be"/><rect x="440" y="390" width="6" height="5" fill="#5e01c1"/><rect x="446" y="390" width="7" height="5" fill="#5f01c4"/><rect x="453" y="390" width="6" height="5" fill="#6101c9"/><rect x="459" y="390" width="6" height="5" fill="#6301cf"/><rect x="465" y="390" width="6" height="5" fill="#6601d8"/><rect x="471" y="390" width="7" height="5" fill="#6d02e8"/><rect x="478" y="390" width="6" height="5" fill="#7302f4"/><rect x="484" y="390" width="6" height="5" fill="#7602f8"/><rect x="490" y="390" width="6" height="5" fill="#7803fb"/><rect x="496" y="390" width="7" height="5" fill="#7903fc"/><rect x="503" y="390" width="6" height="5" fill="#7b03fd"/><rect x="509" y="390" width="6" height="5" fill="#7c03fe"/><rect x="515" y="390" width="6" height="5" fill="#7d04ff"/><rect x="521" y="390" width="3" height="5" fill="#7e04ff"/>
<rect x="75" y="395" width="3" height="5" fill="#7a03fc"/><rect x="78" y="395" width="6" height="5" fill="#7d03fe"/><rect x="84" y="395" width="6" height="5" fill="#7b03fe"/><rect x="90" y="395" width="6" height="5" fill="#7903fc"/><rect x="96" y="395" width="7" height="5" fill="#7703fa"/><rect x="103" y="395" width="6" height="5" fill="#7602f8"/><rect x="109" y="395" width="6" height="5" fill="#7402f5"/><rect x="115" y="395" width="6" height="5" fill="#7002ee"/><rect x="121" y="395" width="7" height="5" fill="#6c01e7"/><rect x="128" y="395" width="6" height="5" fill="#6801dd"/><rect x="134" y="395" width="6" height="5" fill="#6501d6"/><rect x="140" y="395" width="6" height="5" fill="#6301ce"/><rect x="146" y="395" width="7" height="5" fill="#5f01c5"/><rect x="153" y="395" width="6" height="5" fill="#5b01b7"/><rect x="159" y="395" width="6" height="5" fill="#5700ab"/><rect x="165" y="395" width="6" height="5" fill="#5400a1"/><rect x="171" y="395" width="7" height="5" fill="#510097"/><rect x="178" y="395" width="6" height="5" fill="#4f0091"/><rect x="184" y="395" width="6" height="5" fill="#4e008d"/><rect x="190" y="395" width="6" height="5" fill="#4d008a"/><rect x="196" y="395" width="7" height="5" fill="#4c0086"/><rect x="203" y="395" width="6" height="5" fill="#4a0082"/><rect x="209" y="395" width="6" height="5" fill="#49007e"/><rect x="215" y="395" width="6" height="5" fill="#470076"/><rect x="221" y="395" width="7" height="5" fill="#44006e"/><rect x="228" y="395" width="6" height="5" fill="#410066"/><rect x="234" y="395" width="6" height="5" fill="#400062"/><rect x="240" y="395" width="6" height="5" fill="#3e005d"/><rect x="246" y="395" width="7" height="5" fill="#3d0059"/><rect x="253" y="395" width="6" height="5" fill="#3b0055"/><rect x="259" y="395" width="6" height="5" fill="#3a0051"/><rect x="265" y="395" width="6" height="5" fill="#3e005b"/><rect x="271" y="395" width="7" height="5" fill="#43006d"/><rect x="278" y="395" width="75" height="5" fill="#49007d"/><rect x="353" y="395" width="6" height="5" fill="#450071"/><rect x="359" y="395" width="12" height="5" fill="#4d0089"/><rect x="371" y="395" width="7" height="5" fill="#6001c6"/><rect x="378" y="395" width="12" height="5" fill="#5d01bd"/><rect x="390" y="395" width="6" height="5" fill="#6501d3"/><rect x="396" y="395" width="7" height="5" fill="#6901df"/><rect x="403" y="395" width="6" height="5" fill="#5f01c3"/><rect x="409" y="395" width="19" height="5" fill="#5a00b4"/><rect x="428" y="395" width="6" height="5" fill="#5b01b7"/><rect x="434" y="395" width="6" height="5" fill="#5c01ba"/><rect x="440" y="395" width="6" height="5" fill="#5d01bd"/><rect x="446" y="395" width="7" height="5" fill="#5e01c0"/><rect x="453" y="395" width="6" height="5" fill="#6001c5"/><rect x="459" y="395" width="6" height="5" fill="#6101cb"/><rect x="465" y="395" width="6" height="5" fill="#6501d4"/><rect x="471" y="395" width="7" height="5" fill="#6c01e5"/><rect x="478" y="395" width="6" height="5" fill="#7202f2"/><rect x="484" y="395" width="6" height="5" fill="#7502f7"/><rect x="490" y="395" width="6" height="5" fill="#7703f9"/><rect x="496" y="395" width="7" height="5" fill="#7803fb"/><rect x="503" y="395" width="6" height="5" fill="#7a03fd"/><rect x="509" y="395" width="6" height="5" fill="#7b03fd"/><rect x="515" y="395" width="9" height="5" fill="#7c03fe"/>
<rect x="75" y="400" width="3" height="6" fill="#7a03fc"/><rect x="78" y="400" width="6" height="6" fill="#7703f9"/><rect x="84" y="400" width="6" height="6" fill="#7502f7"/><rect x="90" y="400" width="6" height="6" fill="#7402f5"/><rect x="96" y="400" width="7" height="6" fill="#7202f2"/><rect x="103" y="400" width="6" height="6" fill="#7002ef"/><rect x="109" y="400" width="6" height="6" fill="#6e02ec"/><rect x="115" y="400" width="6" height="6" fill="#6b01e5"/><rect x="121" y="400" width="7" height="6" fill="#6801dd"/><rect x="128" y="400" width="6" height="6" fill="#6501d3"/><rect x="134" y="400" width="6" height="6" fill="#6301ce"/><rect x="140" y="400" width="6" height="6" fill="#6001c6"/><rect x="146" y="400" width="7" height="6" fill="#5d01bd"/><rect x="153" y="400" width="6" height="6" fill="#5c01ba"/><rect x="159" y="400" width="6" height="6" fill="#5900b0"/><rect x="165" y="400" width="6" height="6" fill="#5600a6"/><rect x="171" y="400" width="7" height="6" fill="#53009f"/><rect x="178" y="400" width="6" height="6" fill="#52009a"/><rect x="184" y="400" width="6" height="6" fill="#52009b"/><rect x="190" y="400" width="6" height="6" fill="#510098"/><rect x="196" y="400" width="7" height="6" fill="#500094"/><rect x="203" y="400" width="6" height="6" fill="#4f0090"/><rect x="209" y="400" width="6" height="6" fill="#4d008a"/><rect x="215" y="400" width="6" height="6" fill="#4b0083"/><rect x="221" y="400" width="7" height="6" fill="#48007b"/><rect x="228" y="400" width="6" height="6" fill="#470077"/><rect x="234" y="400" width="6" height="6" fill="#460073"/><rect x="240" y="400" width="6" height="6" fill="#44006f"/><rect x="246" y="400" width="7" height="6" fill="#43006b"/><rect x="253" y="400" width="6" height="6" fill="#420067"/><rect x="259" y="400" width="6" height="6" fill="#400063"/><rect x="265" y="400" width="6" height="6" fill="#43006c"/><rect x="271" y="400" width="7" height="6" fill="#4a0080"/><rect x="278" y="400" width="75" height="6" fill="#500094"/><rect x="353" y="400" width="6" height="6" fill="#4d0089"/><rect x="359" y="400" width="12" height="6" fill="#54009f"/><rect x="371" y="400" width="7" height="6" fill="#6001c6"/><rect x="378" y="400" width="12" height="6" fill="#5d01bd"/><rect x="390" y="400" width="6" height="6" fill="#6501d3"/><rect x="396" y="400" width="7" height="6" fill="#6901df"/><rect x="403" y="400" width="6" height="6" fill="#5f01c3"/><rect x="409" y="400" width="19" height="6" fill="#5a00b4"/><rect x="428" y="400" width="6" height="6" fill="#5900b0"/><rect x="434" y="400" width="6" height="6" fill="#5a00b3"/><rect x="440" y="400" width="6" height="6" fill="#5b01b6"/><rect x="446" y="400" width="7" height="6" fill="#5c01b9"/><rect x="453" y="400" width="6" height="6" fill="#5e01bf"/><rect x="459" y="400" width="6" height="6" fill="#6001c6"/><rect x="465" y="400" width="6" height="6" fill="#6401d1"/><rect x="471" y="400" width="7" height="6" fill="#6a01e2"/><rect x="478" y="400" width="6" height="6" fill="#7002ef"/><rect x="484" y="400" width="6" height="6" fill="#7302f5"/><rect x="490" y="400" width="6" height="6" fill="#7602f8"/><rect x="496" y="400" width="7" height="6" fill="#7703fa"/><rect x="503" y="400" width="6" height="6" fill="#7903fb"/><rect x="509" y="400" width="6" height="6" fill="#7903fc"/><rect x="515" y="400" width="6" height="6" fill="#7a03fd"/><rect x="521" y="400" width="3" height="6" fill="#7c03fe"/>
<rect x="75" y="406" width="3" height="5" fill="#7002ef"/><rect x="78" y="406" width="6" height="5" fill="#7202f2"/><rect x="84" y="406" width="6" height="5" fill="#7102f0"/><rect x="90" y="406" width="6" height="5" fill="#7002ef"/><rect x="96" y="406" width="7" height="5" fill="#6e02ea"/><rect x="103" y="406" width="6" height="5" fill="#6b01e4"/><rect x="109" y="406" width="6" height="5" fill="#6901e0"/><rect x="115" y="406" width="6" height="5" fill="#6601d8"/><rect x="121" y="406" width="7" height="5" fill="#6301ce"/><rect x="128" y="406" width="6" height="5" fill="#5f01c3"/><rect x="134" y="406" width="6" height="5" fill="#5d01bd"/><rect x="140" y="406" width="6" height="5" fill="#5c01ba"/><rect x="146" y="406" width="7" height="5" fill="#5a00b4"/><rect x="153" y="406" width="12" height="5" fill="#5900b0"/><rect x="165" y="406" width="6" height="5" fill="#5700ac"/><rect x="171" y="406" width="7" height="5" fill="#5500a4"/><rect x="178" y="406" width="6" height="5" fill="#5600a7"/><rect x="184" y="406" width="6" height="5" fill="#5700ab"/><rect x="190" y="406" width="6" height="5" fill="#5600a8"/><rect x="196" y="406" width="7" height="5" fill="#5500a4"/><rect x="203" y="406" width="6" height="5" fill="#5400a0"/><rect x="209" y="406" width="6" height="5" fill="#53009d"/><rect x="215" y="406" width="6" height="5" fill="#520099"/><rect x="221" y="406" width="7" height="5" fill="#500093"/><rect x="228" y="406" width="6" height="5" fill="#4e008f"/><rect x="234" y="406" width="6" height="5" fill="#4d008b"/><rect x="240" y="406" width="6" height="5" fill="#4c0087"/><rect x="246" y="406" width="7" height="5" fill="#4b0083"/><rect x="253" y="406" width="6" height="5" fill="#4a0080"/><rect x="259" y="406" width="6" height="5" fill="#48007c"/><rect x="265" y="406" width="6" height="5" fill="#4b0084"/><rect x="271" y="406" width="7" height="5" fill="#4f0092"/><rect x="278" y="406" width="75" height="5" fill="#54009f"/><rect x="353" y="406" width="6" height="5" fill="#500094"/><rect x="359" y="406" width="12" height="5" fill="#5700aa"/><rect x="371" y="406" width="7" height="5" fill="#6001c6"/><rect x="378" y="406" width="12" height="5" fill="#5d01bd"/><rect x="390" y="406" width="6" height="5" fill="#6501d3"/><rect x="396" y="406" width="7" height="5" fill="#6901df"/><rect x="403" y="406" width="6" height="5" fill="#5f01c3"/><rect x="409" y="406" width="12" height="5" fill="#5a00b4"/><rect x="421" y="406" width="7" height="5" fill="#5800ad"/><rect x="428" y="406" width="6" height="5" fill="#5600a6"/><rect x="434" y="406" width="6" height="5" fill="#5700a9"/><rect x="440" y="406" width="6" height="5" fill="#5800ac"/><rect x="446" y="406" width="7" height="5" fill="#5900af"/><rect x="453" y="406" width="6" height="5" fill="#5b01b8"/><rect x="459" y="406" width="6" height="5" fill="#5f01c2"/><rect x="465" y="406" width="6" height="5" fill="#6201cc"/><rect x="471" y="406" width="7" height="5" fill="#6901df"/><rect x="478" y="406" width="6" height="5" fill="#6f02ed"/><rect x="484" y="406" width="6" height="5" fill="#7202f3"/><rect x="490" y="406" width="6" height="5" fill="#7402f6"/><rect x="496" y="406" width="7" height="5" fill="#7602f8"/><rect x="503" y="406" width="6" height="5" fill="#7703fa"/><rect x="509" y="406" width="12" height="5" fill="#7803fb"/><rect x="521" y="406" width="3" height="5" fill="#7703fa"/>
<rect x="75" y="411" width="3" height="5" fill="#7002ef"/><rect x="78" y="411" width="6" height="5" fill="#6f02ee"/><rect x="84" y="411" width="6" height="5" fill="#6f02ec"/><rect x="90" y="411" width="6" height="5" fill="#6e02ea"/><rect x="96" y="411" width="7" height="5" fill="#6b01e5"/><rect x="103" y="411" width="6" height="5" fill="#6901df"/><rect x="109" y="411" width="6" height="5" fill="#6501d6"/><rect x="115" y="411" width="6" height="5" fill="#6101c9"/><rect x="121" y="411" width="7" height="5" fill="#5e01bf"/><rect x="128" y="411" width="6" height="5" fill="#5a00b4"/><rect x="134" y="411" width="6" height="5" fill="#5800ae"/><rect x="140" y="411" width="6" height="5" fill="#5700ab"/><rect x="146" y="411" width="19" height="5" fill="#5700aa"/><rect x="165" y="411" width="6" height="5" fill="#5700ab"/><rect x="171" y="411" width="7" height="5" fill="#5900b1"/><rect x="178" y="411" width="6" height="5" fill="#5b01b7"/><rect x="184" y="411" width="6" height="5" fill="#5c01ba"/><rect x="190" y="411" width="6" height="5" fill="#5b01b7"/><rect x="196" y="411" width="7" height="5" fill="#5a00b4"/><rect x="203" y="411" width="6" height="5" fill="#5900b0"/><rect x="209" y="411" width="6" height="5" fill="#5800ad"/><rect x="215" y="411" width="6" height="5" fill="#5700a9"/><rect x="221" y="411" width="7" height="5" fill="#5600a6"/><rect x="228" y="411" width="6" height="5" fill="#5500a3"/><rect x="234" y="411" width="6" height="5" fill="#54009f"/><rect x="240" y="411" width="6" height="5" fill="#52009c"/><rect x="246" y="411" width="7" height="5" fill="#52009b"/><rect x="253" y="411" width="6" height="5" fill="#510098"/><rect x="259" y="411" width="6" height="5" fill="#500095"/><rect x="265" y="411" width="6" height="5" fill="#520099"/><rect x="271" y="411" width="7" height="5" fill="#5400a2"/><rect x="278" y="411" width="75" height="5" fill="#5700aa"/><rect x="353" y="411" width="6" height="5" fill="#54009f"/><rect x="359" y="411" width="12" height="5" fill="#5a00b4"/><rect x="371" y="411" width="7" height="5" fill="#6001c6"/><rect x="378" y="411" width="12" height="5" fill="#5d01bd"/><rect x="390" y="411" width="6" height="5" fill="#6501d3"/><rect x="396" y="411" width="7" height="5" fill="#6901df"/><rect x="403" y="411" width="6" height="5" fill="#5f01c3"/><rect x="409" y="411" width="6" height="5" fill="#5a00b4"/><rect x="415" y="411" width="6" height="5" fill="#5800ae"/><rect x="421" y="411" width="7" height="5" fill="#5600a7"/><rect x="428" y="411" width="6" height="5" fill="#53009c"/><rect x="434" y="411" width="6" height="5" fill="#54009f"/><rect x="440" y="411" width="6" height="5" fill="#5500a3"/><rect x="446" y="411" width="7" height="5" fill="#5700a9"/><rect x="453" y="411" width="6" height="5" fill="#5a01b5"/><rect x="459" y="411" width="6" height="5" fill="#5e01bf"/><rect x="465" y="411" width="6" height="5" fill="#6101ca"/><rect x="471" y="411" width="7" height="5" fill="#6801dd"/><rect x="478" y="411" width="6" height="5" fill="#6e02eb"/><rect x="484" y="411" width="6" height="5" fill="#7202f2"/><rect x="490" y="411" width="6" height="5" fill="#7402f5"/><rect x="496" y="411" width="7" height="5" fill="#7502f7"/><rect x="503" y="411" width="6" height="5" fill="#7603f9"/><rect x="509" y="411" width="12" height="5" fill="#7703f9"/><rect x="521" y="411" width="3" height="5" fill="#7703fa"/>
<rect x="75" y="416" width="9" height="2" fill="#7002ef"/><rect x="84" y="416" width="19" height="2" fill="#6e02ea"/><rect x="103" y="416" width="12" height="2" fill="#6301cf"/><rect x="115" y="416" width="13" height="2" fill="#5a00b4"/><rect x="128" y="416" width="31" height="2" fill="#5700aa"/><rect x="159" y="416" width="19" height="2" fill="#5a00b4"/><rect x="178" y="416" width="18" height="2" fill="#6001c6"/><rect x="196" y="416" width="19" height="2" fill="#5d01bd"/><rect x="215" y="416" width="19" height="2" fill="#5a00b4"/><rect x="234" y="416" width="37" height="2" fill="#5700aa"/><rect x="271" y="416" width="82" height="2" fill="#5a00b4"/><rect x="353" y="416" width="6" height="2" fill="#5700aa"/><rect x="359" y="416" width="12" height="2" fill="#5d01bd"/><rect x="371" y="416" width="7" height="2" fill="#6001c6"/><rect x="378" y="416" width="12" height="2" fill="#5d01bd"/><rect x="390" y="416" width="6" height="2" fill="#6501d4"/><rect x="396" y="416" width="7" height="2" fill="#6b01e3"/><rect x="403" y="416" width="18" height="2" fill="#5d01be"/><rect x="421" y="416" width="19" height="2" fill="#5400a0"/><rect x="440" y="416" width="13" height="2" fill="#5a00b4"/><rect x="453" y="416" width="12" height="2" fill="#6001c7"/><rect x="465" y="416" width="6" height="2" fill="#6401d2"/><rect x="471" y="416" width="7" height="2" fill="#6c01e6"/><rect x="478" y="416" width="6" height="2" fill="#6e02ea"/><rect x="484" y="416" width="12" height="2" fill="#7302f3"/><rect x="496" y="416" width="28" height="2" fill="#7502f7"/>
</g>
<g class="coast">
<path d="M75.5 104.5 L80 104 L83.5 105.5 L86.5 102.5 L82 100 L77 97.5"/>
<path d="M178.5 100.5 L175 98 L171 99.5 L165 101.5 L157.5 98.5 L151.5 96.5 L145.5 96 L142 95.5 L139 94 L136 95 L132 96.5 L126.5 96 L120.5 94 L113 93.5 L104 93 L96.5 96 L92.5 98.5 L98 100.5 L94.5 102.5 L90.5 103.5 L97.5 104.5 L99 106.5 L95 109 L94.5 114 L98 118 L103 120 L99 124 L97.5 126 L103 122 L106 119.5 L109 116.5 L113.5 114 L120.5 114.5 L126.5 115 L132 118 L136 122 L139 127 L142 130.5 L143 134.5 L145.5 136.5 L147.5 138.5 L144.5 140.5 L144.5 150"/>
<path d="M77.5 132.5 L80 132"/>
<path d="M82 131.5 L83 131"/>
<path d="M87 130.5 L88 130.5"/>
<path d="M90.5 128.5 L92 127"/>
<path d="M109 116.5 L108 119 L110 120.5"/>
<path d="M146.5 86 L150.5 85.5 L152.5 89 L150.5 92 L147.5 93 L146.5 90 L146.5 86"/>
<path d="M152.5 89 L159.5 90 L165 89.5 L168 92 L171 94 L175 96 L171 97.5 L165 96.5 L159.5 94 L155.5 92 L152.5 89"/>
<path d="M148.5 81 L155.5 80 L151.5 82 L148.5 81"/>
<path d="M155.5 82 L161 80.5 L167 82 L165 85 L159.5 86 L155.5 83 L155.5 82"/>
<path d="M169 75.5 L175 77.5 L177.5 80.5 L175.5 83 L174 81 L171 77.5 L169 75.5"/>
<path d="M178.5 77.5 L182.5 81 L187 82"/>
<path d="M173 88 L176.5 86.5 L178.5 90 L175 92 L173 88"/>
<path d="M179.5 93 L184.5 92 L187 95"/>
<path d="M159.5 80.5 L163.5 77.5"/>
<path d="M145.5 101.5 L153.5 101 L150.5 104.5 L145.5 104 L145.5 101.5"/>
<path d="M149.5 106.5 L155.5 109.5 L163 109.5 L160 112 L151.5 112 L155.5 111 L149.5 106.5"/>
<path d="M159.5 118 L167 118.5 L173 120 L176.5 121.5 L174 123 L171 120 L163 119.5 L159.5 118"/>
<path d="M187 106.5 L181 107 L182.5 111.5 L180 115.5 L183.5 120 L187 122"/>
<path d="M176 128.5 L177.5 127 L178.5 134.5 L176.5 135.5 L176 128.5"/>
<path d="M180 137 L183.5 134.5 L185.5 139.5 L187 142.5"/>
<path d="M187.5 71 L190 69.5 L199 69 L204 67.5 L214 67.5 L219 68.5 L221 70 L226 69.5 L235 69 L242.5 69 L245 67.5 L251 66 L260 66"/>
<path d="M187.5 71 L196 71.5 L204 72.5 L200 73 L194 74.5 L196 76 L192 77 L195 77.5 L192.5 80 L189 81.5 L200 80 L205 77.5 L209.5 74.5 L214 71.5 L219 70 L220 71.5 L217.5 74 L214 76.5 L211 79 L215 78 L212.5 80 L216 82 L221 82 L226 84 L230 87 L231 91 L230 91 L235 93 L235 97 L232.5 98 L234 101.5 L235 104 L236 107 L239 113 L244 114 L245 115 L246 111 L248 107 L250.5 104 L255 102 L257.5 100 L260 97.5"/>
<path d="M180 93 L184 92.5 L185 94.5 L187.5 97 L192.5 98 L196 96 L190 94.5 L189 91 L192.5 87 L192.5 92 L194 89 L200 89 L206 90 L210 93 L214 96 L217.5 97.5 L220 100 L221 103 L219 102 L215.5 102.5 L217.5 105 L220 107.5 L216 108.5 L214 110 L210 108 L205 107 L204 106 L209 103 L212.5 101.5 L209 100 L205 97.5 L202.5 94.5 L199 94.5 L197.5 97 L194 100 L189 104 L185 107 L182.5 112 L181 117"/>
<path d="M181 82 L189 82.5 L194 84 L200 83 L197.5 84.5 L191 85 L185 84 L181 82"/>
<path d="M180 80 L182.5 79.5 L181 82"/>
<path d="M182 87 L184.5 86.5 L184.5 88 L182 88 L182 87"/>
<path d="M194 103 L198 107 L196 109 L193 109 L194 103"/>
<path d="M202.5 111.5 L209 112 L211 114.5 L214 117"/>
<path d="M202.5 111.5 L204 116 L205 117"/>
<path d="M184 110 L180.5 117 L184 120.5 L187 122.5 L191 123 L194.5 126 L198 130.5 L201.5 132.5 L203 126 L204 120.5 L203 116.5 L202.5 111.5 L206.5 111.5 L211 112.5 L213.5 115.5 L215.5 117.5 L218.5 116.5 L221.5 117.5 L223.5 121.5 L225.5 125 L227.5 128.5 L230.5 131 L229 132.5 L225.5 134 L220.5 136 L215 138 L211 142.5 L206.5 145 L202.5 148 L198 151 L196.5 149.5 L197.5 146 L195.5 144 L193 145 L191 148.5 L193 146 L191 143 L187.5 141.5 L185.5 140 L188.5 138 L191 139 L194 141.5"/>
<path d="M215 141.5 L212 148 L208 155 L204.5 161.5 L203 166.5 L201 172 L199.5 177"/>
<path d="M227 134 L230.5 133.5 L232.5 140 L233.5 143.5 L230.5 143 L227 140.5 L226.5 136.5 L227 134"/>
<path d="M218 139 L220 142.5 L223.5 144 L220.5 145 L217 146.5 L215.5 144 L218 139"/>
<path d="M222 138 L223.5 137.5"/>
<path d="M170 117.5 L172 118.5 L173 122.5 L177 120.5"/>
<path d="M175.5 131 L177 128.5 L178.5 127.5 L179 135.5 L176.5 134.5 L175.5 131"/>
<path d="M180.5 138 L185 134.5"/>
<path d="M199 122.5 L201.5 123.5"/>
<path d="M189.5 176 L191 177"/>
<path d="M255 66.5 L260.5 66.5 L263.5 67.5 L269 67 L270 69 L267.5 69.5 L267.5 72 L274.5 72 L279 71 L282.5 71.5 L279 72.5 L276 74.5 L274.5 76.5 L276 79 L274 80 L273.5 83 L271 85 L269 87 L267 88 L269 89.5 L272.5 91 L269 92 L265.5 93 L266.5 94.5 L269 95.5 L266.5 97 L262 97.5 L258.5 98.5 L256.5 101.5 L255 102.5"/>
<path d="M270.5 103 L274.5 102.5 L279.5 101.5 L280.5 104 L280.5 106 L277 107.5 L273.5 107 L272 105 L270.5 103"/>
<path d="M289.5 92.5 L289.5 92.5"/>
<path d="M315.5 75.5 L319.5 75 L325.5 74.5 L331 74.5 L334.5 74.5 L331 75.5 L326.5 76.5 L329 79 L325.5 79.5 L321 81 L319.5 78 L317.5 79 L315.5 75.5"/>
<path d="M306.5 116 L308.5 112.5 L311.5 109 L314 105.5 L317 101.5 L319.5 98.5 L324 96.5 L328 94.5 L333 93.5 L336 94 L338 95.5 L341.5 97 L345 98.5"/>
<path d="M329.5 104.5 L326.5 106 L324 109.5 L323 113.5 L324 117 L322 119.5 L319.5 122.5 L318.5 124"/>
<path d="M318.5 123 L315.5 121 L312.5 119.5 L310 119 L306.5 116"/>
<path d="M329.5 104.5 L326.5 108.5 L327.5 112 L329.5 114.5 L332.5 116 L336 117 L334 118 L331 119.5 L328 121.5 L325.5 124"/>
<path d="M345 102.5 L340 102.5 L342 105 L343.5 107 L345 107"/>
<path d="M297 113.5 L298.5 114.5"/>
<path d="M290 119 L292.5 118 L294.5 119 L296 121 L296.5 124"/>
<path d="M290 119 L291 121 L292.5 122.5 L293 124"/>
<path d="M291 118.5 L293 118 L294.5 120.5 L296.5 124 L298.5 128.5 L300.5 132.5 L300 134 L297 134.5 L294.5 135.5 L295 132.5 L293 129.5 L291.5 127 L290 129 L289 132 L288 129 L289.5 126 L291.5 123.5 L291 120.5 L291 118.5"/>
<path d="M334.5 117 L331 120 L326.5 123.5 L322.5 126 L318.5 127.5 L315.5 128.5 L314 125.5 L312.5 123.5 L310 123.5 L308.5 126 L307.5 129.5 L305 132.5 L302 135.5 L298.5 137 L295 138 L296 141 L298 144.5 L295 146 L292.5 148 L290 151 L289 154.5 L288.5 158 L290 160.5 L292 163 L295 162.5 L298.5 161.5 L300.5 158.5 L302 155 L304 152 L307 150 L309.5 149.5 L311.5 151 L314 152 L316 154.5 L318.5 156.5 L321 158 L324 158 L325.5 160 L326.5 162.5 L328 162 L328 159 L328 157 L331.5 156.5 L334 155 L336 152 L336.5 148.5 L338 146 L341 145 L345 145"/>
<path d="M317 147 L319.5 150 L322 153 L323 155.5 L322 157 L319.5 155 L318 152 L317 147"/>
<path d="M307.5 117 L311.5 119 L314 120 L317 121 L319 123.5 L321 120.5 L322.5 117"/>
<path d="M292 163 L289.5 167.5 L287.5 173.5 L284.5 179 L283 184"/>
<path d="M292 165 L297 164.5 L303 163.5 L307.5 162.5 L312 162.5 L312.5 166 L314 169.5 L317.5 171 L320.5 173.5 L324 176 L326.5 174 L329 172.5 L331.5 174 L336 174.5 L339.5 175 L341 171 L343 168.5 L345 166"/>
<path d="M331.5 156.5 L333 159 L336 162 L338.5 164 L341.5 165 L345 165.5"/>
<path d="M334 155 L339.5 154.5 L345 155.5"/>
<path d="M339.5 175 L340 179 L341.5 184"/>
<path d="M310.5 154.5 L311.5 156.5"/>
<path d="M316 160.5 L319 160.5"/>
<path d="M329.5 165 L329.5 166.5"/>
<path d="M353.5 74 L356 73.5 L358.5 73 L360.5 74 L362.5 74"/>
<path d="M376 73 L376.5 73"/>
<path d="M379 72 L381 72"/>
<path d="M385 80 L381 81.5 L376.5 83 L372.5 84.5 L369.5 86.5 L366.5 88.5 L365.5 90 L367.5 92 L369.5 93.5 L371.5 94 L368 91.5 L366.5 89.5 L370 87 L374.5 85 L378.5 83.5 L383 81.5 L385 80"/>
<path d="M340 96.5 L344 98.5 L348.5 100.5 L351.5 101.5 L347 102 L343 102.5 L340.5 102.5 L343 106 L347 106.5 L352 106 L355 104 L355.5 99 L356 102 L358.5 100.5 L362 98.5 L368 98 L375 98 L378.5 97 L384.5 96.5 L384.5 92 L388 91.5 L390 91.5 L390.5 95 L390 98 L388 99 L385.5 101.5 L388.5 102.5 L391.5 101.5 L394 99 L396 97.5 L397.5 99 L400 101.5"/>
<path d="M392.5 91 L392.5 94.5 L393.5 98"/>
<path d="M392.5 91 L395.5 91 L396.5 93.5 L397.5 92 L397 90 L402 90.5 L402.5 92 L404 94.5"/>
<path d="M400 88.5 L402 90.5 L402 88 L405.5 87 L407.5 85 L409.5 83.5 L413 83 L416.5 82.5 L420 82 L424.5 81 L426.5 79.5 L428.5 79 L430 80"/>
<path d="M382 101.5 L382.5 101.5"/>
<path d="M414.5 74 L416.5 73 L419 72 L418 74 L421 75 L423 75.5 L420 76 L417.5 76.5 L416 75.5 L414.5 74"/>
<path d="M425 75.5 L426 78"/>
<path d="M425 76 L426.5 76.5 L426 79 L427.5 79.5 L431 81 L435 82.5 L440 83.5 L436.5 85 L433.5 86 L438.5 87.5 L445.5 87.5 L453 87.5 L457 88 L456 90 L458.5 91.5 L461.5 92.5 L465.5 91.5 L469.5 90.5 L473.5 89.5 L479 89.5 L483 90 L485 91 L489 92 L494 93 L498.5 94.5 L503 95.5 L509.5 94.5 L514 95 L519 96 L522.5 97 L525 97.5"/>
<path d="M470.5 83 L472.5 82.5 L475 82.5 L474 84 L479 83.5 L482 84.5 L483.5 85"/>
<path d="M475 86.5 L475.5 86.5"/>
<path d="M525 104 L522.5 107 L520.5 110 L516.5 112 L512.5 113.5 L508 115 L504 115.5 L502.5 119.5 L501.5 123.5 L499 126.5 L497 129.5 L495.5 132"/>
<path d="M504 111.5 L500 112.5 L497 112 L494.5 111.5 L492 113 L490.5 116.5 L486 116.5 L482 116.5 L478 118 L474 118.5 L472.5 121 L471 124 L469.5 127.5 L471 128.5 L473.5 129.5 L476 130.5"/>
<path d="M476 126 L476.5 129.5 L477.5 132"/>
<path d="M504 111.5 L501.5 113 L498.5 115.5 L495.5 118 L493.5 119.5 L493.5 124 L494 129 L494 132"/>
<path d="M513 129.5 L513.5 129.5"/>
<path d="M519.5 131 L520 131.5"/>
<path d="M340 146 L344 144.5 L349 142.5 L350 146.5 L349.5 151 L347.5 154.5 L344 155.5 L340 154.5"/>
<path d="M361 143 L364 142.5 L365 144.5 L364 148.5 L365.5 153.5 L366.5 158.5 L366 160.5 L363 160 L360.5 159 L360 154.5 L359.5 149.5 L360 145 L361 143"/>
<path d="M373.5 144.5 L376 143.5 L377 144.5 L376 146.5 L375 149.5 L374 147 L373.5 144.5"/>
<path d="M391.5 147 L395 145 L399 143.5"/>
<path d="M394.5 152.5 L394.5 152.5"/>
<path d="M340 165 L343 166 L344 167 L343 169.5 L341.5 172.5 L340.5 176 L340 180.5"/>
<path d="M361 178 L363 181 L364 184"/>
<path d="M472 124 L469.5 127 L472 128.5 L474.5 130 L473.5 133.5 L474 137.5 L472 140.5 L469.5 143.5 L466.5 146.5 L463.5 150 L461 153 L460.5 156 L459.5 159 L458 162.5 L456 165.5 L455.5 161.5 L454.5 157.5 L452.5 157 L450 155 L447.5 157 L445.5 159 L448 160.5 L451 161.5 L450 166 L449.5 171 L450.5 175.5 L449.5 180 L448.5 185 L447 187.5 L444 189.5 L440 192.5 L436.5 193.5 L434.5 194 L434.5 197.5 L437.5 198"/>
<path d="M449 187.5 L451.5 186.5"/>
<path d="M476 126.5 L476.5 130 L477.5 135 L479 135.5 L478 139.5 L476.5 143 L475.5 139.5 L476 135 L475 130 L476 126.5"/>
<path d="M475.5 146.5 L477.5 147.5 L479 149 L477.5 150.5 L475 152 L474 155 L474.5 160 L474 164 L472 166 L469.5 167 L466.5 167.5 L463.5 169.5 L460.5 170.5 L462 173.5 L464 171 L465 168.5 L467 165.5 L469.5 163 L472 160 L474 157 L474 152 L474.5 149 L475.5 146.5"/>
<path d="M494 124 L494 128.5 L494 133.5 L496 131 L498.5 128.5 L501 125.5 L501 124"/>
<path d="M513 129.5 L513.5 129.5"/>
<path d="M519.5 131 L519.5 132.5"/>
<path d="M400 211 L401 205.5 L406 199.5 L411.5 194 L415 198.5 L418 204 L420.5 209 L422 215 L423.5 221 L425 227.5 L426 232 L425 227.5 L424 221 L423.5 215 L423 210.5 L426 213.5 L429 217 L432 217.5 L433 212 L433.5 205.5 L434.5 199.5 L435 194.5 L438.5 193.5 L441.5 191.5 L444.5 190"/>
<path d="M435 198 L437.5 197.5"/>
<path d="M417 226 L420.5 228.5 L423.5 232 L426.5 237 L429 241 L431 244.5 L428 244.5 L426 244.5 L423.5 240 L421 235.5 L419 230.5 L417 226"/>
<path d="M445.5 224.5 L446.5 229 L447 234 L445.5 238.5 L444 242.5 L441.5 245.5 L438.5 243 L435.5 240.5 L437.5 236 L440 232 L442 228.5 L445.5 224.5"/>
<path d="M431 251 L436 252.5 L441.5 254 L437.5 254.5 L433.5 254 L431 251"/>
<path d="M450.5 200.5 L451.5 200.5 L452.5 205.5 L452 209.5 L450 210.5 L449 205.5 L450.5 200.5"/>
<path d="M447.5 216.5 L449 215"/>
<path d="M454.5 218.5 L455.5 222 L455.5 225 L453 224.5 L451.5 224 L454.5 218.5"/>
<path d="M462 241.5 L467 244 L476 243.5 L478 247 L481 252.5 L484.5 257 L486.5 259.5 L481 256.5 L476.5 255 L472 254 L469 250 L465.5 246 L462 241.5"/>
<path d="M461.5 263.5 L464 261 L466.5 262.5 L469 265"/>
<path d="M475 265 L476.5 261 L477.5 265"/>
<path d="M341.5 184 L343.5 188 L345 194 L346 199.5 L347.5 205 L349.5 210 L352 214 L352.5 215 L357.5 215 L363.5 214 L363.5 218 L362.5 222 L360 226 L357.5 232 L354.5 237.5 L352.5 241.5 L351 246 L349.5 251"/>
<path d="M344 184 L346 187.5 L347.5 192.5 L349 198 L350.5 203.5 L352 208 L354.5 210 L358 210.5 L361 209.5 L364.5 206.5 L368 203.5 L371 200 L372 196.5 L372 193 L370 191 L366.5 189 L364 187 L362.5 184"/>
<path d="M364.5 184 L366.5 185.5 L371 187 L375 188 L380 189 L383.5 191.5 L386.5 194.5 L389 197.5 L390.5 202.5 L392 209.5 L393.5 215.5 L394.5 220.5 L397 215.5 L399 210.5 L401 206 L404.5 201.5 L408 197.5 L411.5 193.5 L414.5 197.5 L417 202.5 L420 206"/>
<path d="M399 220.5 L398.5 223.5 L398 226"/>
<path d="M420 226 L418 227 L419.5 229.5 L420 231"/>
<path d="M341 238 L341.5 241.5 L341.5 245"/>
<path d="M282.5 184 L281 187 L279.5 191 L279 198 L279.5 205 L280 210.5 L281 216.5 L283 221.5 L285 225 L289 227 L292.5 228.5 L294.5 229.5 L297 228 L300 227 L303.5 228 L307 229.5 L309 232.5 L310.5 236.5 L312 241.5 L313.5 246 L314.5 251"/>
<path d="M340.5 238 L341 241.5 L341 245"/>
<path d="M341.5 184 L343 187.5 L344.5 191 L345 194"/>
<path d="M313 244 L314.5 249 L315.5 254 L316.5 261 L316 268 L315 274 L315.5 280 L317.5 286 L319 292 L320 296.5 L321.5 301.5 L323 306.5 L324 311 L326.5 310.5 L330 310 L333 309 L335.5 305 L338.5 300.5 L340.5 295.5 L342.5 290.5 L343.5 285.5 L345 280.5 L346.5 275 L348.5 269.5 L350 265 L350 259.5 L349 253 L351 247.5 L352 244"/>
<path d="M360.5 264.5 L360.5 270.5 L360.5 278 L358 282 L356 286 L354.5 289.5 L354.5 283.5 L354.5 278.5 L357 273 L359 268 L360.5 264.5"/>
<path d="M341.5 244 L342 245.5"/>
<path d="M200.5 170 L199.5 174.5 L199.5 179.5 L199 183.5 L196.5 181 L193.5 178 L190.5 176 L187 177.5 L183.5 178.5 L180 179.5 L178.5 184 L178 189 L178.5 193.5 L180 196.5 L183.5 198 L185.5 199.5 L188 197.5 L190.5 195 L191 196 L189.5 199.5 L189 204.5 L191 206 L193.5 208.5 L195 212 L196 216 L197 219 L198 221 L201 221 L203.5 221.5"/>
<path d="M170 196.5 L171.5 199.5 L173 202 L176 203.5 L180 205.5 L184 208.5 L187 211 L190.5 214 L192.5 217 L195 219 L197.5 220.5"/>
<path d="M194 194 L197.5 193.5 L201 195 L205 196.5 L207.5 198 L203.5 196 L199.5 194.5 L196.5 195 L194 194"/>
<path d="M206 201 L210 200.5 L212.5 199.5 L211.5 201 L208.5 201.5 L206 201"/>
<path d="M216 201.5 L216.5 201.5"/>
<path d="M202.5 188 L203 189"/>
<path d="M205 188.5 L205.5 188.5"/>
<path d="M202 203 L202.5 203.5"/>
<path d="M203.5 221.5 L206.5 218.5 L209 217 L211.5 214.5 L212 216.5 L215.5 217.5 L219 218 L222.5 219.5 L225.5 222 L228 224.5 L230 227 L231.5 230 L233.5 234 L235.5 238 L239 241.5 L242 243.5 L245 244.5"/>
<path d="M203.5 221.5 L203 226 L202 232.5 L201 239 L201 245"/>
<path d="M185.5 238.5 L185.5 239.5"/>
<path d="M200.5 240 L199.5 246 L200.5 252.5 L202 259 L203.5 265 L205 269.5 L208 273.5 L211 277 L211.5 284 L211.5 291.5 L211 298 L210 304 L209.5 309.5 L208.5 315"/>
<path d="M238 240 L240 243 L244 244.5 L248 246 L252 250 L255 253.5 L256.5 255.5 L255 259.5 L253.5 264 L252 269 L250.5 274.5 L249.5 279 L249 283 L247.5 285.5 L244 287 L241 289 L239 291.5 L238 296 L237 301 L235.5 305.5 L233 309.5 L231 312 L228.5 315"/>
<path d="M209 310 L208.5 316 L208.5 325.5 L208 335 L208 341 L207.5 345 L209.5 348.5 L212 351.5 L215 352 L217.5 351.5 L215 349 L213 347 L213.5 342 L214.5 336.5 L216.5 331 L220 325.5 L223 321 L227 316 L230 312.5 L231.5 310"/>
<path d="M225.5 344 L227 344.5"/>
<path d="M208 385 L210.5 382.5 L213 381 L213.5 383.5 L213 385"/>
<path d="M215.5 385 L216 379 L217.5 375 L220.5 371.5 L224.5 369.5 L226 371 L226.5 373.5 L225.5 377 L224 381 L222 385"/>
<path d="M217.5 378 L222 374 L225.5 371.5"/>
<path d="M217.5 378 L221 381 L223 383.5"/>
<path d="M145.5 140 L144.5 146 L145.5 152.5 L146.5 157 L147.5 162 L150 165 L152.5 168 L154 172 L155 176 L156 180 L158 184 L160 187 L162.5 188.5 L164.5 187 L166.5 190 L169 194 L170 196.5"/>
<path d="M158 176.5 L159.5 176 L160.5 179 L162 183 L164 186.5 L162.5 188 L161 187 L159.5 184 L158 180.5 L158 176.5"/>
<path d="M158.5 151.5 L159.5 151"/>
<path d="M101 193.5 L103 194.5 L104.5 195"/>
<path d="M105 197 L105.5 198"/>
<path d="M464.5 261 L462 264 L459.5 268 L457.5 269 L455 269 L453.5 272.5 L450.5 276.5 L446.5 279.5 L442.5 283 L441.5 288.5 L442 294.5 L443 300 L444 304.5 L446.5 306.5 L450.5 307 L454 305.5 L458 304 L462 302.5 L465 305.5 L468.5 308.5 L471 311.5 L473 315.5 L476 317 L480 317.5 L483 315 L486 311 L487.5 305.5 L488.5 300 L489.5 294.5 L489 291.5 L487 287.5 L484.5 282 L482.5 276.5 L480 270.5 L478.5 265.5 L476.5 260.5 L474.5 265 L472.5 269.5 L471.5 272 L470.5 269 L469 265 L466.5 263 L464.5 261"/>
<path d="M469 250 L472 253 L476 254.5 L480 256 L484 258 L486 259.5 L484 256 L481.5 252.5 L480.5 250"/>
<path d="M431.5 251 L434.5 253 L438 254 L441 254.5 L438 253 L434.5 252 L431.5 251"/>
<path d="M514.5 308.5 L516 311.5 L517.5 315 L519 318 L520 319.5 L518.5 319 L516.5 315.5 L515 312.5 L514.5 308.5"/>
<path d="M513.5 321 L514.5 323.5 L513 325"/>
<path d="M479 322 L481.5 323.5 L483 325"/>
<path d="M503 279 L503.5 280.5"/>
<path d="M521.5 273.5 L522.5 272.5"/>
<path d="M77 399.5 L85.5 399.5 L96.5 399.5 L102 398.5"/>
<path d="M96.5 399.5 L99.5 403"/>
<path d="M77 412.5 L86 412.5 L87 413.5 L96.5 413.5 L106 413.5 L107 414.5 L115.5 414.5 L113.5 411.5 L111.5 409 L109.5 406 L108 403 L109.5 399.5 L111.5 397 L117 395.5 L124.5 394 L130.5 393 L136 391.5 L141.5 390 L145.5 389 L149 389.5 L153 390.5 L156.5 390.5 L159.5 393 L162 393.5 L166 392.5 L170.5 392.5 L173.5 390.5 L174.5 388.5 L178 388 L180 389.5 L186.5 389.5 L194 389.5"/>
<path d="M136 392 L141.5 391 L149 391 L153 391"/>
<path d="M190 389.5 L197.5 388.5 L203 388 L207 388.5 L210.5 389.5 L213.5 386.5 L215.5 382.5 L216.5 378 L218 375"/>
<path d="M207 385 L210.5 382.5 L213.5 380.5 L212.5 384.5 L209.5 386.5 L207 385"/>
<path d="M224 375 L223 379.5 L221 383.5 L222 386.5 L223.5 390 L223.5 393"/>
<path d="M223.5 393 L218 394 L210.5 395.5 L203 396.5 L196.5 397.5 L199.5 400.5 L203 403 L207 404.5 L214.5 405.5 L220 406.5 L226.5 407.5 L235 407 L242.5 406 L250 405 L255.5 404 L260.5 403 L258.5 401.5 L257.5 398.5 L252 399 L244.5 399 L240.5 398 L235 396.5 L229.5 394.5 L223.5 393"/>
<path d="M220 403.5 L227.5 403 L235 401.5 L240.5 399.5 L244.5 400.5 L245.5 403 L239 403.5 L231.5 403 L227.5 402"/>
<path d="M257.5 398.5 L261.5 395.5 L267 393 L272.5 390.5 L278 388.5 L284 386.5 L289.5 385 L295 382.5 L298 381 L301.5 381.5 L305.5 383 L310 383"/>
<path d="M260.5 397 L269 392.5 L276.5 389.5 L284 388 L291.5 385.5 L297 385 L300.5 384 L305.5 383"/>
<path d="M310 383 L319 383 L324.5 383.5 L332 383.5 L335.5 381.5 L340.5 381 L345 382 L347 383 L350.5 379.5 L354.5 378 L360 376.5 L364.5 374.5 L367.5 375 L371.5 376.5 L377 377 L382.5 378 L385.5 379 L388 380.5 L386.5 383 L389 383 L392 382 L395.5 381 L399.5 379 L402 377 L405 376 L412.5 375.5 L420 375.5"/>
<path d="M300 384 L305.5 383.5 L310 383"/>
<path d="M324.5 384 L332 384"/>
<path d="M385.5 379 L386 383 L389 383"/>
<path d="M410 375.5 L420.5 375 L422 374.5 L430.5 374.5 L439 374.5 L442 375.5 L445.5 376.5 L449.5 376 L453 375 L460.5 374.5 L469 374.5 L472 375.5 L475.5 376.5 L481.5 378 L487 379.5 L492.5 381 L498 382 L503 383.5 L507.5 385.5 L511.5 386.5 L509.5 389.5 L506.5 392 L504.5 396 L503 398.5 L501.5 400.5 L504 403.5 L505.5 406.5 L508.5 408.5 L513 409.5"/>
<path d="M503 398.5 L507.5 398 L513 398 L519 399 L522.5 399.5"/>
<path d="M84 266.5 L85.5 266.5"/>
<path d="M515.5 326.5 L514.5 330 L511.5 332 L508.5 334 L510.5 330 L512.5 327 L515.5 326.5"/>
<path d="M480.5 326 L481.5 326.5"/>
</g>
<rect class="fr" x="74.5" y="57.5" width="450" height="361"/>
<g class="cb">
<rect x="536" y="58" width="21" height="1" fill="#fffc00"/><rect x="536" y="59" width="21" height="1" fill="#fffc00"/><rect x="536" y="60" width="21" height="1" fill="#fef600"/><rect x="536" y="61" width="21" height="1" fill="#fef600"/><rect x="536" y="62" width="21" height="1" fill="#fef600"/><rect x="536" y="63" width="21" height="1" fill="#fcf000"/><rect x="536" y="64" width="21" height="1" fill="#fcf000"/><rect x="536" y="65" width="21" height="1" fill="#fcf000"/><rect x="536" y="66" width="21" height="1" fill="#fbeb00"/><rect x="536" y="67" width="21" height="1" fill="#fbeb00"/><rect x="536" y="68" width="21" height="1" fill="#fbeb00"/><rect x="536" y="69" width="21" height="1" fill="#fae500"/><rect x="536" y="70" width="21" height="1" fill="#fae500"/><rect x="536" y="71" width="21" height="1" fill="#fae500"/><rect x="536" y="72" width="21" height="1" fill="#f9e000"/><rect x="536" y="73" width="21" height="1" fill="#f9e000"/><rect x="536" y="74" width="21" height="1" fill="#f8da00"/><rect x="536" y="75" width="21" height="1" fill="#f8da00"/><rect x="536" y="76" width="21" height="1" fill="#f8da00"/><rect x="536" y="77" width="21" height="1" fill="#f7d500"/><rect x="536" y="78" width="21" height="1" fill="#f7d500"/><rect x="536" y="79" width="21" height="1" fill="#f7d500"/><rect x="536" y="80" width="21" height="1" fill="#f6cf00"/><rect x="536" y="81" width="21" height="1" fill="#f6cf00"/><rect x="536" y="82" width="21" height="1" fill="#f6cf00"/><rect x="536" y="83" width="21" height="1" fill="#f5ca00"/><rect x="536" y="84" width="21" height="1" fill="#f5ca00"/><rect x="536" y="85" width="21" height="1" fill="#f5ca00"/><rect x="536" y="86" width="21" height="1" fill="#f4c500"/><rect x="536" y="87" width="21" height="1" fill="#f4c500"/><rect x="536" y="88" width="21" height="1" fill="#f4c500"/><rect x="536" y="89" width="21" height="1" fill="#f3c000"/><rect x="536" y="90" width="21" height="1" fill="#f3c000"/><rect x="536" y="91" width="21" height="1" fill="#f2bb00"/><rect x="536" y="92" width="21" height="1" fill="#f2bb00"/><rect x="536" y="93" width="21" height="1" fill="#f2bb00"/><rect x="536" y="94" width="21" height="1" fill="#f1b700"/><rect x="536" y="95" width="21" height="1" fill="#f1b700"/><rect x="536" y="96" width="21" height="1" fill="#f1b700"/><rect x="536" y="97" width="21" height="1" fill="#f0b200"/><rect x="536" y="98" width="21" height="1" fill="#f0b200"/><rect x="536" y="99" width="21" height="1" fill="#f0b200"/><rect x="536" y="100" width="21" height="1" fill="#efad00"/><rect x="536" y="101" width="21" height="1" fill="#efad00"/><rect x="536" y="102" width="21" height="1" fill="#efad00"/><rect x="536" y="103" width="21" height="1" fill="#eea900"/><rect x="536" y="104" width="21" height="1" fill="#eea900"/><rect x="536" y="105" width="21" height="1" fill="#eda400"/><rect x="536" y="106" width="21" height="1" fill="#eda400"/><rect x="536" y="107" width="21" height="1" fill="#eda400"/><rect x="536" y="108" width="21" height="1" fill="#eca000"/><rect x="536" y="109" width="21" height="1" fill="#eca000"/><rect x="536" y="110" width="21" height="1" fill="#eca000"/><rect x="536" y="111" width="21" height="1" fill="#eb9b00"/><rect x="536" y="112" width="21" height="1" fill="#eb9b00"/><rect x="536" y="113" width="21" height="1" fill="#eb9b00"/><rect x="536" y="114" width="21" height="1" fill="#ea9700"/><rect x="536" y="115" width="21" height="1" fill="#ea9700"/><rect x="536" y="116" width="21" height="1" fill="#ea9700"/><rect x="536" y="117" width="21" height="1" fill="#e99300"/><rect x="536" y="118" width="21" height="1" fill="#e99300"/><rect x="536" y="119" width="21" height="1" fill="#e99300"/><rect x="536" y="120" width="21" height="1" fill="#e88f00"/><rect x="536" y="121" width="21" height="1" fill="#e88f00"/><rect x="536" y="122" width="21" height="1" fill="#e68b00"/><rect x="536" y="123" width="21" height="1" fill="#e68b00"/><rect x="536" y="124" width="21" height="1" fill="#e68b00"/><rect x="536" y="125" width="21" height="1" fill="#e58700"/><rect x="536" y="126" width="21" height="1" fill="#e58700"/><rect x="536" y="127" width="21" height="1" fill="#e58700"/><rect x="536" y="128" width="21" height="1" fill="#e48300"/><rect x="536" y="129" width="21" height="1" fill="#e48300"/><rect x="536" y="130" width="21" height="1" fill="#e48300"/><rect x="536" y="131" width="21" height="1" fill="#e37f00"/><rect x="536" y="132" width="21" height="1" fill="#e37f00"/><rect x="536" y="133" width="21" height="1" fill="#e37f00"/><rect x="536" y="134" width="21" height="1" fill="#e27b00"/><rect x="536" y="135" width="21" height="1" fill="#e27b00"/><rect x="536" y="136" width="21" height="1" fill="#e17800"/><rect x="536" y="137" width="21" height="1" fill="#e17800"/><rect x="536" y="138" width="21" height="1" fill="#e17800"/><rect x="536" y="139" width="21" height="1" fill="#e07400"/><rect x="536" y="140" width="21" height="1" fill="#e07400"/><rect x="536" y="141" width="21" height="1" fill="#e07400"/><rect x="536" y="142" width="21" height="1" fill="#df7100"/><rect x="536" y="143" width="21" height="1" fill="#df7100"/><rect x="536" y="144" width="21" height="1" fill="#df7100"/><rect x="536" y="145" width="21" height="1" fill="#dd6d00"/><rect x="536" y="146" width="21" height="1" fill="#dd6d00"/><rect x="536" y="147" width="21" height="1" fill="#dd6d00"/><rect x="536" y="148" width="21" height="1" fill="#dc6a00"/><rect x="536" y="149" width="21" height="1" fill="#dc6a00"/><rect x="536" y="150" width="21" height="1" fill="#dc6a00"/><rect x="536" y="151" width="21" height="1" fill="#db6700"/><rect x="536" y="152" width="21" height="1" fill="#db6700"/><rect x="536" y="153" width="21" height="1" fill="#da6300"/><rect x="536" y="154" width="21" height="1" fill="#da6300"/><rect x="536" y="155" width="21" height="1" fill="#da6300"/><rect x="536" y="156" width="21" height="1" fill="#d96000"/><rect x="536" y="157" width="21" height="1" fill="#d96000"/><rect x="536" y="158" width="21" height="1" fill="#d96000"/><rect x="536" y="159" width="21" height="1" fill="#d85d00"/><rect x="536" y="160" width="21" height="1" fill="#d85d00"/><rect x="536" y="161" width="21" height="1" fill="#d85d00"/><rect x="536" y="162" width="21" height="1" fill="#d65a00"/><rect x="536" y="163" width="21" height="1" fill="#d65a00"/><rect x="536" y="164" width="21" height="1" fill="#d65a00"/><rect x="536" y="165" width="21" height="1" fill="#d55700"/><rect x="536" y="166" width="21" height="1" fill="#d55700"/><rect x="536" y="167" width="21" height="1" fill="#d45400"/><rect x="536" y="168" width="21" height="1" fill="#d45400"/><rect x="536" y="169" width="21" height="1" fill="#d45400"/><rect x="536" y="170" width="21" height="1" fill="#d35100"/><rect x="536" y="171" width="21" height="1" fill="#d35100"/><rect x="536" y="172" width="21" height="1" fill="#d35100"/><rect x="536" y="173" width="21" height="1" fill="#d24f00"/><rect x="536" y="174" width="21" height="1" fill="#d24f00"/><rect x="536" y="175" width="21" height="1" fill="#d24f00"/><rect x="536" y="176" width="21" height="1" fill="#d04c00"/><rect x="536" y="177" width="21" height="1" fill="#d04c00"/><rect x="536" y="178" width="21" height="1" fill="#d04c00"/><rect x="536" y="179" width="21" height="1" fill="#cf4900"/><rect x="536" y="180" width="21" height="1" fill="#cf4900"/><rect x="536" y="181" width="21" height="1" fill="#cf4900"/><rect x="536" y="182" width="21" height="1" fill="#ce4700"/><rect x="536" y="183" width="21" height="1" fill="#ce4700"/><rect x="536" y="184" width="21" height="1" fill="#cd4400"/><rect x="536" y="185" width="21" height="1" fill="#cd4400"/><rect x="536" y="186" width="21" height="1" fill="#cd4400"/><rect x="536" y="187" width="21" height="1" fill="#cb4200"/><rect x="536" y="188" width="21" height="1" fill="#cb4200"/><rect x="536" y="189" width="21" height="1" fill="#cb4200"/><rect x="536" y="190" width="21" height="1" fill="#ca3f00"/><rect x="536" y="191" width="21" height="1" fill="#ca3f00"/><rect x="536" y="192" width="21" height="1" fill="#ca3f00"/><rect x="536" y="193" width="21" height="1" fill="#c93d00"/><rect x="536" y="194" width="21" height="1" fill="#c93d00"/><rect x="536" y="195" width="21" height="1" fill="#c93d00"/><rect x="536" y="196" width="21" height="1" fill="#c83b00"/><rect x="536" y="197" width="21" height="1" fill="#c83b00"/><rect x="536" y="198" width="21" height="1" fill="#c83b00"/><rect x="536" y="199" width="21" height="1" fill="#c63900"/><rect x="536" y="200" width="21" height="1" fill="#c63900"/><rect x="536" y="201" width="21" height="1" fill="#c53600"/><rect x="536" y="202" width="21" height="1" fill="#c53600"/><rect x="536" y="203" width="21" height="1" fill="#c53600"/><rect x="536" y="204" width="21" height="1" fill="#c43400"/><rect x="536" y="205" width="21" height="1" fill="#c43400"/><rect x="536" y="206" width="21" height="1" fill="#c43400"/><rect x="536" y="207" width="21" height="1" fill="#c33200"/><rect x="536" y="208" width="21" height="1" fill="#c33200"/><rect x="536" y="209" width="21" height="1" fill="#c33200"/><rect x="536" y="210" width="21" height="1" fill="#c13000"/><rect x="536" y="211" width="21" height="1" fill="#c13000"/><rect x="536" y="212" width="21" height="1" fill="#c13000"/><rect x="536" y="213" width="21" height="1" fill="#c02e00"/><rect x="536" y="214" width="21" height="1" fill="#c02e00"/><rect x="536" y="215" width="21" height="1" fill="#bf2c00"/><rect x="536" y="216" width="21" height="1" fill="#bf2c00"/><rect x="536" y="217" width="21" height="1" fill="#bf2c00"/><rect x="536" y="218" width="21" height="1" fill="#bd2b00"/><rect x="536" y="219" width="21" height="1" fill="#bd2b00"/><rect x="536" y="220" width="21" height="1" fill="#bd2b00"/><rect x="536" y="221" width="21" height="1" fill="#bc2900"/><rect x="536" y="222" width="21" height="1" fill="#bc2900"/><rect x="536" y="223" width="21" height="1" fill="#bc2900"/><rect x="536" y="224" width="21" height="1" fill="#bb2700"/><rect x="536" y="225" width="21" height="1" fill="#bb2700"/><rect x="536" y="226" width="21" height="1" fill="#bb2700"/><rect x="536" y="227" width="21" height="1" fill="#b92500"/><rect x="536" y="228" width="21" height="1" fill="#b92500"/><rect x="536" y="229" width="21" height="1" fill="#b92500"/><rect x="536" y="230" width="21" height="1" fill="#b82400"/><rect x="536" y="231" width="21" height="1" fill="#b82400"/><rect x="536" y="232" width="21" height="1" fill="#b62200"/><rect x="536" y="233" width="21" height="1" fill="#b62200"/><rect x="536" y="234" width="21" height="1" fill="#b62200"/><rect x="536" y="235" width="21" height="1" fill="#b52100"/><rect x="536" y="236" width="21" height="1" fill="#b52100"/><rect x="536" y="237" width="21" height="1" fill="#b52100"/><rect x="536" y="238" width="21" height="1" fill="#b41f06"/><rect x="536" y="239" width="21" height="1" fill="#b41f06"/><rect x="536" y="240" width="21" height="1" fill="#b41f06"/><rect x="536" y="241" width="21" height="1" fill="#b21e13"/><rect x="536" y="242" width="21" height="1" fill="#b21e13"/><rect x="536" y="243" width="21" height="1" fill="#b21e13"/><rect x="536" y="244" width="21" height="1" fill="#b11c1f"/><rect x="536" y="245" width="21" height="1" fill="#b11c1f"/><rect x="536" y="246" width="21" height="1" fill="#af1b2c"/><rect x="536" y="247" width="21" height="1" fill="#af1b2c"/><rect x="536" y="248" width="21" height="1" fill="#af1b2c"/><rect x="536" y="249" width="21" height="1" fill="#ae1a38"/><rect x="536" y="250" width="21" height="1" fill="#ae1a38"/><rect x="536" y="251" width="21" height="1" fill="#ae1a38"/><rect x="536" y="252" width="21" height="1" fill="#ac1844"/><rect x="536" y="253" width="21" height="1" fill="#ac1844"/><rect x="536" y="254" width="21" height="1" fill="#ac1844"/><rect x="536" y="255" width="21" height="1" fill="#ab1750"/><rect x="536" y="256" width="21" height="1" fill="#ab1750"/><rect x="536" y="257" width="21" height="1" fill="#ab1750"/><rect x="536" y="258" width="21" height="1" fill="#a9165c"/><rect x="536" y="259" width="21" height="1" fill="#a9165c"/><rect x="536" y="260" width="21" height="1" fill="#a9165c"/><rect x="536" y="261" width="21" height="1" fill="#a81567"/><rect x="536" y="262" width="21" height="1" fill="#a81567"/><rect x="536" y="263" width="21" height="1" fill="#a61473"/><rect x="536" y="264" width="21" height="1" fill="#a61473"/><rect x="536" y="265" width="21" height="1" fill="#a61473"/><rect x="536" y="266" width="21" height="1" fill="#a5137e"/><rect x="536" y="267" width="21" height="1" fill="#a5137e"/><rect x="536" y="268" width="21" height="1" fill="#a5137e"/><rect x="536" y="269" width="21" height="1" fill="#a31288"/><rect x="536" y="270" width="21" height="1" fill="#a31288"/><rect x="536" y="271" width="21" height="1" fill="#a31288"/><rect x="536" y="272" width="21" height="1" fill="#a21193"/><rect x="536" y="273" width="21" height="1" fill="#a21193"/><rect x="536" y="274" width="21" height="1" fill="#a21193"/><rect x="536" y="275" width="21" height="1" fill="#a0109d"/><rect x="536" y="276" width="21" height="1" fill="#a0109d"/><rect x="536" y="277" width="21" height="1" fill="#9f0fa7"/><rect x="536" y="278" width="21" height="1" fill="#9f0fa7"/><rect x="536" y="279" width="21" height="1" fill="#9f0fa7"/><rect x="536" y="280" width="21" height="1" fill="#9d0eb0"/><rect x="536" y="281" width="21" height="1" fill="#9d0eb0"/><rect x="536" y="282" width="21" height="1" fill="#9d0eb0"/><rect x="536" y="283" width="21" height="1" fill="#9b0db9"/><rect x="536" y="284" width="21" height="1" fill="#9b0db9"/><rect x="536" y="285" width="21" height="1" fill="#9b0db9"/><rect x="536" y="286" width="21" height="1" fill="#9a0cc1"/><rect x="536" y="287" width="21" height="1" fill="#9a0cc1"/><rect x="536" y="288" width="21" height="1" fill="#9a0cc1"/><rect x="536" y="289" width="21" height="1" fill="#980bc9"/><rect x="536" y="290" width="21" height="1" fill="#980bc9"/><rect x="536" y="291" width="21" height="1" fill="#980bc9"/><rect x="536" y="292" width="21" height="1" fill="#960bd0"/><rect x="536" y="293" width="21" height="1" fill="#960bd0"/><rect x="536" y="294" width="21" height="1" fill="#950ad7"/><rect x="536" y="295" width="21" height="1" fill="#950ad7"/><rect x="536" y="296" width="21" height="1" fill="#950ad7"/><rect x="536" y="297" width="21" height="1" fill="#9309de"/><rect x="536" y="298" width="21" height="1" fill="#9309de"/><rect x="536" y="299" width="21" height="1" fill="#9309de"/><rect x="536" y="300" width="21" height="1" fill="#9109e4"/><rect x="536" y="301" width="21" height="1" fill="#9109e4"/><rect x="536" y="302" width="21" height="1" fill="#9109e4"/><rect x="536" y="303" width="21" height="1" fill="#8f08e9"/><rect x="536" y="304" width="21" height="1" fill="#8f08e9"/><rect x="536" y="305" width="21" height="1" fill="#8f08e9"/><rect x="536" y="306" width="21" height="1" fill="#8e07ee"/><rect x="536" y="307" width="21" height="1" fill="#8e07ee"/><rect x="536" y="308" width="21" height="1" fill="#8e07ee"/><rect x="536" y="309" width="21" height="1" fill="#8c07f2"/><rect x="536" y="310" width="21" height="1" fill="#8c07f2"/><rect x="536" y="311" width="21" height="1" fill="#8a06f6"/><rect x="536" y="312" width="21" height="1" fill="#8a06f6"/><rect x="536" y="313" width="21" height="1" fill="#8a06f6"/><rect x="536" y="314" width="21" height="1" fill="#8806f9"/><rect x="536" y="315" width="21" height="1" fill="#8806f9"/><rect x="536" y="316" width="21" height="1" fill="#8806f9"/><rect x="536" y="317" width="21" height="1" fill="#8605fb"/><rect x="536" y="318" width="21" height="1" fill="#8605fb"/><rect x="536" y="319" width="21" height="1" fill="#8605fb"/><rect x="536" y="320" width="21" height="1" fill="#8405fd"/><rect x="536" y="321" width="21" height="1" fill="#8405fd"/><rect x="536" y="322" width="21" height="1" fill="#8405fd"/><rect x="536" y="323" width="21" height="1" fill="#8205fe"/><rect x="536" y="324" width="21" height="1" fill="#8205fe"/><rect x="536" y="325" width="21" height="1" fill="#8004ff"/><rect x="536" y="326" width="21" height="1" fill="#8004ff"/><rect x="536" y="327" width="21" height="1" fill="#8004ff"/><rect x="536" y="328" width="21" height="1" fill="#7e04ff"/><rect x="536" y="329" width="21" height="1" fill="#7e04ff"/><rect x="536" y="330" width="21" height="1" fill="#7e04ff"/><rect x="536" y="331" width="21" height="1" fill="#7c03fe"/><rect x="536" y="332" width="21" height="1" fill="#7c03fe"/><rect x="536" y="333" width="21" height="1" fill="#7c03fe"/><rect x="536" y="334" width="21" height="1" fill="#7a03fd"/><rect x="536" y="335" width="21" height="1" fill="#7a03fd"/><rect x="536" y="336" width="21" height="1" fill="#7a03fd"/><rect x="536" y="337" width="21" height="1" fill="#7803fb"/><rect x="536" y="338" width="21" height="1" fill="#7803fb"/><rect x="536" y="339" width="21" height="1" fill="#7803fb"/><rect x="536" y="340" width="21" height="1" fill="#7603f9"/><rect x="536" y="341" width="21" height="1" fill="#7603f9"/><rect x="536" y="342" width="21" height="1" fill="#7402f6"/><rect x="536" y="343" width="21" height="1" fill="#7402f6"/><rect x="536" y="344" width="21" height="1" fill="#7402f6"/><rect x="536" y="345" width="21" height="1" fill="#7202f2"/><rect x="536" y="346" width="21" height="1" fill="#7202f2"/><rect x="536" y="347" width="21" height="1" fill="#7202f2"/><rect x="536" y="348" width="21" height="1" fill="#7002ee"/><rect x="536" y="349" width="21" height="1" fill="#7002ee"/><rect x="536" y="350" width="21" height="1" fill="#7002ee"/><rect x="536" y="351" width="21" height="1" fill="#6d02e9"/><rect x="536" y="352" width="21" height="1" fill="#6d02e9"/><rect x="536" y="353" width="21" height="1" fill="#6d02e9"/><rect x="536" y="354" width="21" height="1" fill="#6b01e4"/><rect x="536" y="355" width="21" height="1" fill="#6b01e4"/><rect x="536" y="356" width="21" height="1" fill="#6901de"/><rect x="536" y="357" width="21" height="1" fill="#6901de"/><rect x="536" y="358" width="21" height="1" fill="#6901de"/><rect x="536" y="359" width="21" height="1" fill="#6601d7"/><rect x="536" y="360" width="21" height="1" fill="#6601d7"/><rect x="536" y="361" width="21" height="1" fill="#6601d7"/><rect x="536" y="362" width="21" height="1" fill="#6401d0"/><rect x="536" y="363" width="21" height="1" fill="#6401d0"/><rect x="536" y="364" width="21" height="1" fill="#6401d0"/><rect x="536" y="365" width="21" height="1" fill="#6101c9"/><rect x="536" y="366" width="21" height="1" fill="#6101c9"/><rect x="536" y="367" width="21" height="1" fill="#6101c9"/><rect x="536" y="368" width="21" height="1" fill="#5e01c1"/><rect x="536" y="369" width="21" height="1" fill="#5e01c1"/><rect x="536" y="370" width="21" height="1" fill="#5e01c1"/><rect x="536" y="371" width="21" height="1" fill="#5c01b9"/><rect x="536" y="372" width="21" height="1" fill="#5c01b9"/><rect x="536" y="373" width="21" height="1" fill="#5900b0"/><rect x="536" y="374" width="21" height="1" fill="#5900b0"/><rect x="536" y="375" width="21" height="1" fill="#5900b0"/><rect x="536" y="376" width="21" height="1" fill="#5600a7"/><rect x="536" y="377" width="21" height="1" fill="#5600a7"/><rect x="536" y="378" width="21" height="1" fill="#5600a7"/><rect x="536" y="379" width="21" height="1" fill="#53009d"/><rect x="536" y="380" width="21" height="1" fill="#53009d"/><rect x="536" y="381" width="21" height="1" fill="#53009d"/><rect x="536" y="382" width="21" height="1" fill="#500093"/><rect x="536" y="383" width="21" height="1" fill="#500093"/><rect x="536" y="384" width="21" height="1" fill="#500093"/><rect x="536" y="385" width="21" height="1" fill="#4c0088"/><rect x="536" y="386" width="21" height="1" fill="#4c0088"/><rect x="536" y="387" width="21" height="1" fill="#49007e"/><rect x="536" y="388" width="21" height="1" fill="#49007e"/><rect x="536" y="389" width="21" height="1" fill="#49007e"/><rect x="536" y="390" width="21" height="1" fill="#450073"/><rect x="536" y="391" width="21" height="1" fill="#450073"/><rect x="536" y="392" width="21" height="1" fill="#450073"/><rect x="536" y="393" width="21" height="1" fill="#420067"/><rect x="536" y="394" width="21" height="1" fill="#420067"/><rect x="536" y="395" width="21" height="1" fill="#420067"/><rect x="536" y="396" width="21" height="1" fill="#3e005c"/><rect x="536" y="397" width="21" height="1" fill="#3e005c"/><rect x="536" y="398" width="21" height="1" fill="#3e005c"/><rect x="536" y="399" width="21" height="1" fill="#390050"/><rect x="536" y="400" width="21" height="1" fill="#390050"/><rect x="536" y="401" width="21" height="1" fill="#390050"/><rect x="536" y="402" width="21" height="1" fill="#350044"/><rect x="536" y="403" width="21" height="1" fill="#350044"/><rect x="536" y="404" width="21" height="1" fill="#300038"/><rect x="536" y="405" width="21" height="1" fill="#300038"/><rect x="536" y="406" width="21" height="1" fill="#300038"/><rect x="536" y="407" width="21" height="1" fill="#2a002c"/><rect x="536" y="408" width="21" height="1" fill="#2a002c"/><rect x="536" y="409" width="21" height="1" fill="#2a002c"/><rect x="536" y="410" width="21" height="1" fill="#24001f"/><rect x="536" y="411" width="21" height="1" fill="#24001f"/><rect x="536" y="412" width="21" height="1" fill="#24001f"/><rect x="536" y="413" width="21" height="1" fill="#1c0013"/><rect x="536" y="414" width="21" height="1" fill="#1c0013"/><rect x="536" y="415" width="21" height="1" fill="#1c0013"/><rect x="536" y="416" width="21" height="1" fill="#100006"/><rect x="536" y="417" width="21" height="1" fill="#100006"/>
</g>
<rect class="fr" x="535.5" y="57.5" width="22" height="361"/>
<path class="fr" d="M536 367.5 h4 M553 367.5 h4"/>
<path class="fr" d="M536 305.5 h4 M553 305.5 h4"/>
<path class="fr" d="M536 243.5 h4 M553 243.5 h4"/>
<path class="fr" d="M536 181.5 h4 M553 181.5 h4"/>
<path class="fr" d="M536 119.5 h4 M553 119.5 h4"/>
<text x="297.5" y="33" text-anchor="middle" style="letter-spacing:0.023px">UQRG-GIM Global VTEC maps 20230412.102.11700</text>
<text x="61.5" y="77.5" text-anchor="end">80</text>
<text x="61.5" y="118.7" text-anchor="end">60</text>
<text x="61.5" y="160.0" text-anchor="end">40</text>
<text x="61.5" y="201.2" text-anchor="end">20</text>
<text x="61.5" y="242.5" text-anchor="end">0</text>
<text x="61.5" y="283.8" text-anchor="end">-20</text>
<text x="61.5" y="325.0" text-anchor="end">-40</text>
<text x="61.5" y="366.3" text-anchor="end">-60</text>
<text x="61.5" y="407.5" text-anchor="end">-80</text>
<text x="112.0" y="443" text-anchor="middle">-150</text>
<text x="173.9" y="443" text-anchor="middle">-100</text>
<text x="235.5" y="443" text-anchor="middle">-50</text>
<text x="299.5" y="443" text-anchor="middle">0</text>
<text x="360.8" y="443" text-anchor="middle">50</text>
<text x="423.2" y="443" text-anchor="middle">100</text>
<text x="485.2" y="443" text-anchor="middle">150</text>
<text x="297.6" y="471" text-anchor="middle">Longitude / deg</text>
<text transform="translate(20,239) rotate(-90)" text-anchor="middle">Latitude / deg</text>
<text x="571" y="371.9">20</text>
<text x="571" y="309.9">40</text>
<text x="571" y="247.9">60</text>
<text x="571" y="185.9">80</text>
<text x="571" y="124.0">100</text>
<text x="571" y="62.0">120</text>
<text transform="translate(616,239.5) rotate(-90)" text-anchor="middle">VTEC / TECU</text>
</svg>
</body></html>
